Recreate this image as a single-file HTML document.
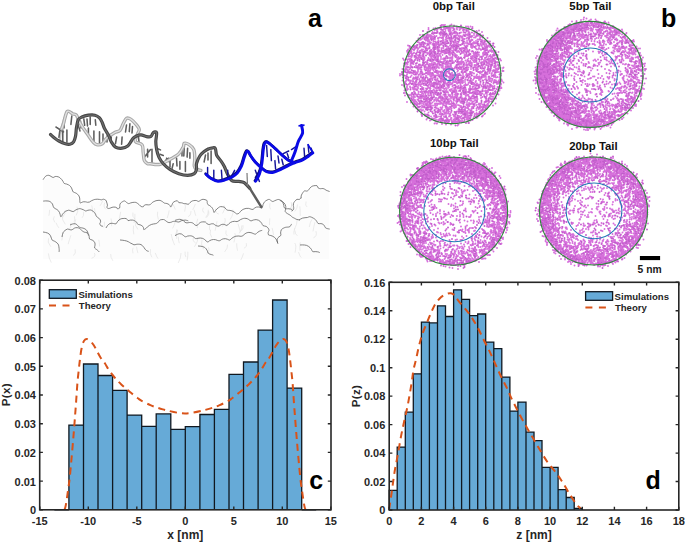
<!DOCTYPE html><html><head><meta charset="utf-8"><style>html,body{margin:0;padding:0;background:#fff;width:685px;height:542px;overflow:hidden}svg{display:block}</style></head><body>
<svg width="685" height="542" viewBox="0 0 685 542">
<rect width="685" height="542" fill="#fff"/>
<path d="M43 259L43.1 179.7L49 178L56.3 177.5L65 184.1L73.8 192.9L80.4 203.8L95.7 201.6L104.5 199.4L106.7 208.2L117.6 210.4L124.2 203.8L135.1 203.8L143.9 208.2L152.6 203.8L161.4 201.6L170.2 208.2L176.7 201.6L183.3 206L196.4 201.6L205.2 201.6L214 212.6L222.7 208.2L235.9 214.8L249 210.4L262.1 208.2L268.7 201.6L279.7 201.6L286.2 210.4L292.8 212.6L297.3 200.4L303.5 198.8L305.1 192.6L311.4 189.4L316.1 187.1L320.8 190.2L327.1 191L328.7 192.2L329 259Z" fill="#fcfcfc"/>
<path d="M175.6 220.9q-1.4 4.6 -3 7.5M297.5 204.5q0.2 3.8 -2.8 6.9M243 225.3q0.9 2.5 -1.6 5.6M187.8 251.7q0.4 4.3 -0.7 8.7M74.5 216.3q0.7 4.2 -0.5 5.4M120.7 211.8q-0.9 4.4 -1.8 9.4M292.2 203.1q-0.5 3.5 -2.9 7.1M299.8 206.3q0.4 2.4 0.5 9.5M102.9 200.5q-1.7 3.6 -2.9 5.4M185.1 251.6q-0.3 3.2 0.8 5.5M208.3 209.7q0.4 4.9 -2.7 7.8M215.8 208.4q-0.9 5 3 5.6M243.5 253.3q-1.1 3.8 -2.7 6.8M234.8 233.1q1.1 2.3 -0.9 9.3M209.6 225.3q-0.4 5 0.4 5.1M269.8 218.4q-0.3 2.6 -0.3 6.6M70.9 235.3q-1.6 4.4 -2.8 8.9M272.1 227.9q0.8 2.7 1.4 7.1M110.7 254q-0.4 3.1 2.2 6.8M232.9 209.6q1.4 2.8 -2.7 9.9M94.4 253q1.9 3.8 -2.9 5.3M104.4 221.8q0.4 4.9 -0.9 5.7M203.3 207.7q-1.7 3.7 1.2 5.3M172.4 239.4q1.1 3.1 2.3 5.8M246.3 243.2q1.5 3.5 -2.4 5.2M194.1 209.7q0.5 2.3 1.7 6.1M49.6 209.8q-0.2 3.7 -0.7 5.9M181 253q0.1 4.8 -2.8 10M294.9 230.5q0.1 3.6 2.5 5.3M226 230.4q-0.8 4.2 1.3 5.5M241.9 225.4q0 3.9 -2.7 8M150.5 249.2q-1.1 4.5 1.4 8.1M291.2 202q0.4 3.8 1.1 7M65.3 210.6q0.4 2.5 -2.6 6.8M177.7 230q-1.9 4.3 -1 8.9M48.4 253.4q0.4 4.9 2.9 9.2M75.7 219.5q-1.1 4.3 -1.8 6.1M77 206.7q1.8 4.9 -0.8 8.7M176.9 229.2q-0.5 3.9 -1.6 6.3M191 211.1q-0.2 4.8 -2.9 5.5M270 203.2q-1 4.6 0.6 6.1M62.4 215.4q-0.8 4.4 2.9 8.9M298.5 252.1q1.5 4.8 2.8 5.5M134.9 213.8q0.4 3.5 -0.9 9.2M157.7 211.7q-0.9 3.4 0.7 7.8M169.2 210.4q-0.4 3 -2 7.7M98.8 239.8q0.6 2.4 0.8 6.7M171.2 234q1 4.7 1.4 6.1M197.7 218.8q-1.9 3.7 -0.2 9.3M136.6 246.7q0.1 2.3 1.3 6.4M195.4 204q-2 4.8 -2.7 5.7M91.7 205.4q1.3 5 0.9 7M294.8 228.3q-1.5 4.1 -0.8 6.3M135.7 221.6q-1.3 3.8 2.2 7.9M48.6 238.3q-1.9 3.4 2.2 8.4M300.3 242.3q-0.9 2.4 -0.3 8.4M111 218.5q1 3 0.6 7.7M306.1 201.5q-1.3 4.3 1 5.5M83.7 211.8q0.2 4.7 -1.7 6M238 223.7q1.4 5 2.6 8.6M184.9 203.4q1.2 3.2 -0.2 8.2M315.9 231.1q1.7 4.9 -2.5 6.8M294.8 243q1.9 2.6 0.2 9.7M197.1 237.5q1.9 2.5 -2.7 9.3M208.7 211.2q1.3 2.9 -2.2 6.5M56.1 222.7q1.1 3.4 2.8 5.2M94.5 208.1q0.3 2.6 1 7.6M208.6 247.3q1.2 4.8 -2.1 6.9M314.9 222.2q-0.9 3.4 -1.9 9.2M224.1 205.3q1.9 3.6 -1.5 8.1M311.9 219.4q-1.9 2.6 -2.6 7.6M133.2 247.7q-1.2 2 -0.2 5.6M132.9 212.6q-1.3 3.9 2.6 6.9M224.8 218.1q1.7 3.7 -2.8 8.7M104.8 202.6q-1.9 4.5 1.3 6.8M202.1 239.5q-1.7 4.1 1.3 9.7M62.6 232.1q0 4.5 -0.8 8.3M297.2 219.5q0.1 4.7 -2.8 9.9M133.6 225.6q-0.8 4.4 0.2 8.7M75.1 249.3q1.3 4 -1.7 6.3M172.6 203.6q1.8 3.2 2.7 5.9M227.5 244.7q0.6 3.3 -2.9 7.2M155.2 252.9q1.9 4.9 2.9 5.8M54.3 216.4q-2 2.4 0.5 6M217 221.3q-0.9 4.9 -1.9 9.4M193.5 237.1q-1.4 4.2 2.3 6M178.4 236.6q-0.1 4.3 0.9 6.6M236.7 243.3q-0.1 3.8 0.8 7.4M70.9 222.8q1.1 4.2 -2.6 7.4M210.6 229.8q-1.4 3.9 1.2 7.7" stroke="#d4d4d4" stroke-width="0.9" fill="none" opacity="0.5"/>
<g fill="none" stroke="#4a4a4a" stroke-width="0.8" stroke-linejoin="round" opacity="0.85">
<path d="M43.1 179.7C43.3 179.3 44 178.1 44.6 177.4C45.1 176.8 45.5 176.2 46.2 175.8C47 175.5 48 175.2 48.8 175.3C49.6 175.4 50.3 176.1 51 176.4C51.7 176.8 52.5 177.5 53.2 177.5C53.9 177.5 54.3 176.6 55.2 176.5C56 176.4 57.4 176.5 58.2 176.8C59 177 59.5 177.5 60.1 177.9C60.7 178.4 61.2 178.9 61.7 179.5C62.1 180 62.6 180.7 63 181.3C63.4 182 63.6 183 64.2 183.4C64.8 183.8 65.8 183.8 66.5 184C67.3 184.3 68 184.5 68.6 184.9C69.2 185.2 69.8 185.7 70.3 186.2C70.7 186.7 71.1 187.3 71.5 187.9C71.8 188.5 72 189.4 72.3 190C72.6 190.7 72.7 191.5 73.3 192C73.9 192.4 75 192.6 75.7 193C76.5 193.3 77.1 193.8 77.6 194.3C78.2 194.8 78.6 195.4 79 196C79.3 196.6 79.5 197.3 79.7 198C79.8 198.8 79.8 199.6 79.8 200.4C79.9 201.2 79.7 202.5 80 202.8C80.2 203.2 80.7 202.8 81.3 202.6C81.8 202.4 82.6 202 83.2 201.8C83.9 201.7 84.6 201.7 85.3 201.8C86 201.8 86.8 202.2 87.5 202.3C88.2 202.3 88.9 202.2 89.5 202C90.2 201.7 90.8 201.1 91.4 200.8C92.1 200.4 92.7 200.1 93.4 199.9C94 199.6 94.5 199.5 95.2 199.4C95.8 199.3 96.5 199.2 97.2 199.2C97.9 199.2 98.6 199.3 99.3 199.4C100 199.4 100.8 199.8 101.5 199.8C102.2 199.7 102.7 199.2 103.4 199.2C104.1 199.3 105.2 199.7 105.7 200.1C106.3 200.6 106.4 201.4 106.6 202C106.8 202.6 107 203.3 107.2 203.9C107.3 204.6 107.5 205.4 107.4 205.9C107.4 206.5 106.6 207 106.8 207.5C107.1 207.9 108 208.5 108.7 208.5C109.4 208.6 110.2 208 110.9 207.8C111.6 207.5 112.4 207.2 113.1 207.1C113.8 207 114.5 207 115.2 207.1C115.8 207.3 116.7 207.6 117.1 207.9C117.5 208.2 117 208.8 117.4 208.8C117.9 208.8 119.2 208.6 119.6 208C120 207.4 119.7 206.1 119.8 205.3C120 204.5 119.9 203.8 120.6 203.1C121.3 202.4 123.2 201.1 124.2 200.9C125.2 200.8 125.7 201.8 126.4 202.3C127.1 202.7 127.8 203.5 128.6 203.6C129.3 203.7 130 203.1 130.7 202.9C131.5 202.7 132.1 202.5 132.9 202.4C133.8 202.4 135 202.2 135.8 202.4C136.6 202.6 137.1 203.1 137.7 203.5C138.3 203.9 138.9 204.4 139.4 204.9C140 205.4 140.4 206.2 141.1 206.5C141.8 206.8 143 206.9 143.4 206.7C143.9 206.6 143.4 206 143.8 205.7C144.2 205.4 145.1 204.9 145.8 204.7C146.5 204.6 147.5 204.9 148.3 204.9C149.1 204.8 149.8 204.8 150.5 204.4C151.1 204 151.7 203 152.3 202.5C152.9 202 153.5 201.8 154.1 201.5C154.7 201.2 155.3 200.9 156 200.7C156.6 200.6 157.3 200.5 158 200.4C158.7 200.4 159.3 200.2 160.1 200.4C160.8 200.6 161.9 201.3 162.7 201.8C163.4 202.2 163.7 202.9 164.4 203.1C165.1 203.4 166.1 203.3 166.9 203.5C167.6 203.7 168.3 204 168.9 204.4C169.5 204.9 170.1 205.7 170.3 206.2C170.6 206.6 170.3 207.2 170.6 207.1C170.8 207 171.5 206.1 171.8 205.4C172.1 204.8 172.2 203.9 172.6 203.3C173 202.7 173.2 202.2 174 201.8C174.8 201.4 176.5 200.6 177.3 200.7C178.1 200.9 178.1 202.2 178.8 202.6C179.5 202.9 180.6 202.6 181.4 202.8C182.2 202.9 183.3 203.3 183.6 203.5C184 203.6 183.2 203.6 183.6 203.6C184 203.7 185.1 203.6 185.9 203.7C186.7 203.8 187.6 204.5 188.3 204.3C189 204.1 189.4 203.1 190 202.6C190.6 202.1 191.2 201.6 191.8 201.2C192.4 200.9 193 200.7 193.8 200.6C194.6 200.5 195.6 200.4 196.4 200.5C197.2 200.7 197.9 201.5 198.6 201.4C199.3 201.4 200.1 200.4 200.8 200.1C201.5 199.7 202 199.3 203 199.3C204 199.4 206.1 199.8 206.8 200.4C207.5 200.9 207 201.8 207.2 202.6C207.4 203.3 207.5 204.1 207.9 204.6C208.3 205.1 209.2 205.3 209.8 205.7C210.4 206.1 210.9 206.5 211.4 207C211.9 207.4 212.3 208 212.6 208.6C213 209.1 213.2 209.8 213.4 210.5C213.7 211.1 213.6 212.5 214 212.5C214.3 212.6 214.9 211.3 215.4 210.7C215.9 210.1 216.4 209.4 217 208.9C217.5 208.4 218.1 207.9 218.7 207.5C219.3 207.1 219.7 206.7 220.7 206.6C221.6 206.6 223.5 206.8 224.4 207.2C225.2 207.6 225.3 208.5 225.8 209C226.4 209.5 226.9 210 227.6 210.2C228.3 210.5 229.1 210.3 229.8 210.4C230.6 210.5 231.3 210.7 232 210.9C232.6 211.1 233.3 211.4 233.9 211.8C234.5 212.2 235.1 212.7 235.6 213.1C236.1 213.4 236.2 213.8 236.7 213.9C237.2 213.9 238.2 213.8 238.8 213.4C239.4 213 239.9 212.1 240.4 211.5C241 211 241.5 210.4 242.1 210C242.7 209.6 243.4 209.2 244 209C244.7 208.7 245.3 208.5 246.1 208.4C246.9 208.4 247.9 208.3 248.7 208.4C249.5 208.5 250.1 208.9 250.9 209.1C251.6 209.3 252.3 209.6 253 209.4C253.6 209.2 254.2 208.3 254.8 207.9C255.4 207.5 256.1 207.2 256.7 207C257.4 206.9 258.1 206.9 258.8 207C259.5 207.1 260.4 207.6 261 207.7C261.6 207.7 262.1 207.5 262.4 207C262.8 206.6 262.8 205.5 263 204.7C263.3 204 263.6 203.3 264 202.7C264.4 202.1 264.5 201.7 265.3 201.2C266.1 200.6 267.8 199.5 268.7 199.4C269.6 199.2 270 200 270.7 200.3C271.4 200.7 272 201.5 272.7 201.5C273.4 201.6 274 201 274.7 200.7C275.4 200.4 276 200.2 276.7 199.9C277.4 199.7 277.8 199.3 278.7 199.5C279.6 199.7 281.4 200.6 282.1 201.2C282.8 201.8 282.8 202.5 283.1 203.2C283.4 203.9 283.6 204.6 283.8 205.4C284 206.2 283.8 207.2 284.3 207.7C284.7 208.3 285.9 208.6 286.5 208.8C287.2 208.9 287.4 208.6 288 208.7C288.6 208.7 289.6 208.8 290.3 209C291.1 209.2 292.2 209.6 292.4 210C292.7 210.3 291.5 211.2 291.7 211.1C291.9 211.1 293.1 210.2 293.4 209.6C293.7 209 293.7 208.3 293.7 207.6C293.7 206.9 293.4 206.1 293.3 205.3C293.3 204.6 293.4 203.9 293.6 203.3C293.8 202.7 294 202.2 294.6 201.5C295.2 200.9 296.2 199.6 297 199.3C297.8 199 298.6 199.8 299.3 199.5C299.9 199.3 300.7 198 301 197.8C301.3 197.5 301 198.5 301 198.2C301.1 197.9 301 196.7 301.2 196C301.3 195.3 301.5 194.8 302 194C302.5 193.2 303.5 191.4 304.3 191C305 190.5 305.9 191.2 306.6 191.1C307.3 191 307.9 190.7 308.4 190.2C308.9 189.8 309.2 188.9 309.7 188.3C310.2 187.7 310.7 187.2 311.3 186.8C311.9 186.4 312.2 186 313.2 185.9C314.1 185.7 316.2 185.3 317 185.7C317.9 186.1 317.6 187.5 318.2 188C318.8 188.5 319.8 188.6 320.4 188.7C321.1 188.8 321.5 188.5 322.1 188.5C322.7 188.5 323.5 188.6 324.2 188.9C324.8 189.2 325.3 189.7 326.1 190.2C327 190.6 328.7 191.2 329.3 191.4C329.8 191.7 329.3 191.4 329.3 191.4"/>
<path d="M43.2 201.1C43.6 201.1 44.9 200.9 45.7 200.9C46.5 200.9 47.4 200.9 48.1 201C48.9 201.2 49.5 201.2 50.2 201.7C51 202.2 51.9 203.1 52.4 203.9C52.9 204.6 52.8 205.4 53.1 206.1C53.4 206.8 53.6 207.5 54.2 208C54.7 208.5 55.6 208.7 56.2 209.1C56.9 209.5 57.7 210 58.2 210.5C58.7 211.1 59 211.6 59.4 212.3C59.7 212.9 59.9 213.6 60.1 214.3C60.4 215 60.4 216.2 60.6 216.5C60.8 216.9 61 216.9 61.3 216.5C61.7 216.1 62.1 215 62.5 214.3C63 213.6 63.4 213 64 212.5C64.5 212 65 211.6 65.7 211.2C66.5 210.9 67.8 210.3 68.6 210.2C69.5 210.2 70.2 210.6 70.9 210.9C71.7 211.1 72.5 211.7 73.2 211.6C73.9 211.5 74.5 210.7 75.2 210.3C75.8 209.9 76.4 209.6 77.1 209.3C77.9 209 78.9 208.7 79.7 208.6C80.5 208.6 81.1 208.9 81.7 209.1C82.4 209.3 83.1 209.6 83.7 209.9C84.4 210.2 85 210.9 85.7 211C86.4 211.1 87 210.5 87.8 210.3C88.7 210.1 90 209.9 90.8 210C91.6 210.1 92.1 210.6 92.7 211C93.3 211.3 93.8 211.8 94.3 212.4C94.8 212.9 95.2 213.6 95.6 214.3C96 214.9 96 215.9 96.6 216.6C97.1 217.2 98.2 217.6 98.8 218.2C99.5 218.8 100 219.4 100.3 220C100.6 220.7 100.6 221.6 100.6 222.2C100.5 222.7 99.8 222.8 99.8 223.4C99.8 223.9 100.2 225.1 100.7 225.6C101.2 226.1 102.4 226.2 102.8 226.3C103.1 226.5 102.8 226.3 102.8 226.3"/>
<path d="M43 232C43.4 232.1 44.6 232.2 45.4 232.4C46.1 232.5 46.9 232.7 47.5 233C48.2 233.3 48.8 233.7 49.3 234.1C49.8 234.6 50.2 235.2 50.5 235.8C50.9 236.5 51.1 237.4 51.4 238.2C51.7 238.9 51.7 239.7 52.2 240.1C52.7 240.6 53.6 240.7 54.3 241.1C54.9 241.4 55.5 241.7 56.1 242.2C56.8 242.7 57.6 243.4 58.1 244.1C58.5 244.8 58.7 245.4 58.8 246.2C59 246.9 59.1 247.6 59.1 248.4C59.2 249.2 59.2 250.2 59.2 250.8C59.1 251.3 59.1 251.8 59.1 252"/>
<path d="M62 237C62.1 236.6 62.3 235.3 62.5 234.5C62.7 233.7 63 233 63.3 232.3C63.7 231.7 64 231.2 64.7 230.7C65.4 230.1 66.7 229.2 67.6 229C68.4 228.8 69.1 229.6 69.8 229.7C70.5 229.8 71.3 230 71.9 229.8C72.6 229.6 73.1 229 73.8 228.6C74.4 228.2 74.8 227.8 75.7 227.7C76.5 227.5 77.9 227.7 78.8 228C79.6 228.2 80 228.8 80.6 229.3C81.2 229.8 81.7 230.5 82.3 230.9C82.9 231.4 83.4 231.7 84.2 232.1C85 232.4 86.4 232.4 87.1 232.8C87.8 233.2 88.2 233.8 88.6 234.4C88.9 235 89 235.9 89.2 236.6C89.3 237.4 89.1 238.4 89.6 239C90 239.6 91.4 239.6 92.1 240C92.8 240.3 93.4 240.7 93.9 241.3C94.4 241.8 94.7 242.4 94.9 243C95.1 243.7 95.1 244.4 95 245.2C95 246.1 94.3 247.3 94.6 248C94.9 248.7 95.9 248.9 96.6 249.5C97.2 250 98 250.6 98.4 251C98.9 251.4 99.1 251.8 99.2 251.9"/>
<path d="M106 228C106.2 227.6 106.9 226.4 107.4 225.7C107.9 225.1 108.4 224.4 109.1 224C109.7 223.6 110.3 223.4 111.1 223.3C111.8 223.2 112.6 223.4 113.5 223.5C114.3 223.5 115.3 224.1 115.9 223.9C116.6 223.6 116.9 222.4 117.4 221.7C117.9 221.1 118.5 220.5 119 220C119.6 219.5 120.2 219.1 120.9 218.9C121.6 218.6 122.1 218.5 123.1 218.5C124 218.4 125.6 218.3 126.4 218.6C127.2 219 127.4 220.3 128 220.6C128.7 220.8 129.6 220.2 130.3 220.1C131.1 220 131.8 220 132.5 220.1C133.2 220.2 133.8 220.3 134.5 220.7C135.2 221.1 136.1 221.7 136.7 222.2C137.2 222.8 137.2 223.8 137.7 224.2C138.3 224.7 139.4 224.5 140.1 224.8C140.8 225.1 141.5 225.4 142 225.8C142.6 226.2 143.2 226.8 143.4 227.4C143.7 228 143.3 229.3 143.7 229.5C144.1 229.6 145.2 229 145.8 228.6C146.4 228.1 146.9 227.4 147.4 226.9C148 226.4 148.6 225.9 149.3 225.5C149.9 225.1 150.6 224.8 151.3 224.5C151.9 224.3 152.6 224.1 153.3 224C153.9 223.8 154.7 223.8 155.4 223.7C156.1 223.5 156.8 223.4 157.3 223C157.9 222.6 158.3 221.8 158.8 221.3C159.2 220.8 159.5 220.2 160.3 219.9C161.1 219.6 162.7 219.4 163.5 219.5C164.4 219.6 164.8 220.1 165.4 220.5C166 220.9 166.6 221.6 167.2 221.9C167.8 222.3 168.4 222.6 169.1 222.6C169.9 222.6 170.9 222.3 171.5 222.1C172 221.9 172 221.7 172.5 221.6C173 221.5 173.8 221.3 174.5 221.3C175.2 221.3 176 221.6 176.7 221.7C177.5 221.8 178.2 222.2 178.9 222C179.7 221.9 180.4 221.1 181.2 220.8C181.9 220.5 182.6 220.4 183.3 220.3C184 220.2 184.6 220.1 185.3 220.1C186 220.2 186.8 220.4 187.3 220.5C187.8 220.6 188.1 220.8 188.3 220.9"/>
<path d="M70 225C70.4 224.8 71.7 224.2 72.5 224C73.3 223.8 74.1 223.6 74.8 223.7C75.5 223.8 76.1 224.1 76.7 224.5C77.3 224.9 77.7 225.8 78.3 226.3C78.9 226.9 79.7 227.3 80.4 227.6C81.2 227.9 82.1 227.8 82.9 228.1C83.6 228.3 84.3 228.5 84.9 228.9C85.6 229.2 86.1 229.7 86.5 230.2C87 230.7 87.3 231.4 87.6 232C87.9 232.7 88.1 233.7 88.2 234.3C88.4 234.9 88.4 235.4 88.4 235.6"/>
<path d="M120 240C120.4 240 121.5 240.1 122.2 240.2C123 240.3 123.7 240.3 124.4 240.5C125.2 240.6 125.9 240.8 126.6 241C127.2 241.2 127.9 241.5 128.5 241.8C129.2 242.1 129.6 242.6 130.2 242.9C130.8 243.2 131.5 243.5 132.1 243.8C132.8 244.1 133.3 244.7 134 244.8C134.7 244.9 135.5 244.5 136.2 244.4C136.9 244.3 137.5 244.1 138.3 244.2C139.1 244.2 140.3 244.3 141.1 244.6C141.8 244.9 142.1 245.4 142.6 245.9C143.1 246.3 143.5 246.9 143.9 247.4C144.3 248 144.7 248.7 145.1 249.2C145.5 249.7 146 250.2 146.5 250.6C147.1 251 148.2 251.2 148.5 251.3C148.8 251.4 148.5 251.3 148.5 251.3"/>
<path d="M175 220.4C175.4 220.3 176.5 219.9 177.3 219.7C178 219.5 178.7 219.3 179.4 219.3C180.1 219.3 180.8 219.4 181.4 219.6C182.1 219.9 182.7 220.2 183.3 220.6C183.9 221.1 184.4 221.9 185 222.3C185.6 222.6 186.3 222.9 187 222.9C187.8 222.9 188.6 222.5 189.4 222.5C190.2 222.4 190.9 222.5 191.6 222.6C192.3 222.8 193 223.1 193.5 223.5C194.1 223.8 194.2 224.6 194.8 224.9C195.4 225.2 196.3 225.7 197 225.5C197.6 225.3 198.1 224.3 198.7 223.8C199.3 223.2 199.9 222.8 200.5 222.4C201.2 222.1 201.7 221.9 202.5 221.9C203.3 221.8 204.8 221.8 205.6 222.1C206.4 222.4 206.6 223.5 207.2 223.9C207.8 224.3 208.5 224.5 209.2 224.5C210 224.5 210.8 223.9 211.6 223.8C212.3 223.7 213.2 223.8 213.7 223.9C214.3 224.1 214.3 224.6 214.8 224.9C215.3 225.2 216.2 225.7 216.9 225.9C217.6 226.1 218.3 226.3 219 226.1C219.6 225.9 220.2 225.1 220.9 224.8C221.5 224.5 222.1 224.3 222.8 224.3C223.5 224.2 224.2 224.5 224.9 224.7C225.6 224.9 226.3 225.6 226.9 225.5C227.6 225.3 228.1 224.4 228.7 223.9C229.2 223.5 229.8 222.9 230.4 222.5C231 222.1 231.7 221.8 232.4 221.6C233.1 221.4 233.8 221.3 234.6 221.3C235.3 221.3 236.2 221.7 237 221.6C237.7 221.5 238.2 221 238.9 220.7C239.5 220.4 240.1 219.9 240.7 219.5C241.3 219.2 242 218.9 242.6 218.7C243.3 218.5 243.8 218.3 244.6 218.3C245.4 218.3 246.6 218.4 247.3 218.7C248.1 219 248.6 219.5 249.2 219.9C249.8 220.3 250.4 220.9 251.1 220.9C251.7 220.9 252.5 220.2 253.4 220C254.2 219.8 255.4 219.6 256.2 219.6C257 219.7 257.7 219.9 258.4 220.2C259 220.5 259.6 220.9 260.2 221.4C260.7 222 261.2 222.6 261.7 223.3C262.2 224 262.3 225.1 263 225.6C263.8 226.1 265.3 226 266.2 226.4C267 226.9 267.7 227.6 268.2 228.2C268.7 228.9 269 229.7 269 230.4C269 231.1 268.2 231.6 268.2 232.3C268.1 233.1 268.1 234.4 268.5 234.9C269 235.4 270.1 235.3 270.8 235.5C271.5 235.8 272.2 236 272.9 236.3C273.5 236.7 274.1 237 274.7 237.5C275.2 237.9 275.6 238.4 276 239C276.4 239.6 276.7 240.2 277 240.9C277.3 241.6 277.6 242.7 277.7 243.1C277.9 243.5 277.8 243.6 277.7 243.2C277.6 242.8 277.2 241.5 277.1 240.8C277.1 240 277.2 239.3 277.5 238.6C277.7 238 278.3 237.4 278.9 236.9C279.4 236.3 280.6 236 280.9 235.3C281.2 234.7 280.6 233.9 280.6 233C280.7 232.1 280.9 230.6 281.3 229.8C281.8 229.1 282.5 228.7 283.2 228.3C283.9 227.9 284.8 227.5 285.6 227.3C286.3 227.1 287 227.2 287.7 227.1C288.4 227 289.2 227.1 289.8 226.7C290.4 226.3 290.8 225.2 291.1 224.8C291.4 224.3 291.7 224.1 291.8 224"/>
<path d="M280 200.4C280.4 200.6 281.5 201.2 282.2 201.6C282.8 202 283.5 202.4 284 202.9C284.5 203.4 284.9 203.9 285.2 204.5C285.5 205.2 285.7 206 285.8 206.7C285.9 207.5 285.7 208.3 285.6 209.1C285.5 209.9 285 210.9 285.2 211.5C285.4 212.2 286.3 212.8 286.8 213.2C287.2 213.6 287.6 213.6 288.1 214C288.6 214.3 289.4 214.6 289.9 215C290.5 215.4 291.1 216 291.5 216.4C291.9 216.7 291.9 216.8 292.4 217.2C292.9 217.5 293.9 217.9 294.6 218.3C295.4 218.7 296.1 219.3 296.9 219.5C297.7 219.8 299.1 219.6 299.5 219.7C299.8 219.9 298.8 220.5 299 220.3C299.2 220.2 300 219.3 300.6 219C301.2 218.6 301.9 218.3 302.6 218.1C303.4 217.9 304.2 217.9 305 217.7C305.8 217.6 306.6 217.6 307.4 217.5C308.2 217.3 308.9 216.7 309.7 216.7C310.4 216.7 311.1 217.1 311.7 217.3C312.4 217.6 313 217.9 313.6 218.3C314.2 218.6 314.9 219.1 315.4 219.6C315.9 220.1 316.4 220.8 316.8 221.5C317.3 222.1 317.5 223.1 318.1 223.5C318.8 223.8 320 223.5 320.8 223.6C321.6 223.7 322.2 223.8 322.8 224.2C323.4 224.5 323.9 225 324.3 225.6C324.8 226.2 324.9 227.2 325.4 227.7C325.9 228.2 326.6 228.4 327.3 228.6C327.9 228.8 329.1 228.9 329.4 229C329.8 229.1 329.4 229 329.4 229"/>
<path d="M175 235.7C175.4 235.5 176.5 234.7 177.3 234.4C178 234.1 178.7 233.8 179.4 233.7C180.1 233.7 180.8 233.8 181.5 234C182.1 234.3 182.8 234.9 183.4 235.4C184 235.8 184.6 236.7 185.3 236.8C186 237 186.8 236.3 187.5 236.1C188.2 235.9 188.9 235.8 189.6 235.8C190.3 235.8 191 235.8 191.7 236C192.4 236.2 193.2 236.6 193.8 237.1C194.5 237.5 194.9 238.4 195.6 238.6C196.3 238.8 197.1 238.4 197.9 238.3C198.7 238.2 199.5 238 200.2 238C200.9 238 201.7 238.1 202.3 238.3C203 238.5 203.6 238.8 204.3 239.3C204.9 239.7 205.4 240.3 206 240.8C206.6 241.3 207.2 242 207.8 242C208.4 242 209 241.1 209.6 240.7C210.3 240.3 210.9 240 211.6 239.8C212.2 239.6 212.9 239.5 213.5 239.5C214.2 239.5 214.9 239.6 215.6 239.7C216.3 239.9 217 240.3 217.7 240.5C218.4 240.7 219.1 240.9 219.7 240.7C220.4 240.6 221 239.9 221.6 239.5C222.2 239.2 222.9 238.9 223.5 238.8C224.2 238.7 224.9 238.7 225.5 238.7C226.2 238.8 226.9 239 227.6 239.3C228.3 239.5 229.1 240.2 229.7 240.1C230.3 240 230.8 239.1 231.4 238.6C231.9 238.2 232.5 237.7 233.1 237.4C233.7 237 234.3 236.7 234.9 236.5C235.5 236.3 236.2 236.1 236.9 236.1C237.5 236 238.2 236 238.9 236C239.7 236.1 240.4 236.4 241.1 236.3C241.8 236.2 242.4 236 243 235.6C243.6 235.2 244.2 234.3 244.9 233.9C245.5 233.4 246.2 233.1 246.8 232.8C247.5 232.6 248.2 232.4 248.9 232.4C249.6 232.4 250.3 232.5 251 232.7C251.7 232.8 252.5 233.2 253.2 233.5C253.9 233.7 254.7 234.4 255.4 234.2C256.1 234.1 256.6 233.1 257.3 232.6C257.9 232.1 258.5 231.7 259.2 231.3C259.8 231 260.7 230.7 261.2 230.6C261.7 230.4 262 230.5 262.2 230.4"/>
<path d="M198 246C198.4 246 199.6 246.1 200.4 246.2C201.2 246.2 201.9 246.3 202.6 246.5C203.3 246.7 203.9 247 204.5 247.4C205.1 247.7 205.5 248.1 206 248.7C206.5 249.2 206.9 249.8 207.2 250.5C207.6 251.3 207.6 252.4 208.1 253C208.5 253.6 209.3 253.9 210 254.2C210.7 254.5 211.8 254.6 212.4 254.8C212.9 255 213.3 255.2 213.4 255.3"/>
<path d="M300 245C300.4 245 301.6 244.9 302.3 244.9C303.1 244.9 303.8 244.9 304.6 245C305.3 245.1 306 245.2 306.6 245.4C307.3 245.6 307.9 245.9 308.4 246.3C309 246.7 309.5 247.1 310 247.6C310.6 248.2 311.1 248.8 311.5 249.5C312 250.2 312.1 251.3 312.7 251.6C313.3 252 314.4 251.6 315.2 251.6C316 251.7 316.8 251.7 317.5 251.8C318.3 251.9 319.2 252.3 319.6 252.5C319.9 252.6 319.6 252.5 319.6 252.5"/>
</g>
<path d="M56 127 L63.5 131.8" stroke="#9a9a9a" stroke-width="1.4" fill="none" stroke-linecap="round" stroke-linejoin="round"/>
<path d="M67.2 111.5C66.8 112.6 65.4 115.6 64.5 118C63.6 120.4 62.7 123.3 62 126C61.3 128.7 60.8 131.7 60.5 134C60.2 136.3 60.1 139 60 140" stroke="#c8c8c8" stroke-width="2.2" fill="none" stroke-linecap="round" stroke-linejoin="round"/>
<path d="M66.9 130V142M71.8 116L70.9 124.4M83.8 118.9L84.7 125.3M90.2 117V124.4M95.3 119.8L95.8 125.3M88.4 128V134.5M93.9 130.9V142.9M99.5 131.8V142.9M59.8 130.9L58.9 137.3M62.8 130V143M56.1 127.2L63.5 131.8M77.5 123L80 131M116.6 137.1L115.5 143.7M122.1 137.1L121.6 144.3M129.9 123.8L129.3 131.6M126.5 125L125.5 132M132.5 126.5L132 133M111.5 134L111 140M147.6 149.3V157M152 149.3V162.6M144.5 157L150.5 149.5M157.7 148.8L160.5 149.9M160 154.3L163.3 155.4M165.5 160.4L168.8 158.2M166.6 158.2L168.8 161.5M173.2 163.7L172.1 168.2M179.9 161.5V169.3M185.4 161.5V171.5M184.3 146L183.8 156M187.6 148.2L187.1 157.1M189.9 152.7V158.2M176.5 158L177 166M211.1 151V163.4M205.5 155.1L204.1 162M208 153L208 160M103 134L103 142M107 136L107 142M64.5 119L64 128M80.5 121L81 128M87 119L87.5 126M170 160L170 167M182 148L182 156M138.5 137L139 142" stroke="#5e5e5e" stroke-width="1.55" fill="none" stroke-linecap="round"/>
<path d="M61.6 129C61.9 128.1 62.6 126.4 63.5 123.5C64.4 120.6 65.7 113.1 67.2 111.5C68.7 109.9 71.2 113.2 72.7 113.8C74.2 114.4 75.3 113.9 76.4 115.2C77.5 116.5 78 119.3 79.2 121.6C80.4 123.9 82.3 126.7 83.8 129C85.3 131.3 86.9 133.3 88.4 135.5C89.9 137.7 91.6 140.4 93 141.9C94.4 143.4 95.2 144.4 96.7 144.7C98.2 145 100.6 144.9 102.2 143.8C103.8 142.7 104.6 140 106.6 138.2C108.6 136.3 112.2 134 114.4 132.7C116.6 131.4 118.4 132 119.9 130.5C121.4 129 122.1 125.8 123.2 123.8C124.3 121.8 125.3 119 126.6 118.3C127.9 117.6 129.3 118.3 131 119.4C132.7 120.5 135.1 123.2 136.5 124.9C137.9 126.6 139.1 127.9 139.3 129.4C139.5 130.9 138.2 131.8 137.6 133.8C136.9 135.8 134.7 139.7 135.4 141.5C136.2 143.3 140.8 143.1 142.1 144.9C143.4 146.8 142.8 150 143.2 152.6C143.6 155.2 143.6 158.6 144.3 160.4C145 162.2 146.7 163.1 147.6 163.7C148.5 164.2 147.9 163.6 150 163.7C152.1 163.8 156.3 165.2 160 164.3C163.7 163.4 169 159.9 172.1 158.2C175.2 156.4 177 155.7 178.8 153.8C180.7 152 182.3 148.8 183.2 147.1C184.1 145.3 183.4 143.8 184.3 143.3C185.2 142.9 187.1 143.4 188.7 144.4C190.3 145.4 192.7 147.1 193.7 149.4C194.7 151.7 194.7 155.4 194.8 158.2C194.9 161 194 164.2 194.3 166C194.6 167.8 195.4 168.6 196.5 169.3C197.6 170 200.2 170.2 200.9 170.4" stroke="#a8a8a8" stroke-width="3.4" fill="none" stroke-linecap="round" stroke-linejoin="round"/>
<path d="M61.6 129C61.9 128.1 62.6 126.4 63.5 123.5C64.4 120.6 65.7 113.1 67.2 111.5C68.7 109.9 71.2 113.2 72.7 113.8C74.2 114.4 75.3 113.9 76.4 115.2C77.5 116.5 78 119.3 79.2 121.6C80.4 123.9 82.3 126.7 83.8 129C85.3 131.3 86.9 133.3 88.4 135.5C89.9 137.7 91.6 140.4 93 141.9C94.4 143.4 95.2 144.4 96.7 144.7C98.2 145 100.6 144.9 102.2 143.8C103.8 142.7 104.6 140 106.6 138.2C108.6 136.3 112.2 134 114.4 132.7C116.6 131.4 118.4 132 119.9 130.5C121.4 129 122.1 125.8 123.2 123.8C124.3 121.8 125.3 119 126.6 118.3C127.9 117.6 129.3 118.3 131 119.4C132.7 120.5 135.1 123.2 136.5 124.9C137.9 126.6 139.1 127.9 139.3 129.4C139.5 130.9 138.2 131.8 137.6 133.8C136.9 135.8 134.7 139.7 135.4 141.5C136.2 143.3 140.8 143.1 142.1 144.9C143.4 146.8 142.8 150 143.2 152.6C143.6 155.2 143.6 158.6 144.3 160.4C145 162.2 146.7 163.1 147.6 163.7C148.5 164.2 147.9 163.6 150 163.7C152.1 163.8 156.3 165.2 160 164.3C163.7 163.4 169 159.9 172.1 158.2C175.2 156.4 177 155.7 178.8 153.8C180.7 152 182.3 148.8 183.2 147.1C184.1 145.3 183.4 143.8 184.3 143.3C185.2 142.9 187.1 143.4 188.7 144.4C190.3 145.4 192.7 147.1 193.7 149.4C194.7 151.7 194.7 155.4 194.8 158.2C194.9 161 194 164.2 194.3 166C194.6 167.8 195.4 168.6 196.5 169.3C197.6 170 200.2 170.2 200.9 170.4" stroke="#e2e2e2" stroke-width="1.3" fill="none" stroke-linecap="round" stroke-linejoin="round"/>
<path d="M50.5 134.5C51.2 135.1 53.1 136.9 54.5 138C55.9 139.1 57.1 140 58.9 141C60.7 142 63.5 143.3 65.3 143.8C67.1 144.3 68.5 144.5 69.9 144.2C71.3 143.9 72.7 143.2 73.6 141.9C74.5 140.6 75 138.7 75.5 136.4C76 134.1 76 130.9 76.4 128.1C76.9 125.3 77.3 121.6 78.2 119.8C79.1 118 80.2 117.8 81.9 117C83.6 116.2 86.2 115.5 88.4 115.2C90.6 114.9 93.1 114.8 94.9 115.2C96.8 115.7 98.3 116.7 99.5 117.9C100.7 119.1 101.4 120.8 102.2 122.5C103 124.2 103.3 125.9 104.4 128.2C105.5 130.4 107.8 133.8 108.9 136C110 138.2 110 139.7 111.1 141.5C112.2 143.3 113.7 146 115.5 147.1C117.3 148.2 120.1 148.4 122.1 148.2C124.1 148 126.2 147.1 127.7 146C129.2 144.9 130.1 142.8 131 141.5C131.9 140.2 132.3 139.1 133.2 138.2C134.1 137.3 135.2 136.6 136.5 136C137.8 135.4 139.3 134.8 141 134.9C142.7 135 144.8 136.3 146.5 136.6C148.2 136.9 149.8 137.2 150.9 136.5C152 135.8 152.4 133.3 153.3 132.7C154.2 132.1 156.2 131.2 156.6 132.7C157 134.2 155.8 138.8 155.8 141.6C155.8 144.4 156.1 146.8 156.6 149.4C157.1 152 157.8 154.7 158.9 157.1C160 159.5 161.5 161.7 163.3 163.7C165.1 165.7 167.3 167.6 169.9 169.3C172.5 171 175.9 172.7 178.8 173.7C181.8 174.7 185 175.4 187.6 175.4C190.2 175.4 192.8 174.7 194.3 173.7C195.8 172.7 196.1 171 196.5 169.3C196.9 167.6 195.9 165.9 196.5 163.7C197.1 161.5 198.5 158 199.8 156C201.1 154 202.7 152.8 204.2 151.6C205.7 150.4 207.5 149.4 208.7 148.8C209.8 148.2 210 148.3 211.1 148.2C212.2 148.1 214.3 147 215.2 148.2C216.1 149.3 215.7 153 216.6 155.1C217.5 157.2 219.4 158.8 220.7 160.6C222 162.4 223 163.9 224.2 166.2C225.4 168.5 226.4 172 227.7 174.4C229 176.8 230 179.5 231.8 180.7C233.6 181.9 236.6 181.1 238.7 181.4C240.8 181.7 242.3 181.5 244.2 182.7C246 183.8 248.9 187.4 249.8 188.3" stroke="#464646" stroke-width="3.2" fill="none" stroke-linecap="round" stroke-linejoin="round"/>
<path d="M50.5 134.5C51.2 135.1 53.1 136.9 54.5 138C55.9 139.1 57.1 140 58.9 141C60.7 142 63.5 143.3 65.3 143.8C67.1 144.3 68.5 144.5 69.9 144.2C71.3 143.9 72.7 143.2 73.6 141.9C74.5 140.6 75 138.7 75.5 136.4C76 134.1 76 130.9 76.4 128.1C76.9 125.3 77.3 121.6 78.2 119.8C79.1 118 80.2 117.8 81.9 117C83.6 116.2 86.2 115.5 88.4 115.2C90.6 114.9 93.1 114.8 94.9 115.2C96.8 115.7 98.3 116.7 99.5 117.9C100.7 119.1 101.4 120.8 102.2 122.5C103 124.2 103.3 125.9 104.4 128.2C105.5 130.4 107.8 133.8 108.9 136C110 138.2 110 139.7 111.1 141.5C112.2 143.3 113.7 146 115.5 147.1C117.3 148.2 120.1 148.4 122.1 148.2C124.1 148 126.2 147.1 127.7 146C129.2 144.9 130.1 142.8 131 141.5C131.9 140.2 132.3 139.1 133.2 138.2C134.1 137.3 135.2 136.6 136.5 136C137.8 135.4 139.3 134.8 141 134.9C142.7 135 144.8 136.3 146.5 136.6C148.2 136.9 149.8 137.2 150.9 136.5C152 135.8 152.4 133.3 153.3 132.7C154.2 132.1 156.2 131.2 156.6 132.7C157 134.2 155.8 138.8 155.8 141.6C155.8 144.4 156.1 146.8 156.6 149.4C157.1 152 157.8 154.7 158.9 157.1C160 159.5 161.5 161.7 163.3 163.7C165.1 165.7 167.3 167.6 169.9 169.3C172.5 171 175.9 172.7 178.8 173.7C181.8 174.7 185 175.4 187.6 175.4C190.2 175.4 192.8 174.7 194.3 173.7C195.8 172.7 196.1 171 196.5 169.3C196.9 167.6 195.9 165.9 196.5 163.7C197.1 161.5 198.5 158 199.8 156C201.1 154 202.7 152.8 204.2 151.6C205.7 150.4 207.5 149.4 208.7 148.8C209.8 148.2 210 148.3 211.1 148.2C212.2 148.1 214.3 147 215.2 148.2C216.1 149.3 215.7 153 216.6 155.1C217.5 157.2 219.4 158.8 220.7 160.6C222 162.4 223 163.9 224.2 166.2C225.4 168.5 226.4 172 227.7 174.4C229 176.8 230 179.5 231.8 180.7C233.6 181.9 236.6 181.1 238.7 181.4C240.8 181.7 242.3 181.5 244.2 182.7C246 183.8 248.9 187.4 249.8 188.3" stroke="#6e6e6e" stroke-width="1.1" fill="none" stroke-linecap="round" stroke-linejoin="round"/>
<path d="M249.8 188.3L261.4 207.2" stroke="#5e5e5e" stroke-width="2.4" fill="none" stroke-linecap="round"/>
<path d="M247 173L247.5 186" stroke="#7a7a7a" stroke-width="1.2" fill="none"/>
<path d="M207.6 167.5V175.8M213.8 170.3V178.6M221.4 170.3L222.1 180M227.7 170.3V178.6M234.6 170.3L231.1 177.2M255.3 170.3L259.4 181.4M259.4 170.3L255.3 177.5M266.6 145.4L267.3 156.5M270.8 149.6L271.4 160.6M274.9 160.6L275.6 169M281.8 159.3L283.2 164.8M287.3 153.7L288.7 157.9M304 148.2L304.6 156.5M308.1 144.7L308.8 152.3M311 148L313 153M288.7 151L283.2 153.7M295.6 146.8L291.5 149.6M278 156L279 163" stroke="#14149a" stroke-width="1.45" fill="none" stroke-linecap="round"/>
<g transform="translate(-0.6 -0.7)">
<path d="M206.2 174.4C207 175.1 209.1 177.4 211.1 178.6C213.1 179.8 215.7 181.2 218 181.4C220.3 181.6 222.6 180.7 224.9 180C227.2 179.3 229.7 178.3 231.8 177.2C233.9 176 235.7 174.9 237.3 173.1C238.9 171.3 240.3 168.7 241.5 166.2C242.7 163.7 243.4 160.2 244.2 157.9C245 155.6 245.6 153.4 246.3 152.3C247 151.2 247.6 150.9 248.4 151.6C249.2 152.3 250 154.8 251.2 156.5C252.3 158.2 253.7 160.2 255.3 162C257 163.8 259.2 166 261.1 167.6C263 169.2 264.5 170.9 266.6 171.7C268.7 172.5 271.2 172.8 273.5 172.4C275.8 172.1 278.1 170.6 280.4 169.6C282.7 168.6 285.2 167.2 287.3 166.2C289.4 165.2 291.3 164.1 292.9 163.4C294.5 162.7 295.4 162.6 297 162C298.6 161.4 300.8 160.9 302.6 160C304.5 159.1 306.4 157.7 308.1 156.5C309.8 155.3 312.1 153.6 312.9 153" stroke="#10106a" stroke-width="2.6" fill="none" stroke-linecap="round" stroke-linejoin="round"/>
<path d="M255.5 181.4C256.2 180.2 258.4 177.1 259.5 174C260.6 170.9 261.4 167 262 163C262.6 159 262.9 153.2 263.3 150C263.7 146.8 263.9 145.3 264.5 144C265.1 142.7 265.7 142 266.6 142C267.5 142 268.1 142.5 270 144C271.9 145.5 275.5 149 277.7 151C279.9 153 281.2 154.4 283 156C284.8 157.6 287.1 159.6 288.7 160.6C290.3 161.6 292.2 161.8 292.9 162" stroke="#10106a" stroke-width="2.6" fill="none" stroke-linecap="round" stroke-linejoin="round"/>
</g>
<path d="M206.2 174.4C207 175.1 209.1 177.4 211.1 178.6C213.1 179.8 215.7 181.2 218 181.4C220.3 181.6 222.6 180.7 224.9 180C227.2 179.3 229.7 178.3 231.8 177.2C233.9 176 235.7 174.9 237.3 173.1C238.9 171.3 240.3 168.7 241.5 166.2C242.7 163.7 243.4 160.2 244.2 157.9C245 155.6 245.6 153.4 246.3 152.3C247 151.2 247.6 150.9 248.4 151.6C249.2 152.3 250 154.8 251.2 156.5C252.3 158.2 253.7 160.2 255.3 162C257 163.8 259.2 166 261.1 167.6C263 169.2 264.5 170.9 266.6 171.7C268.7 172.5 271.2 172.8 273.5 172.4C275.8 172.1 278.1 170.6 280.4 169.6C282.7 168.6 285.2 167.2 287.3 166.2C289.4 165.2 291.3 164.1 292.9 163.4C294.5 162.7 295.4 162.6 297 162C298.6 161.4 300.8 160.9 302.6 160C304.5 159.1 306.4 157.7 308.1 156.5C309.8 155.3 312.1 153.6 312.9 153" stroke="#0a0ae6" stroke-width="2.8" fill="none" stroke-linecap="round" stroke-linejoin="round"/>
<path d="M255.5 181.4C256.2 180.2 258.4 177.1 259.5 174C260.6 170.9 261.4 167 262 163C262.6 159 262.9 153.2 263.3 150C263.7 146.8 263.9 145.3 264.5 144C265.1 142.7 265.7 142 266.6 142C267.5 142 268.1 142.5 270 144C271.9 145.5 275.5 149 277.7 151C279.9 153 281.2 154.4 283 156C284.8 157.6 287.1 159.6 288.7 160.6C290.3 161.6 292.2 161.8 292.9 162" stroke="#0a0ae6" stroke-width="2.8" fill="none" stroke-linecap="round" stroke-linejoin="round"/>
<path d="M291.5 160.6C292.1 159.2 293.9 155.2 295 152C296.1 148.8 297.1 144.5 298.4 141.3C299.7 138.1 302.1 135.7 302.6 133C303.1 130.3 301.7 126.7 301.5 125.4" stroke="#0a0ae6" stroke-width="3.0" fill="none" stroke-linecap="round" stroke-linejoin="round"/>
<path d="M312.9 153 L308.1 144.7" stroke="#0a0ae6" stroke-width="1.6" fill="none" stroke-linecap="round" stroke-linejoin="round"/>
<path d="M298.5 125.8L304.5 125.2" stroke="#0a0ae6" stroke-width="1.8" fill="none"/>
<text x="307.9" y="27.3" font-family="Liberation Sans, sans-serif" font-weight="bold" font-size="25" fill="#000">a</text>
<path transform="scale(.5)" d="M983 203h0m-143-111h0m51 55h0m15 49h0m-86-23h0m48 59h0m74-138h0m22-30h0m-45 2h0m53 146h0m-73-109h0m-13 105h0m-10-74h0m69 106h0m-114-51h0m93-44h0m-42 84h0m104-42h0m-33-65h0m-37 51h0m43 36h0m-131-104h0m163 24h0m-27 20h0m-23-60h0m17 64h0m-28 81h0m-59-10h0m118-102h0m-127 41h0m55-27h0m-94-25h0m175 50h0m-61 29h0m6 41h0m-36-165h0m76 31h0m-72 36h0m37 101h0m16-11h0m-90 0h0m109-131h0m-139 11h0m5 56h0m25 58h0m105-105h0m18 51h0m-113-60h0m-26 3h0m88 109h0m-47 25h0m38-9h0m-102-113h0m92 95h0m59-25h0m-9-34h0m-134-64h0m17 91h0m11 2h0m53-43h0m38 15h0m15-18h0m-52 82h0m-105-45h0m91 67h0m27-5h0m-14-79h0m-70-56h0m120 83h0m-135-26h0m75-92h0m14 60h0m-42 111h0m8-150h0m33-4h0m-43 165h0m27-175h0m-50 98h0m112-65h0m-55 76h0m6 14h0m-18-91h0m11 117h0m-90-80h0m66 10h0m34 33h0m62-39h0m-1 51h0m-24-82h0m-82 90h0m-3-114h0m-30-21h0m39 16h0m-61 84h0m56 61h0m-2-7h0m-10-132h0m27 10h0m35-7h0m-110 1h0m109 96h0m12-127h0m-92 117h0m45-20h0m75 41h0m-41 27h0m28-107h0m-129-3h0m120-5h0m-7-36h0m31 107h0m25-27h0m-50 48h0m-95-80h0m-10 68h0m-28-60h0m41 51h0m113-82h0m-92 98h0m-29-85h0m70 21h0m5 82h0m-52-106h0m127 67h0m-118-128h0m28 126h0m25 55h0m-19-3h0m-29-95h0m36-37h0m-16-6h0m-56 40h0m155 9h0m-101-65h0m-49 10h0m122 40h0m-49-69h0m2 128h0m-10-89h0m-9 147h0m50-79h0m-140-29h0m82 58h0m-21-30h0m71-24h0m-80 35h0m93 7h0m18-2h0m-108 10h0m69 27h0m-89-57h0m38-37h0m65 33h0m-66 83h0m50-106h0m-46 30h0m30-34h0m-116 9h0m98 78h0m-39-90h0m23-14h0m-35-41h0m33 128h0m61-37h0m-83-51h0m-19 82h0m98-15h0m-57-18h0m-9 5h0m21 45h0m-26-108h0m-32 82h0m130-101h0m-98 137h0m5-117h0m19 46h0m98-18h0m-48-23h0m-41 119h0m29-63h0m-45-47h0m-1-20h0m78 120h0m-57 19h0m93-94h0m-37 69h0m-84-29h0m-60-24h0m171-20h0m-74 48h0m-36-3h0m13 31h0m25-81h0m-83-44h0m106 68h0m-11 9h0m-52-81h0m-20 97h0m71-113h0m-84 148h0m8 24h0m41-153h0m38 89h0m-92-1h0m-5 17h0m137-66h0m-36 103h0m44-109h0m-110-2h0m-42-1h0m-7 74h0m128-101h0m-87 14h0m90 122h0m-22-70h0m17-93h0m18 37h0m-147 85h0m129 16h0m-108 18h0m40-130h0m84 31h0m-90 42h0m92-33h0m-110-59h0m-5 104h0m26-1h0m-23-104h0m140 48h0m-179 48h0m50 19h0m30-102h0m18-23h0m67 27h0m-73 28h0m1-22h0m55 80h0m-155 31h0m104-43h0m-34 0h0m82-54h0m-66-16h0m16 38h0m29 50h0m-100-23h0m-33 1h0m158-22h0m14-5h0m-136 80h0m-14-105h0m90 58h0m-66 72h0m48-111h0m-83-19h0m-2 19h0m153-12h0m-87 45h0m15-42h0m26 113h0m49-87h0m-64 97h0m-90-130h0m93 18h0m-84 30h0m146 49h0m-150-81h0m68 116h0m-7-94h0m14 61h0m-10 16h0m5 20h0m-43-78h0m2 50h0m16-79h0m18-9h0m-32 15h0m-24 14h0m122 53h0m38-99h0m12 55h0m-138 35h0m61-14h0m-11-109h0m-44 30h0m34 88h0m-97-69h0m95 117h0m65-98h0m-81 5h0m36-14h0m-73 65h0m102-72h0m-78 58h0m50 16h0m-19-23h0m35 34h0m-136-43h0m199-36h0m-178 69h0m124-48h0m-19 60h0m27-51h0m-91 61h0m-42-57h0m149-86h0m3 59h0m-83-36h0m3 44h0m88-16h0m-158 24h0m104-99h0m-62 181h0m19-114h0m-43 73h0m-32-58h0m171-23h0m-130 113h0m-30-76h0m77 87h0m4-11h0m23-72h0m-84 29h0m128-57h0m16 51h0m-93-55h0m-19 27h0m-38-43h0m58-49h0m-36 52h0m108 33h0m-17-80h0m-131 39h0m-3 90h0m88-110h0m-75 130h0m9-81h0m26-40h0m59 103h0m22-91h0m-78 81h0m100 7h0m24-7h0m-96-53h0m-54 27h0m10 50h0m35-11h0m-59-57h0m147-54h0m-79 75h0m-64-81h0m156 109h0m-80-34h0m-78-50h0m49 15h0m34 64h0m17-97h0m-76-32h0m51 136h0m-65-108h0m-29 66h0m59 54h0m102-99h0m-65 122h0m-22-172h0m74 169h0m-2-43h0m-40-21h0m19 17h0m7 44h0m-97-19h0m-25-59h0m56 44h0m97-69h0m-90-35h0m92 15h0m-14-20h0m-54 31h0m-23 121h0m-6-144h0m84 61h0m-64 4h0m88-22h0m-154 89h0m152-58h0m-74 2h0m-64 65h0m141-94h0m-98 15h0m75-2h0m-14 55h0m-51-155h0m-29 62h0m60 59h0m-74 27h0m-11-13h0m4 34h0m30-19h0m105-95h0m-35 90h0m17-98h0m-63 0h0m-10-2h0m35-25h0m6 113h0m-110-90h0m18 16h0m41 51h0m-72-54h0m170 98h0m-84-54h0m-65-8h0m91 35h0m-91-65h0m-3 53h0m15-39h0m39 39h0m71-103h0m-95 133h0m70 15h0m-28-72h0m22-75h0m21 85h0m25 69h0m3-43h0m-37-98h0m-41 22h0m53 72h0m-67 58h0m12-12h0m-9-10h0m-1-53h0m94 9h0m-15-86h0m1 54h0m-69-54h0m-19 25h0m-41-3h0m28 6h0m90-36h0m-92 33h0m-43 23h0m79 31h0m-64-64h0m64 70h0m78 40h0m-51-116h0m29 70h0m-67 18h0m27 31h0m-39-69h0m60 5h0m-121-5h0m84-1h0m-63 6h0m112-26h0m-107 106h0m144-93h0m-72 74h0m53-70h0m-157 0h0m88-3h0m-1 49h0m-53 53h0m15-149h0m-7 51h0m-24 63h0m126-43h0m-62 36h0m33 56h0m-87-49h0m134-17h0m-94-14h0m70 53h0m38-41h0m-86 56h0m19-35h0m-11-104h0m-36 14h0m34 3h0m13 130h0m-7-10h0m-3-49h0m13 15h0m-8-124h0m-72 134h0m20-59h0m76-24h0m-51 100h0m-10-137h0m13 160h0m23-82h0m-56-43h0m81 98h0m35-17h0m-98-60h0m40-44h0m-48 51h0m-10 62h0m4-30h0m10-29h0m41 35h0m35-17h0m-117 16h0m139-31h0m6-27h0m-115 21h0m16-48h0m-26 19h0m94 67h0m7-70h0m-78 61h0m-8 20h0m-17-85h0m57 28h0m57-6h0m16 64h0m-88-6h0m58-5h0m-39-115h0m-8 45h0m-36 35h0m71-61h0m-99 41h0m-14 29h0m76 10h0m-86-9h0m-1-25h0m160 13h0m-102-52h0m65 113h0m-125-71h0m138-4h0m-117 33h0m95 31h0m-95-105h0m19-9h0m48 0h0m18 148h0m-11-133h0m-11 141h0m87-122h0m-61 99h0m11-121h0m-38 55h0m-14 69h0m-16-68h0m5-77h0m-2 33h0m-3 105h0m15-121h0m54 90h0m-26-58h0m29 8h0m-56 29h0m9-70h0m-76 87h0m53-72h0m93 108h0m-47 16h0m2-4h0m-14-73h0m60 19h0m-30-96h0m-8-19h0m-71 164h0m149-87h0m-111 103h0m53-41h0m-1-129h0m41 71h0m-47-63h0m53 100h0m-95-108h0m43 135h0m-66-39h0m9-41h0m92 69h0m-69-92h0m-60 13h0m53-32h0m10 139h0m3-50h0m60-96h0m-67 81h0m31-43h0m-13 106h0m-1 15h0m-60-162h0m116 105h0m-93 63h0m-36-123h0m129 29h0m-151-33h0m101 124h0m10-107h0m10 78h0m-35-116h0m-21-20h0m-63 96h0m133-77h0m-87 25h0m-23-29h0m43 91h0m37-98h0m-3 9h0m-84 114h0m51-55h0m40 27h0m-11 47h0m84-63h0m-38-75h0m-66 76h0m78-56h0m-19 127h0m-18-163h0m-32-17h0m32 75h0m56-9h0m-152 70h0m75-50h0m71-16h0m-156 71h0m80-25h0m85-3h0m-64 68h0m22-99h0m-113-48h0m85 155h0m-124-92h0m138 69h0m-123-71h0m114 90h0m48-100h0m-161 8h0m38-73h0m32 120h0m78 14h0m-95-120h0m102 51h0m-108-26h0m-26 6h0m35 28h0m90 21h0m-126-26h0m109-7h0m-15-20h0m-92-12h0m-28 40h0m98-41h0m-60-27h0m55 125h0m62-51h0m-55 12h0m-17-100h0m-73 52h0m154 12h0m-97 85h0m-34-133h0m121 14h0m-158 56h0m128-60h0m-87 84h0m32 4h0m11-79h0m108 83h0m-141-91h0m114 122h0m-15 19h0m-109-151h0m111 128h0m6 11h0m-33-84h0m-96-1h0m22 60h0m47-19h0m17-22h0m-83 77h0m10-10h0m-11-72h0m121-29h0m-153 15h0m42-54h0m33 153h0m41-25h0m-25-97h0m-8 27h0m78 37h0m-95 38h0m13-23h0m85-40h0m-134 48h0m134-3h0m-18-9h0m-107 2h0m6-17h0m-11 49h0m70-84h0m24 88h0m-134-73h0m118 14h0m-31 32h0m46 47h0m-123-51h0m151 30h0m-46-121h0m-38 10h0m32-9h0m-80 51h0m90 38h0m-72-112h0m107 134h0m-18-34h0m-132-48h0m53-24h0m127 59h0m-28-92h0m-34 75h0m-98 29h0m59-108h0m-28 17h0m97 0h0m-90 88h0m28 33h0m-39-128h0m-41 69h0m160 16h0m2 49h0m-11-73h0m-128-1h0m139 48h0m-100 17h0m36 11h0m-36 28h0m-27-146h0m63 68h0m67 27h0m17-64h0m-81 62h0m-39-70h0m38-13h0m-25 3h0m90-20h0m-28 34h0m-117 86h0m38-89h0m84 69h0m-123-24h0m91 35h0m-24 30h0m-63-58h0m149 16h0m-58-11h0m-43 26h0m-72-46h0m28-9h0m139 16h0m-103 13h0m63-101h0m57 102h0m-126 67h0m63-54h0m34-14h0m-62 54h0m10-68h0m10 20h0m-51-24h0m101-18h0m-3-29h0m16 52h0m8 14h0m-90 63h0m46-140h0m-56 124h0m65-16h0m-34-77h0m-38-23h0m-64 71h0m123 54h0m-117-54h0m169-12h0m-91 61h0m-14-92h0m-39-2h0m65 18h0m-101-32h0m-13 13h0m114 95h0m36-83h0m-85 87h0m-43-134h0m139-16h0m-12-12h0m-9 165h0m-92-15h0m-5-122h0m121 99h0m-56 44h0m-35-188h0m24 69h0m18-65h0m-96 122h0m110 68h0m-95-42h0m28 16h0m12-66h0m-7 34h0m9 19h0m-8-39h0m38-43h0m18-20h0m-79 30h0m79-66h0m-88 75h0m111-39h0m-13 42h0m-93-42h0m55-50h0m38 70h0m-26-3h0m27 29h0m-44-83h0m-31 126h0m54-70h0m-12 122h0m2-170h0m-47 119h0m-36-20h0m55-50h0m38 96h0m-11-120h0m58 49h0m4 43h0m-13-119h0m-43 4h0m-57 132h0m88-126h0m-18 18h0m-73 14h0m114 99h0m-1-39h0m-89-32h0m40-6h0m46-30h0m-145 93h0m40-85h0m-46 9h0m126-37h0m-3 106h0m-119-73h0m24-5h0m110-44h0m-20 30h0m-22 55h0m-72-28h0m73 44h0m-45-90h0m-1 11h0m52-34h0m-6 129h0m41-12h0m-67 32h0m16-135h0m-10 139h0m-48-64h0m-17 30h0m52 25h0m78-86h0m-49-59h0m-48 77h0m71 93h0m58-119h0m-90 83h0m44 4h0m21-18h0m-63-52h0m46-3h0m-60-5h0m-6 82h0m-29-62h0m15-26h0m81 55h0m-78-54h0m-15 89h0m36-134h0m-68 72h0m40 54h0m63 6h0m-3-28h0m20-22h0m16 8h0m-118 42h0m142-77h0m-90 13h0m-22 46h0m-37-62h0m62 124h0m-16-191h0m66 170h0m-98-154h0m-33 88h0m105 24h0m36-49h0m-32-10h0m63-17h0m-102 104h0m-4-121h0m-46 9h0m-5 51h0m163-31h0m-82 68h0m38-122h0m12 62h0m-106 21h0m80-94h0m-67 76h0m-10 74h0m-23-60h0m48 9h0m-23 9h0m6-20h0m119 10h0m-151 7h0m24-62h0m107 10h0m-16 81h0m-98-36h0m34 90h0m-66-135h0m22-27h0m59 122h0m-87-52h0m81 50h0m29-93h0m13-3h0m-103 102h0m34-69h0m-29 33h0m106 5h0m-96 55h0m41-124h0m-35 41h0m70-68h0m34 14h0m-123 45h0m-21-8h0m140 106h0m-90-37h0m3-6h0m85-23h0m-101-64h0m57 32h0m-5 108h0m26-131h0m32-31h0m-132 61h0m62-3h0m-11-71h0m-37 108h0m87-42h0m-108-23h0m4 100h0m161-48h0m-111-15h0m-37-56h0m118 11h0m-51 110h0m-7-107h0m12-22h0m0 27h0m-27-47h0m17 92h0m-4-57h0m8-24h0m-53 69h0m86-80h0m-52 101h0m-48-58h0m101-37h0m11-8h0m-92 72h0m21 52h0m-52 14h0m131-80h0m-48-38h0m-43 84h0m113 2h0m-38-82h0m-62 56h0m75-5h0m-88 101h0m5 7h0m37-166h0m-91 15h0m87 30h0m-79-32h0m46 67h0m100-71h0m-117 146h0m72-149h0m-42-25h0m13 99h0m82 29h0m-111-34h0m107-64h0m-94 71h0m86-65h0m-141 70h0m31-4h0m58 37h0m-63-110h0m-19 67h0m51 15h0m-30-24h0m7-46h0m129 40h0m-62-78h0m-20 1h0m-28-9h0m21 18h0m27 105h0m-59-74h0m71-14h0m39 19h0m-57 111h0m-17-127h0m58 114h0m-65-47h0m-56 14h0m23-3h0m7 12h0m58-90h0m-59-37h0m61 53h0m-124 80h0m72-104h0m19 52h0m68-2h0m-30-65h0m-99 76h0m25 89h0m5-142h0m-54 47h0m88 46h0m74-64h0m-120 17h0m-40 3h0m145 44h0m3-76h0m-48 111h0m-26-145h0m10 45h0m10-52h0m-42 23h0m53 110h0m-86-37h0m66 75h0m94-80h0m-25-4h0m-6-16h0m-121 14h0m102 10h0m5 6h0m-5-6h0m-130 28h0m163-32h0m-80 52h0m69 14h0m-139-86h0m44 81h0m72-133h0m-75 96h0m19 25h0m28-35h0m-38 11h0m90-5h0m1-38h0m-104-87h0m122 37h0m-146 53h0m111 42h0m-55-20h0m23-13h0m23 22h0m-67-88h0m46 75h0m-54 19h0m44-93h0m-102 27h0m78 71h0m95-47h0m-80 47h0m-89-65h0m19 88h0m23-1h0m66-155h0m26 63h0m-85 65h0m24 1h0m-64-60h0m-21 24h0m113-60h0m-33 107h0m20-78h0m-11 117h0m-74-96h0m130 89h0m13-139h0m-117-12h0m37 159h0m89-62h0m-89-25h0m-4 18h0m-45-73h0m109 50h0m49-3h0m-39-59h0m-23 116h0m-37-94h0m62 97h0m-19 11h0m-83-77h0m29 22h0m34-14h0m-34 54h0m56-142h0m-34 10h0m15 174h0m14-186h0m23 16h0m-22 60h0m-44 39h0m52-115h0m-9 172h0m-15-74h0m59-8h0m-42-2h0m43 70h0m-52-45h0m14 46h0m-74-7h0m96-14h0m-20-26h0m-104-15h0m82-33h0m-97 45h0m136-44h0m-103 23h0m65 9h0m-23-78h0m35 78h0m22-63h0m-77 137h0m-15-25h0m-38-13h0m107-76h0m24 60h0m-15-16h0m-31 54h0m-54-52h0m126-16h0m-59 38h0m-59 40h0m25-167h0m25 106h0m91 5h0m-24 9h0m-26-33h0m-47 67h0m75-83h0m-21 21h0m-133-50h0m78-37h0m30 113h0m-111 6h0m24-41h0m38 76h0m-2-55h0m-22 84h0m118-148h0m-115 30h0m86 84h0m-29-61h0m83-8h0m-12 32h0m-61 67h0m-58-176h0m-52 81h0m115 66h0m-26-17h0m34-23h0m-42-16h0m-72 12h0m119-88h0m-60 12h0m18 21h0m8-23h0m-48 85h0m114-12h0m-78-62h0m-10 72h0m45-84h0m-30 106h0m3 17h0m-34-18h0m12 58h0m-22-111h0m104-20h0m18 46h0m-118 5h0m96-39h0m-14-23h0m-84 108h0m44-157h0m-58 127h0m77-120h0m-76 83h0m59 104h0m-79-134h0m88 63h0m-97-66h0m115 95h0m-51-28h0m92-49h0m-21 14h0m-55 20h0m-50-20h0m28-27h0m72 36h0m-127 50h0m51 42h0m-21-34h0m57-107h0m-62 60h0m80-9h0m-8 18h0m-66 9h0m56 36h0m-32-59h0m6-35h0m7-43h0m46 55h0m-93-8h0m15-40h0m53 146h0m-7-123h0m-26 50h0m13 31h0m-60-14h0m61 47h0m-40-18h0m50 19h0m-41-143h0m16-19h0m-5 54h0m-71 11h0m87 75h0m-29-115h0m49-34h0m31 75h0m-136 3h0m160 81h0m-53-158h0m-67 123h0m119-21h0m-110 29h0m83-85h0m-99 25h0m55-64h0m9 12h0m43 45h0m10-1h0m-147-13h0m76 38h0m50 34h0m-39-24h0m-40-48h0m-6-24h0m6 67h0m115-24h0m-144 55h0m45-57h0m21 108h0m-57-97h0m51 107h0m-32-141h0m-3-3h0m113 100h0m-128-37h0m-10-25h0m42-59h0m40 160h0m-68-133h0m134 29h0m-19-61h0m-22 37h0m-56 88h0m-45-116h0m-17 42h0m130 59h0m-153-33h0m151-43h0m-71 84h0m-55-92h0m-2 1h0m124 91h0m3-19h0m19-62h0m6 31h0m-133-49h0m28-15h0m17 65h0m-41-36h0m14-34h0m110 125h0m25-82h0m-18 27h0m-61-11h0m-22-23h0m-23-19h0m66 61h0m-25-53h0m-38 75h0m83 6h0m38-58h0m-67-12h0m13 130h0m-10-65h0m-4 43h0m-42 24h0m-44-132h0m5-33h0m115 90h0m-122-14h0m77-33h0m-10 40h0m-31-26h0m7 57h0m-42-81h0m129 68h0m-141-30h0m71-82h0m82 60h0m-46 0h0m-82 80h0m104 15h0m-62-147h0m84 76h0m-69-11h0m5 30h0m-9-98h0m-59 130h0m41-142h0m84 111h0m-11 46h0m-71-123h0m-17 127h0m13-98h0m17-38h0m-94 86h0m5-7h0m174-51h0m-47 126h0m-27-100h0m10 69h0m-108-112h0m177 87h0m-164-80h0m55 120h0m21-45h0m-80-38h0m129 59h0m16-101h0m-8 91h0m7-85h0m14 30h0m-128-23h0m9 20h0m11 34h0m90-24h0m-67-31h0m-35 64h0m16-38h0m0 47h0m88-51h0m-73 67h0m-44-90h0m-12 25h0m125 72h0m-26-9h0m-80-1h0m85 30h0m-98-120h0m46-17h0m82 70h0m-117-56h0m74-27h0m29 156h0m-18-2h0m-88 4h0m79-135h0m-93-9h0m14-12h0m27 166h0m-20-135h0m17-6h0m-20 117h0m44-68h0m-45-79h0m32 24h0m-51 82h0m45 49h0m19-9h0m8-13h0m27-132h0m-104 140h0m61-129h0m97 80h0m-12 41h0m-46-132h0m-60 75h0m-25 63h0m35-30h0m106-36h0m-52-71h0m-68 59h0m-13 42h0m70 28h0m-41 44h0m59-105h0m-79-21h0m10 85h0m69 22h0m-125-90h0m141-43h0m-102 51h0m63 22h0m46 16h0m-87-44h0m-4-50h0m-69 52h0m146 42h0m-18 59h0m-48-90h0m23-91h0m8 93h0m37-9h0m-14-61h0m3 127h0m-86-13h0m-3-32h0m-14 45h0m112-99h0m-112 13h0m-9 78h0m79 24h0m-88-48h0m50-10h0m-1 41h0m90-24h0m-31-67h0m-37 28h0m-30-22h0m27 98h0m82-76h0m-143 58h0m44-19h0m2 51h0m17 7h0m-5-72h0m59-54h0m-53 14h0m62-21h0m-107-38h0m127 29h0m-123 89h0m134-72h0m3 24h0m12 13h0m0-5h0m-125-55h0m93 58h0m-68-100h0m-14 98h0m-27 14h0m24-96h0m-72 70h0m113 19h0m58 42h0m-173-33h0m35 47h0m75-79h0m-33-29h0m-49 84h0m-25-50h0m34-21h0m69-41h0m42 96h0m-118-84h0m62-1h0m78 52h0m9 15h0m-57 69h0m-36-23h0m17-117h0m-12-3h0m3 141h0m64-47h0m23-22h0m-87-16h0m-11-2h0m4 93h0m29-1h0m48-102h0m-79 122h0m33-90h0m-97-60h0m61 102h0m38-107h0m2 124h0m22 21h0m-88-163h0m-35 129h0m-3-3h0m46-68h0m122 13h0m-115 43h0m41-12h0m-79 19h0m52-24h0m32-8h0m-30-29h0m81 71h0m-11 16h0m-22 7h0m-2-41h0m2-90h0m54 48h0m-57 87h0m-30 20h0m-85-45h0m14-104h0m26 10h0m16-37h0m-6 8h0m73 129h0m-53-115h0m23 147h0m-50-100h0m49 82h0m-25-8h0m7 14h0m28-106h0m-61 7h0m61 96h0m54-105h0m-60-73h0m-91 41h0m147 35h0m-131 27h0m130-37h0m-67 123h0m57-90h0m3-4h0m-100 41h0m102-2h0m-65 54h0m56-148h0m-136 107h0m127-15h0m-54-122h0m-7 52h0m-52-37h0m84 66h0m31-43h0m-31 55h0m-34-21h0m12-47h0m-4 61h0m93 8h0m-58-2h0m-89 25h0m41-46h0m15-56h0m-14 79h0m21-102h0m77 49h0m-162 25h0m72 45h0m60 26h0m37-14h0m-69-49h0m-41 84h0m26-36h0m29-73h0m29 121h0m-16-36h0m-55-140h0m9 14h0m-12 147h0m35-7h0m24-70h0m37 3h0m-126 4h0m57-80h0m-24 71h0m19 56h0m-28-40h0m-23 61h0m129-75h0m-171-21h0m74 4h0m42 87h0m-61 8h0m-25-84h0m138-22h0m-67 18h0m-59 89h0m112-70h0m-113 37h0m118 4h0m-104-28h0m64-13h0m-73-80h0m96 104h0m-60 51h0m-34-3h0m63-70h0m37 54h0m-45-78h0m-59-37h0m-6 71h0m28-23h0m-50 1h0m101 13h0m37-50h0m-104 67h0m30-10h0m-1-82h0m24 20h0m0 110h0m7 25h0m-38-164h0m-26 12h0m61 53h0m-36 102h0m46-110h0m-48 39h0m91-61h0m-49 79h0m30 15h0m-120-103h0m134 87h0m-17-61h0m-58 112h0m-45-69h0m0-86h0m88 89h0m-29 86h0m-94-120h0m121 89h0m34-54h0m1-33h0m-168 8h0m76 73h0m-42-127h0m8 96h0m95 31h0m-56-16h0m-43-41h0m16-45h0m83 55h0m-16 51h0m56-77h0m-45-58h0m-26 4h0m17 110h0m62-73h0m-31 59h0m-49-88h0m-47 35h0m94 91h0m28-45h0m-33-32h0m-55-88h0m-8 152h0m22-54h0m-50-4h0m17 66h0m16-139h0m23 116h0m-13-105h0m-4 124h0m-33-97h0m19-49h0m112 101h0m-98-48h0m-45 39h0m91 19h0m-27 42h0m-47-123h0m-19 37h0m-7 52h0m128-32h0m-37 88h0m-92-126h0m139 50h0m-128 18h0m8-110h0m27 172h0m86-58h0m-129 7h0m134-103h0m-110-14h0m39-10h0m-63 135h0m102 29h0m-109-121h0m147 74h0m-145-5h0m128-8h0m-16 53h0m-85-50h0m-41 15h0m139 29h0m3-6h0m6-41h0m-2 32h0m-25 24h0m-63-99h0m-1 75h0m-2 21h0m76-140h0m-47 81h0m7 12h0m29 49h0m18-103h0m-69 115h0m30-126h0m-58-52h0m33 42h0m45-10h0m9 44h0m36 30h0m-25-46h0m-159 60h0m94-27h0m-8 87h0m-9-50h0m-52-25h0m133 22h0m-33-78h0m-36 43h0m6-53h0m-56 12h0m36 8h0m33 48h0m-50-6h0m27-20h0m-41 64h0m-41-92h0m90 94h0m-45-10h0m-11-121h0m140 47h0m-123 27h0m18-90h0m101 62h0m-110 65h0m-32-19h0m137-31h0m-113-37h0m50 25h0m17 76h0m-5 23h0m-36-138h0m-2-18h0m-11 15h0m18-7h0m-51 51h0m107 106h0m-74-102h0m-7 14h0m-53-40h0m11 9h0m14 11h0m24 30h0m10 38h0m-38-41h0m82-54h0m-37 66h0m74-90h0m-89 160h0m-1-107h0m-3-25h0m34 93h0m6-11h0m-88-82h0m20 88h0m59-44h0m-11 83h0m-44-111h0m128 86h0m-102-126h0m-20 80h0m105-45h0m-112 69h0m34-59h0m22-19h0m-12 85h0m-44 1h0m152-50h0m-105-3h0m21-15h0m43 19h0m47 21h0m-35 51h0m-43-91h0m-11 92h0m38-13h0m-55-7h0m3-58h0m54 92h0m-111-98h0m28 54h0m-6-18h0m105-44h0m-61 123h0m-3-78h0m-53-67h0m122 24h0m-22 40h0m-15-61h0m-47-2h0m75 132h0m-20-40h0m-48-61h0m65 14h0m-98 37h0m-8-86h0m-46 68h0m118-41h0m19 84h0m27-10h0m23-19h0m-136-77h0m31 63h0m-29 48h0m-18 17h0m92-40h0m-56 0h0m84-98h0m-55-28h0m28 6h0m-12 128h0m-48-46h0m48-64h0m-43-25h0m2 63h0m44 110h0m-42-152h0m111 20h0m-121 22h0m-5 82h0m92-117h0m12 4h0m-107 5h0m51 60h0m38-91h0m-46 45h0m-28 79h0m61-101h0m-37 119h0m84-87h0m-135 16h0m87-66h0m14 35h0m-142 61h0m68-72h0m2 34h0m-29 11h0m65 71h0m59-39h0m-172-34h0m114 79h0m-50 19h0m10-1h0m8-138h0m96 85h0m-117 36h0m33 28h0m63-55h0m-104-41h0m67-16h0m35-57h0m-47 164h0m-60-85h0m117-10h0m-56-24h0m-19 83h0m18-105h0m-51 16h0m-6 24h0m112-60h0m-42 122h0m-62-139h0m25 33h0m68 112h0m-107-136h0m132 124h0m-150-98h0m57 89h0m-14 4h0m87-7h0m-106-66h0m6 39h0m90-72h0m-59 77h0m42 61h0m-28 20h0m26-3h0m62-113h0m-59-65h0m-88 65h0m46 16h0m-32 0h0m68-40h0m-14-8h0m-72-9h0m105 92h0m-32 21h0m-33-129h0m67 98h0m-118-55h0m55-62h0m95 157h0m-147 9h0m21-54h0m65-91h0m-84 109h0m58 34h0m-11-19h0m-21-116h0m107 102h0m-76 33h0m69-9h0m-52-86h0m19 103h0m16-94h0m-73 75h0m-1 36h0m52-90h0m-78 78h0m56-170h0m-56 135h0m-15-93h0m88-6h0m-33 23h0m51-36h0m19 133h0m-37-25h0m-42-20h0m-58-48h0m76 56h0m4 23h0m-17-79h0m-9-43h0m64 153h0m-57-138h0m67 87h0m-58 31h0m-9 31h0m99-97h0m-30 78h0m-24 4h0m-59-156h0m6 76h0m31 45h0m-2-105h0m25 53h0m-59-87h0m6 29h0m75 29h0m-143 37h0m117 31h0m-2-22h0m14 86h0m-49-176h0m-64 119h0m102-57h0m-28 98h0m-5-137h0m56 31h0m-14 91h0m28-65h0m-69 22h0m26-82h0m-47 157h0m120-122h0m-135 19h0m67-58h0m-118 87h0m155 31h0m-73-115h0m6 131h0m64-31h0m-36 49h0m-14-128h0m3 25h0m-68-65h0m24 2h0m40 143h0m10 26h0m-96-90h0m8-54h0m52-38h0m65 16h0m12 113h0m-38-12h0m-47-59h0m25 21h0m-64 16h0m91-58h0m-47 81h0m-62-59h0m131 13h0m-61 35h0m-22-10h0m75-34h0m12-60h0m-52 5h0m32 42h0m4-21h0m-35 109h0m-60-28h0m32 42h0m3-35h0m113 7h0m-64-122h0m-65 15h0m-22 18h0m53-3h0m-14 84h0m-36-43h0m147-14h0m-5 43h0m-20-7h0m-19 50h0m-29-45h0m29-64h0m13 88h0m-57-124h0m-45 19h0m5 99h0m-41-15h0m91-64h0m44 130h0m-50-78h0m13 15h0m-28-3h0m36 21h0m-89 5h0m58-131h0m-53 150h0m91-102h0m-65-16h0m90 119h0m-68-65h0m12 71h0m38 17h0m-1-6h0m-14-128h0m59 75h0m-114-44h0m-42 28h0m118-35h0m-78 51h0m-9-44h0m52-49h0m-50 108h0m-45-42h0m49 79h0m-48-63h0m15-15h0m37-43h0m-12-30h0m129 46h0m-41-62h0m7 16h0m18 61h0m-40 30h0m-41 78h0m1-36h0m56-16h0m-10-29h0m-19-1h0m-33-55h0m-3-47h0m-22 104h0m21-40h0m-23-33h0m-14 29h0m-24-26h0m47 44h0m66 110h0m42-44h0m-65-95h0m24 4h0m-21 52h0m-1-83h0m71 33h0m-11 10h0m-77 123h0m-43-122h0m91-7h0m-13 108h0m-115-47h0m21 21h0m86-30h0m-103-1h0m104-3h0m19 1h0m-84 4h0m54 7h0m-22 49h0m14-120h0m23 46h0m76 17h0m-70-72h0m-106 107h0m147-28h0m7-33h0m-47-18h0m-17 109h0m-35-83h0m78-82h0m23 103h0m-131 35h0m33 0h0m3-83h0m-69 67h0m80-116h0m39 159h0m-66-50h0m30-86h0m47 11h0m-108 86h0m-17 2h0m72-83h0m21-31h0m14 87h0m-22-7h0m-57 35h0m151-77h0m-62-13h0m-75 27h0m-5-29h0m92-9h0m-35 129h0m-68-78h0m124-33h0m-63-40h0m68 66h0m-72 0h0m35 86h0m-55-19h0m-71-89h0m53 8h0m-48 69h0m159-23h0m-47-70h0m-14 0h0m-35 103h0m2-6h0m18 41h0m-33-103h0m110 18h0m-151-7h0m137 68h0m-91-75h0m10 87h0m6-29h0m-21 9h0m66 3h0m18 20h0m-104-129h0m51 29h0m-27 27h0m34 52h0m-17-6h0m54-93h0m-136 55h0m16 1h0m70-82h0m-62-4h0m97 57h0m-63 40h0m-4 44h0m117-105h0m-116 13h0m25-25h0m-32-23h0m11-7h0m131 79h0m-12-68h0m-112 1h0m96-5h0m-108 100h0m102-1h0m-38 25h0m-44-61h0m110-31h0m-152 49h0m91 59h0m-86-68h0m13-61h0m-30 40h0m58 50h0m-63-58h0m53 60h0m-7-79h0m77-14h0m-10 149h0m-34-90h0m-53-21h0m41 110h0m42-178h0m-19 160h0m65-55h0m-69-96h0m-8 7h0m-20 78h0m46 87h0m-69-108h0m-3-7h0m69-56h0m-107 36h0m104 50h0m39-24h0m-30 41h0m-29-7h0m35-34h0m-9 2h0m-68 69h0m106-45h0m-19-21h0m-26-40h0m-81 106h0m140-46h0m-146-1h0m116 35h0m-61-123h0m47 41h0m-33 67h0m-22-33h0m-15 65h0m-52-31h0m20-86h0m10 117h0m44-142h0m48 122h0m23-59h0m-155 12h0m61-22h0m-13 75h0m-12 16h0m7-92h0m71 6h0m-24-21h0m101 68h0m-89-10h0m-48-74h0m25 45h0m19-63h0m1 20h0m-84 54h0m53 54h0m120-68h0m-141 9h0m118 68h0m-57 3h0m2-93h0m29 49h0m-84 34h0m-48-46h0m166-25h0m-92-1h0m-29 16h0m65 59h0m-61-42h0m62-2h0m-7 72h0m-8-139h0m29 106h0m-95-35h0m-6-49h0m57-10h0m-44 8h0m116 3h0m-67 86h0m53-69h0m-6-62h0m-90 52h0m101 13h0m-68-56h0m-7-13h0m78 64h0m-76-67h0m55 134h0m18 15h0m-10-23h0m23-62h0m-145-14h0m31 92h0m56-144h0m-77 110h0m-20-47h0m131 80h0m-52-48h0m-61-10h0m23-79h0m11 127h0m83-134h0m37 52h0m-14 89h0m-59-1h0m-57-59h0m56 49h0m2-139h0m-14 139h0m-48-98h0m139 28h0m-49 79h0m-50-143h0m98 95h0m-79 17h0m5-74h0m-39 25h0m-42-31h0m76 147h0m86-107h0m-140 5h0m115-55h0m-165 75h0m134-11h0m-27 38h0m58-86h0m-65 42h0m86-29h0m-38 40h0m-102 28h0m64 33h0m-34-56h0m-50 0h0m63 63h0m-59-41h0m64-54h0m-36-55h0m126 49h0m-106 122h0m29-182h0m-21 120h0m35-37h0m-12-36h0m32 80h0m-71-86h0m-35 57h0m18 53h0m62-91h0m4-42h0m-41 98h0m4-67h0m24-41h0m-95 96h0m159 23h0m-130-84h0m151 90h0m-119-81h0m59-38h0m1 3h0m5 16h0m-77 58h0m71-19h0m15 106h0m-91-126h0m41-31h0m-26 123h0m62-94h0m-83 123h0m41-92h0m-70 26h0m156 17h0m-90-124h0m39 130h0m-3 15h0m61-29h0m-42-37h0m37-31h0m-16 0h0m-47 73h0m81-26h0m-17-32h0m-96 84h0m-25-73h0m68 49h0m-56-32h0m-23 83h0m26-60h0m75-35h0m19 83h0m19-113h0m-43 51h0m-51 77h0m-47-41h0m63-54h0m-77-25h0m123 95h0m-123 6h0m4-24h0m5-97h0m118 31h0m-13 52h0m-39 66h0m45-13h0m-106-142h0m-24 116h0m14-59h0m34-45h0m71 37h0m-30 18h0m-3 11h0m-39 12h0m-34 19h0m-28-44h0m131-22h0m-76-10h0m2-29h0m75 39h0m-59-44h0m-31 92h0m39 6h0m-34 30h0m131-27h0m-11 16h0m-9-87h0m-41 89h0m-27-48h0m35-91h0m-55 131h0m68 1h0m-146-28h0m158-70h0m-20-6h0m-60 133h0m-22-83h0m22-92h0m58 185h0m-44-109h0m54-8h0m-135 2h0m82 3h0m29 36h0m-105-7h0m101 88h0m43-146h0m-24 125h0m-67-14h0m-13 6h0m-36-13h0m14-90h0m32 66h0m31 42h0m-44 13h0m-2-142h0m-20-8h0m92 138h0m-4 24h0m-72-59h0m101-53h0m-98 89h0m112-6h0m-135-97h0m77 127h0m5-86h0m50 62h0m-32-134h0m-52 38h0m59 58h0m44-30h0m-81-22h0m-54 83h0m61-2h0m-48-77h0m-18 0h0m134 39h0m-69 60h0m-27-64h0m73-43h0m35 6h0m-82 67h0m18-43h0m33-77h0m-68-29h0m-35 14h0m68 38h0m27 52h0m-27-17h0m9-79h0m9 122h0m-66-85h0m43 67h0m-94-50h0m112 123h0m-45-40h0m-64 2h0m44-99h0m-15 90h0m96-1h0m-27-100h0m-7 42h0m12 60h0m62-44h0m-57 94h0m-84-135h0m11 114h0m106-98h0m-51-18h0m29 90h0m-49-3h0m69-21h0m-54 56h0m37-130h0m17-6h0m-57-13h0m86 36h0m-162 34h0m113-42h0m-59 71h0m-33-49h0m0 83h0m12-35h0m77 28h0m30-39h0m-114 14h0m54 15h0m49-105h0m3 65h0m-101 21h0m4 65h0m102-92h0m-81 89h0m-10-39h0m-14-59h0m-33-23h0m71 104h0m80-24h0m-126-137h0m38 181h0m24-14h0m80-74h0m-69 64h0m-96-118h0m37 140h0m120-90h0m-167-18h0m14 70h0m135 19h0m-15-120h0m-115 19h0m68 31h0m-67 33h0m111-93h0m-65 31h0m29-50h0m24 61h0m-33 66h0m-41 5h0m-50-38h0m61 12h0m114-9h0m-63 31h0m-2-68h0m25 100h0m-61-154h0m76 28h0m-92 64h0m104 21h0m-156-19h0m90-13h0m62 4h0m-79 40h0m-39-7h0m-2 13h0m80-142h0m-8 48h0m-113 80h0m106-125h0m-48 55h0m16 62h0m78 28h0m-15-17h0m43-14h0m-160-4h0m-16-72h0m103 99h0m-62-82h0m17 99h0m-31-88h0m103-20h0m-97 29h0m114-42h0m7 75h0m-122 59h0m100-55h0m-29 37h0m52-89h0m16-23h0m-131-29h0m93 44h0m-90 81h0m75-19h0m-68-20h0m25-104h0m47 58h0m-33-41h0m-37 158h0m49-103h0m-11 32h0m22 26h0m-48-56h0m46 31h0m-61 12h0m11 36h0m11-58h0m-12-75h0m72 113h0m3 5h0m-137-81h0m131 41h0m-79-93h0m9 35h0m75 106h0m-13 6h0m44-88h0m-87 51h0m35 64h0m20-149h0m37 104h0m-124-60h0m30-44h0m2-8h0m-75 128h0m-5-50h0m37 77h0m-23-53h0m144-40h0m-52 76h0m-51-125h0m67 88h0m-95-4h0m48 58h0m-74-119h0m87 54h0m-21 26h0m38-78h0m-63 4h0m-7 27h0m1 56h0m-13-132h0m142 30h0m-90 47h0m43-27h0m-94-30h0m149 32h0m-149 70h0m18 17h0m102-40h0m-75-85h0m42 138h0m24-92h0m5-42h0m-123 81h0m90 46h0m-51-64h0m46-76h0m49 14h0m-14 38h0m-108-6h0m46-46h0m39 125h0m-30-72h0m27-41h0m-104 113h0m110-118h0m-54 29h0m-33 51h0m62-110h0m15 5h0m-92 159h0m59-126h0m-52 40h0m120 45h0m-65 67h0m-2-27h0m-44-123h0m-20 31h0m62 102h0m64-40h0m-9 38h0m-21-7h0m-16-67h0m26 0h0m-105 16h0m82 10h0m28-75h0m-7 35h0m-37 18h0m-66 24h0m55-46h0m-46 3h0m47-65h0m46 75h0m-110-31h0m25-51h0m100 98h0m-91 70h0m0-53h0m98 44h0m-109-18h0m26-96h0m120 42h0m-119-6h0m-21 86h0m103-19h0m-105-11h0m68-23h0m32-70h0m-26 18h0m2 73h0m4-26h0m-66 47h0m109-65h0m-67-71h0m-38 57h0m-3 52h0m34 35h0m100-92h0m-96 21h0m-18-79h0m25 66h0m-10 32h0m0-51h0m3-37h0m57 86h0m-98-63h0m11-22h0m-47 107h0m68-95h0m-18-33h0m26 124h0m-51 5h0m-19-10h0m28 29h0m-6-119h0m-6-11h0m-16 89h0m155-15h0m-136 56h0m37-135h0m28 156h0m86-58h0m-75-21h0m-73-21h0m81-23h0m-97-8h0m96 51h0m35-18h0m-128 69h0m84 26h0m-85-13h0m100-117h0m-88 101h0m-15 20h0m43 10h0m51-96h0m-26 69h0m-14-86h0m-8 124h0m-35-41h0m-15-32h0m-20-30h0m119 86h0m-17-54h0m-44-19h0m76 60h0m-117-38h0m0-76h0m63 15h0m40 119h0m45-149h0m-81 122h0m-70-86h0m107-12h0m-60-22h0m84-4h0m24 11h0m-51 139h0m-76-79h0m92-74h0m10 59h0m-71-37h0m-48 75h0m85 11h0m-30-126h0m7 35h0m-58 65h0m39-60h0m68 71h0m-80-69h0m-46 24h0m32 111h0m59-104h0m12 66h0m-2 11h0m-44-25h0m94-81h0m-56 51h0m24 4h0m-39 4h0m-39 68h0m-27-74h0m41 38h0m95-52h0m-81-43h0m24 94h0m-75-36h0m84 62h0m-8-30h0m39-80h0m-50 9h0m-81 12h0m75 90h0m28-166h0m40 68h0m-31 111h0m15-50h0m-52-77h0m59 18h0m-148 2h0m151-50h0m-19 118h0m16-40h0m-25-15h0m-88 44h0m12-116h0m124 59h0m-100 65h0m-49-39h0m39-2h0m39-3h0m46 78h0m-65-159h0m75 118h0m-155-61h0m158 64h0m19-23h0m-124 32h0m89-93h0m-66-39h0m45 31h0m-13 119h0m-36-57h0m10 53h0m-44-30h0m47-79h0m6-43h0m13-2h0m-26 68h0m30 105h0m38-98h0m-119-20h0m58-32h0m-66 32h0m115 111h0m-24-29h0m18-12h0m-70-65h0m55 105h0m24-8h0m-28-69h0m6 95h0m-53-98h0m38 97h0m20-144h0m-15 79h0m74-49h0m-152 56h0m123-36h0m-35 90h0m4-35h0m-67-74h0m-10-31h0m-2 95h0m63-127h0m34 138h0m-63 35h0m-4-109h0m49-51h0m14 25h0m48 104h0m-99-25h0m-23-116h0m52 106h0m5-39h0m-94 36h0m97-97h0m-121 114h0m93-82h0m-9 138h0m-74-133h0m65 66h0m-35 18h0m17-8h0m-10 30h0m-41-80h0m164-22h0m-14 60h0m-60 39h0m-88-34h0m42-41h0m96-72h0m-71 175h0m-19-114h0m3-12h0m111 10h0m-101 27h0m91 69h0m32-72h0m-103 59h0m-14-107h0m37 35h0m-9 111h0m91-99h0m-101-51h0m-11 42h0m-23 48h0m-15 14h0m-18 16h0m17-61h0m62-44h0m-28 48h0m-56 9h0m131 47h0m-39-78h0m34 1h0m-120 55h0m37-102h0m68 32h0m-59 97h0m-22-134h0m110 6h0m-69 29h0m11 113h0m-97-60h0m128 51h0m-97-79h0m5 37h0m15 33h0m50-161h0m-58 80h0m6 80h0m-36-67h0m65-69h0m-5 125h0m-59 5h0m30-77h0m20-43h0m7-14h0m4 97h0m-7-107h0m-36 95h0m36-46h0m30 66h0m10-45h0m32-65h0m-84 141h0m-23-102h0m144 42h0m-150-20h0m129 96h0m-16-30h0m25 0h0m-24-118h0m-46 118h0m87-15h0m-33-28h0m32-36h0m-71 106h0m-48-103h0m-15 65h0m43 1h0m72-95h0m-130 32h0m39-14h0m97 88h0m-35-1h0m47-31h0m-51-48h0m-82 40h0m84 27h0m-68 11h0m-16-88h0m48 86h0m-79-7h0m-19-20h0m89-68h0m-23-15h0m-42 62h0m10 20h0m127-68h0m-52-8h0m10 6h0m-2 101h0m54-27h0m-127-88h0m22 22h0m-16 55h0m40-52h0m-1 58h0m10-75h0m-8 146h0m12-36h0m3-28h0m-108-2h0m83-24h0m4-30h0m44 92h0m-9-67h0m-44-75h0m58 79h0m-13 53h0m42-116h0m-51 24h0m-50 56h0m-9 61h0m94-63h0m17-41h0m-125 47h0m50-97h0m8 107h0m3-67h0m60-16h0m15 80h0m-88-30h0m-9-78h0m42 7h0m4 3h0m-40 2h0m-34 10h0m-40 92h0m71-42h0m6-74h0m-5 41h0m-61 23h0m85 116h0m22-57h0m-49 10h0m62-34h0m-33 49h0m-93-49h0m52-35h0m-54 7h0m162-24h0m-67-30h0m-14 25h0m-33-46h0m12 187h0m81-113h0m4-49h0m-117 78h0m-16-28h0m96 52h0m-57-67h0m-15-16h0m8 9h0m48 87h0m-23-61h0m101-1h0m3 30h0m-75 5h0m-54-20h0m52 10h0m-51 85h0m92-90h0m-118-22h0m55 68h0m-55-111h0m134 35h0m-49 72h0m38-128h0m-134 64h0m45-50h0m-8 147h0m5-99h0m52 32h0m8-34h0m-1 16h0m-119 6h0m87 1h0m-30 75h0m-27-68h0m117-73h0m-113 127h0m93-30h0m-80-12h0m-2-64h0m-12 58h0m18-88h0m26 13h0m-24-1h0m40 14h0m14 118h0m-5-145h0m82 47h0m-71-55h0m16 93h0m-1-29h0m-7-33h0m12 6h0m-31 34h0m38 26h0m0-11h0m-41-60h0m-25-32h0m-53 37h0m-10-3h0m135 16h0m-78 61h0m32-20h0m-14-1h0m50-59h0m-58 117h0m91-80h0m-147 57h0m45-14h0m61-59h0m-101-29h0m116 101h0m4-55h0m-44-15h0m17 90h0m-27-124h0m94 52h0m-95 15h0m-36-45h0m-23 2h0m-8 11h0m101 12h0m-64-17h0m78 13h0m-10-70h0m-31 180h0m-12-83h0m-28-24h0m40 66h0m35-110h0m-77 47h0m0-29h0m121 61h0m-100 46h0m57-1h0m0-27h0m-27-132h0m-89 44h0m137 125h0m3-106h0m-3 45h0m-159 19h0m32-79h0m43 77h0m54 10h0m51-61h0m-53-48h0m-47 134h0m-35-38h0m19-114h0m35 21h0m-13-19h0m-66 50h0m21 58h0m111-32h0m-42 57h0m52-97h0m-86 57h0m-69-53h0m35 36h0m151 25h0m-144-12h0m55 94h0m-72-156h0m15 53h0m62 39h0m46-84h0m7-3h0m-107 28h0m75 107h0m-39-132h0m-39 127h0m-4-104h0m110-37h0m-105 155h0m46-66h0m59-30h0m-101 44h0m-63-24h0m100-45h0m-3 17h0m-9 91h0m20-74h0m-46-55h0m49 53h0m-7 31h0m43-69h0m-28-29h0m-33 130h0m35-108h0m-34 64h0m47-57h0m41 78h0m-156 0h0m62-61h0m-64 62h0m68-39h0m58-80h0m15 144h0m-13-95h0m-119 37h0m44-28h0m47-5h0m-50-27h0m-13 37h0m106 21h0m-91 36h0m40-88h0m-46 70h0m23-51h0m93 67h0m-86-27h0m12 2h0m-47-26h0m27-69h0m12 156h0m19-11h0m-85-5h0m87-51h0m-10-69h0m65 108h0m-13-35h0m-96-8h0m83 2h0m-97-19h0m12-25h0m54 84h0m-109-61h0m100-50h0m-18 16h0m-22 85h0m47 38h0m69-118h0m-73 126h0m12-127h0m22 73h0m-70-82h0m-24 26h0m17 20h0m-60 45h0m52-35h0m86-64h0m-31 112h0m39-89h0m-25 74h0m6-96h0m32 94h0m-75 3h0m-80-41h0m156 1h0m-46 91h0m-89-35h0m136-19h0m-33 19h0m-86 3h0m-12 15h0m86-160h0m-74 21h0m14 11h0m14 151h0m21-85h0m60-27h0m-14-44h0m-98 84h0m-5 22h0m96-30h0m-47-19h0m10-30h0m-49 32h0m47 91h0m48-161h0m-82 106h0m88-63h0m-60 106h0m89-31h0m-101-45h0m0-46h0m15 13h0m-7 82h0m-76-87h0m163 70h0m-122 3h0m28 55h0m-63-118h0m92 54h0m31 39h0m-89-79h0m30 76h0m46-63h0m-49 48h0m-76-75h0m85 100h0m-22-65h0m32-79h0m-17 84h0m-7-94h0m-48 148h0m61-75h0m44 77h0m-16-54h0m-57-82h0m-8 156h0m50-44h0m25 43h0m-56-89h0m23 19h0m38-14h0m-82 46h0m14-8h0m121-69h0m-66 69h0m-83-84h0m-25-3h0m75 90h0m-54 26h0m47-38h0m29 11h0m10-119h0m-69 113h0m145-67h0m-174-16h0m52 20h0m22-21h0m-64 88h0m102-103h0m8-5h0m-50 87h0m36-24h0m-51-55h0m75-18h0m36 92h0m-72-85h0m27-5h0m-51-18h0m6 137h0m-24 30h0m-10-55h0m39 18h0m17-11h0m9 46h0m42-73h0m-22 24h0m-109 1h0m20 50h0m-12-135h0m30 151h0m6-94h0m-9-41h0m10-23h0m-8 12h0m91 32h0m5-30h0m-123 73h0m19 48h0m7-103h0m-4 105h0m51-77h0m16 40h0m12-95h0m-59 44h0m-71 62h0m150-103h0m-119 128h0m107-138h0m31 107h0m-51-24h0m57 13h0m-28-90h0m-36-23h0m-84 17h0m44 101h0m35-119h0m-31 64h0m14 58h0m-10-3h0m64-42h0m-18 72h0m-74-137h0m14 105h0m23-110h0m4 100h0m-78 54h0m16-11h0m9-70h0m100-4h0m-96-72h0m43 61h0m32-44h0m-67 41h0m33-67h0m6 190h0m11-80h0m64-15h0m-149-37h0m109 123h0m39-39h0m-116-29h0m111-34h0m-150-22h0m106 5h0m48-4h0m-46-45h0m48 32h0m-136 115h0m6 10h0m54-61h0m70-25h0m-71-27h0m22 28h0m-71 82h0m21-156h0m53 160h0m-90-59h0m47 47h0m38 14h0m-6-122h0m-65 62h0m86-114h0m-117 129h0m167-29h0m-155 9h0m2 34h0m26 5h0m98-94h0m8-2h0m-7 63h0m-102 56h0m18-82h0m-27-68h0m44 133h0m21-100h0m-3 52h0m-34-9h0m-2 34h0m17-28h0m53-21h0m19 33h0m-115-28h0m61-69h0m-29 51h0m27-3h0m-49 107h0m-33-134h0m93 130h0m66-107h0m-20 84h0m-65-117h0m-27 138h0m12 7h0m9-46h0m-70-18h0m17-46h0m7 7h0m53-59h0m71 114h0m-83 5h0m13 54h0m5-37h0m-30 36h0m78-125h0m-31 55h0m-56 57h0m-30-113h0m111 43h0m35 39h0m-164-5h0m6 21h0m-6-119h0m90 65h0m-64-77h0m32 81h0m-63-15h0m141-17h0m-89 45h0m112-21h0m-105 63h0m21-135h0m76 99h0m-123 20h0m-45-35h0m138 14h0m-122 30h0m78-62h0m-19 16h0m81 15h0m-86 4h0m108-70h0m-5 53h0m-75-90h0m-10 33h0m-9 52h0m79-6h0m-45-80h0m5 114h0m-62-100h0m104 20h0m-33-28h0m-87 23h0m151 71h0m-47 9h0m-67-81h0m-44 121h0m123-7h0m-111-107h0m-10 22h0m112 88h0m25-103h0m-21 71h0m-66-18h0m-63-61h0m100-13h0m60 67h0m-167-15h0m53-3h0m51 36h0m-16-25h0m-49-47h0m125 39h0m-106 6h0m-28-64h0m130 34h0m-45-51h0m-66-9h0m-27 87h0m119-63h0m-55-7h0m-73 123h0m30-77h0m37 57h0m-57-12h0m64 40h0m-26-134h0m-80 41h0m140 0h0m6 6h0m38-18h0m-160 89h0m136-109h0m-23 63h0m-26 87h0m3-54h0m69-49h0m-94-6h0m-24-6h0m99-11h0m-41-26h0m-41 34h0m-19-52h0m95 53h0m-90 50h0m8 65h0m98-150h0m-131 55h0m70-14h0m39 83h0m-15-40h0m-43-101h0m86 114h0m-125-49h0m36 4h0m41-59h0m39 101h0m-155-83h0m113 136h0m-31-90h0m-44 79h0m-7-3h0m0-137h0m-19 47h0m60 95h0m6-89h0m-21 96h0m63-71h0m-59-107h0m40 195h0m-81-159h0m24 11h0m46-14h0m-81 84h0m22 25h0m25-104h0m67 77h0m-90 44h0m87-14h0m25-84h0m10 22h0m-120-44h0m92 31h0m-6-32h0m-31 3h0m-37-34h0m-24 24h0m-42 62h0m71 77h0m-16-145h0m42 51h0m-14 123h0m3-66h0m23 52h0m-33-175h0m53 136h0m-92-40h0m-26 9h0m16-48h0m100 67h0m56 13h0m-53-69h0m-77 67h0m12 5h0m12-150h0m71 21h0m1 98h0m-82-41h0m7 44h0m-5 8h0m-61-75h0m184 42h0m-85 30h0m37-69h0m-80 53h0m75-94h0m-33 2h0m33 125h0m-115-60h0m71 44h0m13-64h0m-39-58h0m80 119h0m-31-110h0m-120 86h0m152 35h0m-102-89h0m15 99h0m20-70h0m23 119h0m65-51h0m-138 31h0m46-103h0m-25 35h0m137 8h0m-144 30h0m132-53h0m-89-87h0m-65 153h0m113-96h0m-73-47h0m53 123h0m-18-95h0m31 79h0m51-68h0m-43 88h0m-4-66h0m-16-25h0m-63 57h0m-28-81h0m154 29h0m-129-28h0m119 32h0m-107 71h0m86-113h0m29 58h0m-135 58h0m1-48h0m110-38h0m-72 127h0m-68-117h0m34-45h0m47 122h0m-106-34h0m117-58h0m-56 97h0m90-86h0m-24 109h0m11-35h0m8-92h0m-11 6h0m-35 18h0m-72-4h0m70-51h0m-15 27h0m92 27h0m-100 58h0m22 35h0m16-19h0m-62-104h0m123 135h0m-44-50h0m-33-10h0m43-70h0m-4 45h0m-24 64h0m-61-2h0m154-50h0m-104-11h0m12 0h0m-86-2h0m88 39h0m-11-14h0m-60 79h0m90-134h0m57 95h0m-128-119h0m-4 124h0m27-53h0m33-64h0m-20 57h0m32 93h0m7-173h0m-6 2h0m7 49h0m-126 60h0m39 50h0m54-59h0m-64 2h0m86-65h0m-119 84h0m76-111h0m96 18h0m-39 70h0m-19-83h0m-83 61h0m39-69h0m74 150h0m-103-55h0m9-51h0m-14 102h0m73-141h0m22 103h0m-88 33h0m-9-68h0m36 13h0m47 76h0m27-162h0m-121 64h0m25 67h0m34-119h0m60 7h0m-45 24h0m-44 91h0m16-110h0m-7 17h0m26 82h0m81-28h0m-15-5h0m-102-45h0m49 81h0m21-72h0m53 25h0m5 30h0m-103 20h0m21 14h0m-87-75h0m122 92h0m-105-43h0m123-86h0m-38-44h0m-50 55h0m-24-15h0m86 44h0m-95 57h0m4-40h0m26-82h0m28-1h0m-10 24h0m48 64h0m-6 80h0m-38-26h0m-34-30h0m105 7h0m-90-125h0m102 143h0m-105-34h0m90 39h0m-39-80h0m30-40h0m-22 21h0m-42-46h0m-68 121h0m107-114h0m56 93h0m-101-19h0m7 1h0m81 21h0m6-7h0m1-89h0m-145 131h0m133 15h0m-107-152h0m68 48h0m11 104h0m-92-104h0m86 65h0m-54-119h0m13 95h0m-16 10h0m-3-92h0m120 100h0m-158-59h0m-25 26h0m6 23h0m82-66h0m-78-2h0m23 115h0m29-108h0m33 74h0m51 53h0" stroke="#d66fdb" stroke-width="3.8" stroke-linecap="round" fill="none"/>
<path transform="scale(.5)" d="M983 203h0m-64-137h0m-20 37h0m87 84h0m-33-65h0m-82 102h0m-9-61h0m55-27h0m26 95h0m40-139h0m-129 9h0m60-35h0m-20 21h0m33-4h0m-100 59h0m66 10h0m34 33h0m6-90h0m11-30h0m-92 117h0m120 21h0m-41 27h0m-101-110h0m120-5h0m-134 20h0m62 67h0m37 29h0m15-45h0m-10-89h0m-44 93h0m-20-30h0m87-27h0m-16-4h0m-34-17h0m-24-1h0m8-9h0m0 118h0m94-3h0m-57 19h0m56-25h0m-84-29h0m-60-24h0m171-20h0m-110 45h0m-45-94h0m43-4h0m16 3h0m-59 105h0m27-88h0m90 122h0m13-126h0m-18 101h0m-74-39h0m3 11h0m18-91h0m13 10h0m4 68h0m-73-5h0m-33 1h0m46 78h0m70-7h0m-15 10h0m-81-82h0m64 84h0m2 3h0m-43-78h0m140-55h0m-65 76h0m-55-79h0m-63 19h0m144 3h0m-28 74h0m-80-4h0m139-81h0m-130 113h0m-15-96h0m153 53h0m-4 5h0m-109-69h0m34 64h0m44-4h0m-73-98h0m-5 3h0m11 62h0m61 53h0m-105-20h0m121-88h0m-83 63h0m14-10h0m26 27h0m-79-51h0m39 39h0m18-27h0m-70-47h0m53 82h0m27 31h0m32 13h0m-42-107h0m6 120h0m10-34h0m-57 2h0m-17-85h0m130 86h0m-108-100h0m78 38h0m-98-50h0m48 0h0m-4 156h0m26-23h0m-57-4h0m69-31h0m-26-58h0m-27 37h0m80 11h0m-19-105h0m47 108h0m-95-108h0m-23 96h0m101 28h0m-66 28h0m63-146h0m6 71h0m-65-54h0m-84 76h0m107 7h0m47-71h0m-19 127h0m41-67h0m-42-31h0m-113-48h0m138 51h0m-6 0h0m-134-20h0m125 49h0m-114-93h0m117 74h0m-159-2h0m41-69h0m111 128h0m-121-60h0m121-29h0m-78 114h0m41-25h0m30-22h0m-101-15h0m110 52h0m-52-120h0m-47 73h0m28 33h0m-39-128h0m-41 69h0m160 16h0m5 28h0m0-102h0m-55 111h0m-47-23h0m63-101h0m-24 87h0m10 20h0m23 51h0m9-88h0m-102 75h0m116-23h0m-56 44h0m21 6h0m-62-58h0m80-83h0m-12 46h0m-44-83h0m-31 126h0m44-118h0m-47 119h0m46-94h0m6-23h0m-36 66h0m61-56h0m12 89h0m-51-103h0m-58 75h0m-21-8h0m40 54h0m-22 6h0m-7-80h0m122 12h0m-75-44h0m-51 60h0m131-23h0m-78 26h0m102-1h0m-127-55h0m91 91h0m-64 54h0m9-42h0m-46 30h0m55 16h0m58-162h0m26 82h0m-90-64h0m-30 67h0m113 2h0m-154-76h0m59-32h0m44 3h0m-63 108h0m3-78h0m-52 49h0m100 79h0m-48-129h0m96 48h0m-149 52h0m172-100h0m-35 95h0m-76-99h0m36 1h0m-24 98h0m-74-65h0m73 61h0m-85-36h0m78 87h0m89-62h0m-138-80h0m96 104h0m-12-47h0m17-10h0m-15-24h0m1 33h0m-43 74h0m-53-38h0m157-46h0m-118 78h0m-35-125h0m21 41h0m14 105h0m60-95h0m-91 18h0m108-79h0m-49 163h0m-22-111h0m100-8h0m-140-15h0m34 70h0m24-23h0m6-35h0m-25-36h0m-27 90h0m71 48h0m-14-22h0m44-26h0m-79-72h0m-29 74h0m0-45h0m82 101h0m-68-133h0m134 29h0m-97 64h0m90-57h0m-105-64h0m17 65h0m90 0h0m-61-11h0m-4-34h0m-71 11h0m5-33h0m115 90h0m-55-7h0m-24 31h0m-54-43h0m62-55h0m34 114h0m-99-68h0m129 59h0m29-65h0m-85-24h0m-48-1h0m-12 25h0m125 72h0m-21 20h0m-13-150h0m2 23h0m-75 121h0m44-68h0m-45-79h0m32 24h0m13 122h0m77-13h0m-110-72h0m-13 42h0m104-80h0m-50-33h0m45 84h0m-44 82h0m-38-58h0m89 17h0m-98-61h0m12 112h0m17 7h0m-5-72h0m-39-99h0m28 23h0m28 128h0m64-47h0m6-50h0m-46 32h0m-6 19h0m23 52h0m-33 24h0m-71-149h0m79 142h0m9-15h0m-6-178h0m45 99h0m5 35h0m-38-32h0m-89 25h0m63 5h0m29-73h0m13 85h0m-55-140h0m94 56h0m-49 37h0m-81 12h0m34-93h0m-1 167h0m67-115h0m-103-43h0m88 89h0m32 1h0m1-33h0m-106-18h0m19-49h0m33 153h0m55-66h0m-83 92h0m86-58h0m5-96h0m-27 133h0m-107-113h0m54 96h0m-25-124h0m18-7h0m-51 51h0m107 106h0m-123-119h0m14 11h0m24 30h0m2 79h0m-4-132h0m-48 0h0m24 16h0m6 40h0m27-35h0m34-1h0m25-19h0m28 130h0m-68-101h0m-36-30h0m-16 128h0m36-40h0m29-126h0m16 24h0m3 148h0m-60-136h0m89-31h0m34 55h0m-122 97h0m-4-102h0m64 86h0m26-117h0m43 42h0m-133 16h0m68-40h0m-86-17h0m107 82h0m-39-48h0m-39 120h0m54-100h0m-53-58h0m-68 66h0m117 31h0m-5-92h0m5-4h0m37 118h0m-67 16h0m17-85h0m-30-76h0m-47 95h0m52 12h0m13-99h0m89 116h0m-79-85h0m7 67h0m22 66h0m-51 11h0m28-82h0m-98-68h0m113 154h0m-21-166h0m31 37h0m31 59h0m-155 15h0m83-93h0m-78 99h0m93-114h0m24 25h0m-75 27h0m76 92h0m-73-151h0m119 11h0m-22 95h0m-38 25h0m-81-52h0m-17-21h0m-5-8h0m53 60h0m-7-79h0m40-35h0m-28 85h0m46 87h0m-6-85h0m6-22h0m-68 69h0m106-45h0m-19-21h0m-113 19h0m116 35h0m-62-125h0m-84 75h0m36 69h0m7-92h0m56-29h0m-52 49h0m118 68h0m-26-41h0m-84 34h0m33-96h0m52-34h0m14 60h0m-76-67h0m55 134h0m18 15h0m13-85h0m-76 29h0m-27 38h0m-31-106h0m162 40h0m-190 25h0m134-11h0m-40-22h0m-36-55h0m20 171h0m-67-78h0m126-71h0m9 145h0m-91-126h0m-6 121h0m34-26h0m-52 11h0m9-121h0m105 83h0m-35-22h0m-49-34h0m-13 58h0m136 9h0m-20-71h0m-41 89h0m-47-153h0m58 185h0m-79-24h0m-22-103h0m17-21h0m-1 131h0m112-6h0m-3 6h0m-57-21h0m18-43h0m-70-92h0m68 38h0m-48-7h0m71 97h0m-34 32h0m37-130h0m17-6h0m29 23h0m-49-8h0m27 59h0m26-13h0m-8-4h0m-80 1h0m44-60h0m-65 31h0m3-44h0m-68 94h0m90-13h0m-99 36h0m58-70h0m79 73h0m-92-73h0m106-22h0m-14 19h0m-83 42h0m2 71h0m19-80h0m-74-38h0m80 58h0m-80-15h0m158-16h0m-83 93h0m30-117h0m-70 31h0m-28 54h0m4-77h0m96 93h0m-13-41h0m28-75h0m-7 35h0m-86-73h0m-2 141h0m4-4h0m110-27h0m-98-63h0m32-10h0m-46-15h0m-16 89h0m19 41h0m76-58h0m42-19h0m-128 69h0m11-3h0m-15 20h0m46 21h0m49-17h0m-102-127h0m128-17h0m-72 19h0m14-5h0m74 9h0m-32 55h0m31-16h0m-81-43h0m64 10h0m-4 74h0m7-59h0m-16 70h0m-61-3h0m-10-41h0m-60-27h0m142-20h0m-66-39h0m6 146h0m3-131h0m49 143h0m-6-41h0m-15 40h0m-51-80h0m117-17h0m-137-30h0m28 32h0m-11-63h0m-37 103h0m-24 17h0m84 56h0m-74-133h0m65 66h0m-18 10h0m-10 30h0m49-3h0m-52-12h0m-1-45h0m-16 38h0m65-72h0m-86 53h0m128 51h0m-114-16h0m30-77h0m31 40h0m33-37h0m32-65h0m9 84h0m-39 70h0m-63-38h0m43 1h0m78 11h0m-37-13h0m-115 2h0m70-88h0m-4 17h0m36 82h0m43-79h0m-75-50h0m-11-4h0m-68 114h0m11-52h0m-6 35h0m-2-28h0m162-24h0m-67-30h0m-67 82h0m23-43h0m41 80h0m50-128h0m-152 82h0m57 76h0m-24-62h0m44-75h0m16 13h0m14 118h0m-5-145h0m-9 6h0m94 52h0m-95 15h0m-36-45h0m-23 2h0m-8 11h0m101 12h0m-64-17h0m68-57h0m-31 139h0m79-31h0m-159-70h0m105-18h0m-28 3h0m-58 89h0m114-73h0m-25 132h0m-31-57h0m3-21h0m-46-55h0m57-14h0m56 107h0m-94-61h0m8-27h0m-22 85h0m-17-64h0m17 20h0m47 58h0m7 37h0m2-177h0m-60 32h0m95 39h0m-117 62h0m96-30h0m-47-19h0m-2 54h0m87-17h0m-157-60h0m80-44h0m-40 4h0m34 85h0m38-14h0m-82 46h0m69-8h0m-83-84h0m36 17h0m18-67h0m11 130h0m26 35h0m-45-76h0m89-50h0m-104 121h0m70-35h0m20-102h0m31 107h0m-22-101h0m-36-23h0m-84 17h0m98 131h0m-95 1h0m109-74h0m20 3h0m-71-27h0m-49 110h0m69 6h0m-90-65h0m16-88h0m65 33h0m-3 52h0m-52 67h0m60-4h0m-51 2h0m116-31h0m-164-5h0m6 21h0m-6-119h0m-5 54h0m156 34h0m-74-33h0m-24 35h0m108-70h0m-80-37h0m-19 85h0m-2-58h0m-42 29h0m-13-23h0m6 95h0m48-126h0m34 105h0m50-72h0m-6 9h0m-90 50h0m8 65h0m61-66h0m-83 52h0m-7-3h0m89-59h0m-89 35h0m59-101h0m-103 52h0m74 29h0m118-25h0m-129 49h0m-30 29h0m158-60h0m-144 30h0m132-53h0m-79-49h0m31 79h0m-12-71h0m-91-24h0m25 1h0m12 103h0m86-113h0m5 30h0m-48-5h0m10 120h0m-29-158h0m77 54h0m-62 21h0m-69 102h0m15-34h0m79-140h0m1 51h0m-126 60h0m39 50h0m54-59h0m22-63h0m-49-30h0m0 86h0m27-43h0m-44 91h0m24-5h0m49-36h0m-6 80h0m33-49h0m-90-125h0m87 148h0m-31-99h0m-110 75h0m150-18h0m6-7h0m-144 42h0m94-89h0m-81 0h0m32-54h0m114 113h0" stroke="#a448b6" stroke-width="3.2" stroke-linecap="round" fill="none" opacity="0.45"/>
<circle cx="452" cy="74.8" r="48.8" fill="none" stroke="#2f8a3c" stroke-width="1.1"/>
<circle cx="449.4" cy="74.7" r="5.9" fill="none" stroke="#2379b6" stroke-width="1.05"/>
<text x="453.8" y="9.8" text-anchor="middle" font-family="Liberation Sans, sans-serif" font-weight="bold" font-size="11.4" fill="#111">0bp Tail</text>
<path transform="scale(.5)" d="M1097 117h0m123-29h0m-86 16h0m137 75h0m-175 31h0m-4-48h0m102 68h0m-4-152h0m-6 138h0m8 24h0m-67-148h0m77 151h0m-72-23h0m-41-109h0m17 108h0m-18-95h0m66-35h0m-28-25h0m104 167h0m-1-157h0m-101 137h0m-30-129h0m27 17h0m2 100h0m79-118h0m-60 160h0m6 1h0m-52-66h0m-10-8h0m28 17h0m45 59h0m89-19h0m-39-57h0m-104-83h0m-1 44h0m-17-1h0m88 120h0m-62-39h0m-16-40h0m124 63h0m-133-71h0m95 87h0m-105-100h0m78-87h0m-59 153h0m50 3h0m99-45h0m-165-55h0m39 72h0m-42-55h0m82 82h0m-67-83h0m143-9h0m-33 118h0m-72 7h0m68-24h0m-115-57h0m12-70h0m5 76h0m32 55h0m-52-90h0m39-24h0m115 125h0m9-135h0m-125 25h0m50 125h0m96-158h0m-100-6h0m17 62h0m-60-83h0m14 175h0m-10-56h0m95 46h0m-70-22h0m39 34h0m62-49h0m-136 31h0m89-11h0m29-19h0m-38-74h0m-109-25h0m19 97h0m58-113h0m-67 52h0m4 60h0m185-58h0m-114 113h0m-78-77h0m31-75h0m-37 27h0m8 58h0m-25-33h0m55-68h0m20-8h0m-55 137h0m-5-13h0m160 13h0m-111 20h0m36 24h0m-95-110h0m93-100h0m49 8h0m-126 145h0m20-35h0m-17 3h0m-6 13h0m19 44h0m-8-2h0m18-123h0m72 141h0m84-120h0m-141-67h0m60 95h0m-85-31h0m1 28h0m-22 29h0m16 41h0m-8-1h0m-7-122h0m76 52h0m-75 24h0m-16-20h0m27 37h0m17 37h0m134-138h0m-162 30h0m53 84h0m-52-46h0m38 83h0m50-32h0m21-149h0m-24 177h0m18-161h0m-52 134h0m106 4h0m-98-159h0m-24 169h0m79 17h0m-65 12h0m-39-55h0m-17-10h0m187-33h0m-103 63h0m-52-143h0m150 38h0m-23 51h0m-117 57h0m48 7h0m-13 18h0m-80-101h0m89-88h0m-61 165h0m10-136h0m19-14h0m125 109h0m-173-17h0m146 53h0m-114-129h0m101 136h0m-62-164h0m103 100h0m-49 77h0m-128-46h0m181-12h0m-107-117h0m-40 117h0m-12-49h0m98 14h0m73 49h0m-53-17h0m6-69h0m-132 122h0m115 24h0m-31 5h0m-45-195h0m-48 78h0m143-2h0m-143 48h0m-12-22h0m128-96h0m-112 131h0m2-11h0m-4 29h0m159-130h0m-152 118h0m153-114h0m-80 169h0m-82-123h0m42 109h0m153-100h0m-49 2h0m-2 69h0m-38 46h0m-74-65h0m-44-36h0m53 33h0m133 15h0m-149-123h0m1-11h0m73 179h0m-115-70h0m179 6h0m-36-60h0m-125-36h0m77 157h0m-74-70h0m30-117h0m45 183h0m-78-32h0m-1-69h0m142 69h0m-155-75h0m50 89h0m120-131h0m-113 138h0m19-179h0m53 162h0m-115-96h0m65 89h0m3-119h0m23 166h0m-9-10h0m-15-31h0m-46-128h0m110 138h0m-36 10h0m76-151h0m-187 100h0m7-78h0m80 137h0m-45-42h0m-27-22h0m164-97h0m-174 23h0m38 2h0m14 7h0m3 119h0m-45-120h0m26 79h0m102-127h0m-73 172h0m-17-147h0m72 152h0m-109-87h0m72 67h0m34 5h0m-86-35h0m150-111h0m10 60h0m-187-31h0m92 142h0m51-12h0m-144-86h0m5 25h0m80-123h0m-35 31h0m85 149h0m-91-14h0m18-166h0m-68 129h0m62 26h0m-3-144h0m-31 14h0m66 11h0m-49-27h0m26 156h0m-35-29h0m37 50h0m-42-99h0m54-94h0m-94 64h0m111-53h0m-74 156h0m-10-9h0m-6-45h0m152-7h0m-145-68h0m75 148h0m-44-131h0m-28 122h0m136-48h0m-5-32h0m-79 65h0m-23-124h0m122 56h0m-93 74h0m94-47h0m-141-100h0m134 4h0m-163 123h0m151-111h0m6-26h0m-149 74h0m71-65h0m-61 11h0m14 53h0m4 85h0m-31-21h0m191-17h0m-22 18h0m-167 11h0m110 23h0m3 3h0m-125-45h0m93-21h0m-40-68h0m63 154h0m7-158h0m5 142h0m15 2h0m-132-26h0m36-82h0m-35 9h0m35-17h0m-12 57h0m62-140h0m-32 13h0m40 78h0m-103 32h0m23 30h0m176-53h0m-149-68h0m22 104h0m-9-61h0m40-63h0m105 85h0m-217 25h0m99 22h0m-7-128h0m43 52h0m-105 82h0m72-92h0m-43 2h0m-43 68h0m-11-17h0m2 38h0m180-41h0m-50-30h0m-35-63h0m74 144h0m-17-113h0m-82 61h0m8-51h0m-36 55h0m56 46h0m-6-8h0m-73-2h0m14 16h0m82 38h0m-75-6h0m-23-120h0m-15 29h0m69 19h0m-49 49h0m16-141h0m-28 32h0m35 126h0m120-109h0m-160-20h0m96-40h0m-55 91h0m100-97h0m-132 81h0m34 67h0m27-83h0m80-57h0m-126 158h0m92-16h0m-94-108h0m46 119h0m-5 9h0m-46-23h0m24 17h0m56-174h0m-30 7h0m16 110h0m-100-8h0m37-60h0m162 35h0m-114 114h0m-74-66h0m145-82h0m-114 82h0m1 22h0m152-1h0m-122 4h0m83-150h0m-136 53h0m154 133h0m-142-159h0m-17 58h0m37 32h0m-13 10h0m121 48h0m-101 12h0m-45-122h0m73 127h0m29-16h0m-45 14h0m-62-80h0m119 81h0m-121-119h0m32 49h0m0-13h0m16-6h0m69-106h0m55 28h0m-122 15h0m-28 66h0m15 72h0m93-15h0m32-102h0m-19 52h0m-37 53h0m24 32h0m-78-138h0m-13-1h0m0-18h0m-7 66h0m-13-74h0m45-8h0m33 42h0m47 116h0m-106-163h0m23 120h0m-15-113h0m39-18h0m-81 59h0m55 132h0m-39-167h0m53-34h0m99 53h0m-39 96h0m-28-43h0m-62-28h0m-34 49h0m51-77h0m-33 85h0m37-93h0m52 158h0m74-54h0m-71 48h0m-77-19h0m89 1h0m-128-71h0m26 44h0m180-47h0m-127 99h0m-28-70h0m-25-100h0m147 58h0m-172 39h0m26 32h0m61 39h0m-78-146h0m169 115h0m-115 40h0m78-58h0m-95-18h0m-40 16h0m47 28h0m-4-156h0m16 147h0m-7 17h0m-57-104h0m67-13h0m-52 66h0m30 29h0m2 15h0m-13-17h0m-22-94h0m128 3h0m34 77h0m-53-147h0m-5 4h0m15 110h0m-104 1h0m-35-17h0m10 15h0m108-95h0m-64 165h0m-35-59h0m70 42h0m96-124h0m-117 118h0m17 20h0m60 5h0m-115-86h0m20 59h0m-4-6h0m8-131h0m16 126h0m-23-102h0m93 27h0m7 112h0m-48-52h0m-51-29h0m4 40h0m-45-55h0m23-43h0m2 82h0m-24-10h0m25-22h0m39-92h0m-42 79h0m127-11h0m-93 2h0m60 101h0m-96-115h0m64-21h0m-81 11h0m75 117h0m-76-76h0m35 6h0m24 100h0m-32-127h0m33 109h0m-37-5h0m-31-78h0m67 84h0m48-39h0m-84 28h0m84-169h0m84 132h0m-112 69h0m-31-10h0m16-36h0m-49-51h0m65 70h0m25 22h0m10-196h0m-68 156h0m58-122h0m-31 51h0m-26-71h0m102 36h0m-61-19h0m-60-9h0m27 26h0m-23 17h0m82 113h0m7-128h0m-97 10h0m18 20h0m-26-1h0m-18 17h0m193-31h0m-158 98h0m-2 2h0m30 25h0m-2-160h0m-35 6h0m2 115h0m49-154h0m45 187h0m-122-79h0m12-24h0m42-31h0m62 134h0m-15-181h0m-10 182h0m-61-96h0m163-4h0m-20 64h0m-141-112h0m-16 24h0m93-61h0m-7 14h0m11 182h0m67-146h0m-95 155h0m-37-169h0m-48 67h0m29-64h0m23-33h0m10 21h0m-67 69h0m152 70h0m-133-16h0m175-101h0m-170 49h0m46-79h0m-45 95h0m-7-67h0m15 109h0m14-64h0m56 46h0m-69-62h0m11-50h0m-7 150h0m150-78h0m-101 99h0m40-35h0m-100 1h0m139-95h0m-101-32h0m-60 32h0m85-68h0m4 194h0m-93-100h0m192 1h0m-17-38h0m-155 74h0m-1-66h0m30 8h0m150 44h0m-26-83h0m-21-19h0m-79 180h0m-50-134h0m99 133h0m-61-169h0m-11 136h0m97-11h0m19-135h0m-23 170h0m-101-144h0m76 151h0m-101-92h0m53-96h0m-35 114h0m-9-91h0m32 148h0m-24-16h0m98-3h0m-28 12h0m-27-157h0m127 81h0m-19-54h0m-71 117h0m-90-15h0m28-73h0m71 133h0m-7-195h0m-119 83h0m24-19h0m15 114h0m111-104h0m-28-54h0m-102 137h0m120 1h0m-5-157h0m-94 173h0m15-163h0m17 159h0m4-15h0m10 7h0m17-163h0m34 168h0m-104-20h0m-17 6h0m106 27h0m-78-1h0m-13-69h0m153-64h0m-3 110h0m-81-129h0m-83 24h0m14 18h0m18 73h0m-40-62h0m40 79h0m21-139h0m9 140h0m-24 26h0m112-66h0m-45-106h0m-92 147h0m-17-59h0m99 16h0m-93-53h0m25 118h0m-45-86h0m165 62h0m-13 16h0m-41-58h0m-87-70h0m53 132h0m-37-63h0m-23-5h0m60 70h0m-41-137h0m27 142h0m-60-81h0m108-92h0m-3 179h0m53-24h0m-105-11h0m133-66h0m-38-37h0m35 86h0m-117-63h0m13 7h0m115-44h0m-82 128h0m-68-104h0m24 13h0m32 119h0m-81-88h0m146-67h0m-140-3h0m156 27h0m-166 83h0m55-129h0m-8 172h0m-15-5h0m-12-114h0m-7 55h0m0-97h0m-31 77h0m22 18h0m-12-64h0m77-7h0m-76 13h0m70-72h0m-67 96h0m73 106h0m113-115h0m-55 7h0m-61-27h0m70-20h0m-101 144h0m2-3h0m26-3h0m-59-59h0m48 33h0m-69-65h0m28-57h0m12 2h0m33 135h0m2-166h0m-41 20h0m-21 118h0m112-118h0m-82 125h0m130 6h0m-149-19h0m19 28h0m65-165h0m84 123h0m-163 29h0m31-91h0m-43 91h0m-4-10h0m175-88h0m-116-37h0m-41 66h0m-2-23h0m77 99h0m-104-111h0m30 125h0m57 19h0m55 0h0m-70 4h0m92-25h0m-139-129h0m60-29h0m54 174h0m-89-36h0m-6 17h0m86-136h0m-94 35h0m-37 9h0m53 77h0m-27-8h0m31 11h0m-49-98h0m53 116h0m39 20h0m-75-78h0m18-89h0m46 64h0m19 30h0m76-34h0m-91 41h0m-23-121h0m-36 50h0m118-50h0m-113 158h0m-46-56h0m82 85h0m-27-78h0m40 27h0m69-95h0m-146 91h0m71-47h0m42-72h0m-73 148h0m148-17h0m-102-123h0m51 167h0m-64-201h0m-51 70h0m-18 45h0m6 26h0m119 50h0m-10-153h0m-85 116h0m0 31h0m42-157h0m30 137h0m-90 0h0m85-79h0m95 8h0m-147 77h0m9-2h0m122-58h0m-143-79h0m-4 138h0m8-119h0m85 107h0m8 21h0m-153-76h0m99-95h0m-52 155h0m-22-53h0m15-46h0m-15 10h0m53 115h0m-51-126h0m105 122h0m49-151h0m-145 10h0m153 17h0m-96-19h0m-53 132h0m129-33h0m-81 59h0m-65-149h0m108-30h0m-94 150h0m-6 1h0m27-10h0m149-76h0m-163 39h0m17 11h0m-39-16h0m33 38h0m-22 19h0m-24-89h0m45 55h0m139-86h0m-59-10h0m-84-2h0m37 124h0m-51-131h0m165 103h0m-166-88h0m-6 92h0m75 38h0m-43-132h0m3 136h0m148-49h0m-124 57h0m-52-95h0m-20 2h0m88 25h0m47-103h0m-65 181h0m49-166h0m10 140h0m-79 4h0m4-145h0m123-1h0m-89-27h0m87 113h0m-149 5h0m103-19h0m-86 62h0m-34-60h0m-1-47h0m18-35h0m18 110h0m66-141h0m6 15h0m28 177h0m-125-14h0m18-41h0m-17 39h0m35-134h0m-19-11h0m103 139h0m18-65h0m-53-29h0m-50-42h0m47 158h0m-105-69h0m54 40h0m-37-15h0m37-117h0m130 58h0m-184 13h0m38-49h0m148 103h0m-140 28h0m-33-92h0m35 108h0m-13-169h0m2-4h0m3 108h0m106 50h0m-130-120h0m161 4h0m-46 34h0m-8 19h0m-81-80h0m-28 83h0m13-72h0m51 110h0m-41 20h0m-29-90h0m-4 9h0m21 55h0m159-117h0m7 57h0m-7 76h0m-41-39h0m-104 44h0m20-135h0m-17 110h0m44-146h0m-18 37h0m-43 83h0m-13-78h0m43 108h0m11 49h0m-47-147h0m102 144h0m16-92h0m-62 70h0m-70-32h0m15-95h0m-3 99h0m89 15h0m9-148h0m-38-6h0m-28 136h0m83-122h0m-122 23h0m105 84h0m-45 56h0m14 4h0m45-25h0m-38 29h0m-30-43h0m-55-68h0m32-57h0m99 139h0m-99-134h0m61 170h0m8-96h0m6-109h0m-36 45h0m120 34h0m-149 45h0m22-119h0m79 17h0m-137 58h0m-11 13h0m11 8h0m59-103h0m-33 181h0m-42-42h0m173-69h0m-18-35h0m-148 39h0m35 105h0m94-160h0m-119 84h0m140-4h0m-89 81h0m37 24h0m72-131h0m-43-69h0m-90 44h0m27 70h0m-37 68h0m163-113h0m-152-31h0m-11 13h0m53-49h0m-34 85h0m9 65h0m1 42h0m-15-34h0m-6 6h0m-41-77h0m7 61h0m80-104h0m7-33h0m-10 25h0m-34-9h0m2 30h0m8-23h0m-56 104h0m-1-74h0m9-14h0m-4 95h0m80-117h0m-28 34h0m-26 55h0m-17-38h0m31-59h0m-32 93h0m29-82h0m20 168h0m84-177h0m-49 153h0m-9-143h0m79 135h0m-80 7h0m15-144h0m-63 56h0m7 56h0m74-100h0m-99-9h0m-17 27h0m10 23h0m41 115h0m-40-50h0m13-42h0m127 76h0m3-147h0m-98 133h0m-8-162h0m91 66h0m-153 37h0m105 40h0m-36 21h0m-11-150h0m-10 29h0m152 36h0m-164 85h0m7-24h0m-19-106h0m4 132h0m79-74h0m-31 95h0m4-188h0m72 26h0m17 29h0m-44-56h0m67 89h0m-140 5h0m29 102h0m-36-179h0m129 5h0m20 35h0m-131 132h0m-15-11h0m53-114h0m-44-22h0m-15 111h0m11-88h0m122-21h0m-46-9h0m71 66h0m-192-5h0m46 40h0m-8-47h0m44 102h0m47-19h0m11 21h0m-128-142h0m5 43h0m-11-30h0m38 30h0m-20-32h0m5-45h0m2 20h0m165 75h0m-196 11h0m55-121h0m47 183h0m43-174h0m-130 145h0m140 22h0m-39 3h0m57-69h0m-129 43h0m-26-116h0m86 156h0m-49-172h0m-63 73h0m33 49h0m1 3h0m-28-83h0m206 50h0m-109-121h0m-72 162h0m39 31h0m-8-130h0m-44 44h0m-10-32h0m7 21h0m22-50h0m-21 59h0m44-3h0m-48 2h0m5 29h0m8-10h0m195-12h0m-154-93h0m0-4h0m12 173h0m-43-34h0m3-61h0m136-10h0m-61-55h0m-67-6h0m3 161h0m6-89h0m-53 20h0m52 72h0m69-183h0m-67 90h0m-8 21h0m96 70h0m-131-46h0m23-22h0m0 7h0m81-124h0m32 131h0m22-70h0m-121-25h0m113 47h0m-10-61h0m-88-13h0m139 44h0m-46-18h0m-74 170h0m104-149h0m-65-35h0m-61-1h0m-35 134h0m25-110h0m126-4h0m-32-28h0m-126 121h0m171-25h0m-160-57h0m-4 100h0m87-92h0m-8-46h0m60 145h0m-121 34h0m-2-65h0m128-89h0m-131 39h0m133-39h0m-146 137h0m-17-63h0m47 52h0m-47-85h0m69 78h0m31-162h0m-96 87h0m76-70h0m27 198h0m-70-34h0m-28-109h0m174-6h0m-14 31h0m-75 22h0m42 25h0m-75-57h0m86 61h0m-39-133h0m-36-6h0m59 204h0m-121-91h0m56-95h0m-50 101h0m145-91h0m-138 146h0m95-165h0m-112 78h0m117 116h0m-121-66h0m32-90h0m1 117h0m54-169h0m-53 197h0m-7-34h0m-2-21h0m37 60h0m65-2h0m-129-105h0m6 34h0m39-104h0m31 30h0m-48-13h0m8-11h0m6 64h0m-10 69h0m-3-136h0m23 148h0m-32-20h0m70 1h0m-37-123h0m-24 88h0m4 49h0m-35-44h0m92 63h0m17-164h0m-22 78h0m55-77h0m29-1h0m-34 9h0m-96 102h0m-24 30h0m53 33h0m-45-47h0m-30-57h0m69-74h0m133 95h0m-151-47h0m143 62h0m-178 27h0m-16-74h0m58 114h0m134-85h0m-157-85h0m53-12h0m47 46h0m24-41h0m-71 179h0m-78-122h0m93 111h0m-50-1h0m-24-72h0m6-16h0m124 43h0m26-90h0m-137 108h0m34-145h0m-32 57h0m48 129h0m4 5h0m23-2h0m-27-161h0m5 46h0m-64-33h0m148-7h0m7 83h0m-101 69h0m52-1h0m-111-59h0m44-142h0m-41 101h0m4 52h0m-31-13h0m76 67h0m68-148h0m-96-26h0m106 16h0m-126 26h0m159 8h0m-180 22h0m113 95h0m64-95h0m-165-47h0m24-13h0m-17 49h0m163 21h0m-32 18h0m-6 9h0m-98 46h0m0-135h0m87-41h0m-130 36h0m37 127h0m-27-17h0m3 8h0m24-46h0m61 75h0m-57-163h0m-14 7h0m-12 31h0m103-8h0m-19 138h0m-23-116h0m-16 119h0m17 13h0m16-11h0m-62-181h0m118 80h0m-94-96h0m-79 115h0m200-58h0m-169 66h0m-3-39h0m48 38h0m125 35h0m-90 8h0m16-41h0m-81-44h0m86 70h0m-32-143h0m-26 164h0m-49-49h0m148 54h0m-73-19h0m-48 19h0m-4-131h0m99-17h0m-39 89h0m-94-25h0m133-4h0m-106-63h0m118 160h0m-93-32h0m56 15h0m-89-74h0m44-98h0m31 180h0m-50 12h0m-35-53h0m17 42h0m1-12h0m75-163h0m-95 109h0m22-18h0m-26 47h0m13-66h0m71-75h0m-62 150h0m54 14h0m-23 3h0m-41-10h0m37-26h0m25-123h0m-75 71h0m48-33h0m-40 103h0m61 16h0m106-74h0m-179 22h0m-6 2h0m44-104h0m5 163h0m30 2h0m41-166h0m-67 6h0m-15 153h0m-4-83h0m106 45h0m-29 44h0m-10 2h0m92-124h0m-120 137h0m-20-71h0m-26-6h0m72 71h0m57-166h0m18 72h0m-123 86h0m-26-79h0m143-69h0m-55 151h0m-62-4h0m72-122h0m-46 103h0m-15-153h0m-36 59h0m3 101h0m18-113h0m91-47h0m-122 66h0m72 123h0m-6-20h0m-22 18h0m27-29h0m-80-48h0m17-29h0m7 44h0m18-109h0m3 142h0m132-14h0m-145-73h0m86-73h0m-74 5h0m131 92h0m-82 96h0m-65-148h0m66 146h0m-57-29h0m37 31h0m-45-74h0m-10 5h0m55-124h0m101 49h0m-96-53h0m19 19h0m-88 71h0m6 36h0m19-7h0m54-112h0m-51 21h0m-33 88h0m19-12h0m101-34h0m-142 43h0m108-109h0m-6 145h0m-65-31h0m4-75h0m72 166h0m-39-163h0m-51 47h0m19-13h0m4-67h0m98 144h0m-42-157h0m85 162h0m-68-42h0m-72 53h0m-37-67h0m66-16h0m33 95h0m-51-6h0m-7-166h0m-4 77h0m42 5h0m55 107h0m-53-30h0m99-67h0m-165-24h0m42-58h0m-50 101h0m24 21h0m47 61h0m99-55h0m-152-55h0m97-58h0m-77-6h0m22 168h0m-12-14h0m4-152h0m45-35h0m-15 64h0m0 130h0m-85-92h0m66-88h0m123 134h0m3-4h0m-122 19h0m-31-17h0m31 53h0m-37-129h0m78 122h0m-110-116h0m47 103h0m87 21h0m-119-112h0m176 9h0m-129 95h0m-50-125h0m18-14h0m19 41h0m-17-60h0m-8 23h0m14 131h0m-24-62h0m53-123h0m-65 133h0m111 64h0m-65-80h0m15-83h0m-55 29h0m172 64h0m-28 19h0m5 14h0m-101-16h0m-37-53h0m75-69h0m36 149h0m-117-10h0m-3-62h0m47-10h0m-49 6h0m50-75h0m-18 16h0m136 18h0m-171 70h0m166 42h0m-163-21h0m25 34h0m25-177h0m11 163h0m102-38h0m-127 4h0m-16 19h0m145-94h0m-124 93h0m11-131h0m-42 21h0m21-4h0m167 93h0m-107-105h0m61 149h0m-47-82h0m-49 85h0m-14-16h0m103 6h0m-68-108h0m-51 91h0m-30-83h0m48 90h0m48 29h0m-8 6h0m51-134h0m21-4h0m-93-48h0m122 128h0m-167-104h0m148 52h0m-14-34h0m11 96h0m-141-121h0m83 93h0m-7 76h0m-108-81h0m204-39h0m-92 132h0m-74-68h0m122-102h0m-76-20h0m-64 133h0m173-61h0m-135-62h0m32 167h0m-80-69h0m16-31h0m50-50h0m104 90h0m-176 7h0m39-112h0m-48 64h0m13 66h0m126-96h0m-116 88h0m151-30h0m13-25h0m-130-86h0m-46 112h0m35-4h0m20-90h0m30-20h0m61 11h0m-136 44h0m173-10h0m-184 3h0m82 118h0m-67-81h0m136-72h0m-36 105h0m-1 2h0m-57-121h0m-69 91h0m128 56h0m-4 49h0m-15-174h0m-44 112h0m-30 21h0m9-125h0m6-23h0m26 137h0m-5-153h0m15 58h0m120 60h0m-145 25h0m97-124h0m-70-3h0m-41 32h0m-4 40h0m-4-51h0m101 18h0m-54 100h0m36-153h0m-88 39h0m3 102h0m69 54h0m-81-97h0m16 91h0m-14-123h0m26 126h0m122-162h0m-12 132h0m-128-3h0m8 25h0m49-38h0m-53 7h0m-36-39h0m21-68h0m-6 90h0m168-51h0m-102 84h0m57-158h0m-101 67h0m-15 54h0m65 74h0m-23-130h0m-16 113h0m-22-113h0m30-33h0m-13-20h0m-18 21h0m-18 23h0m76-55h0m-22 157h0m81 33h0m-42-171h0m-34 140h0m4 24h0m63-125h0m59 80h0m-176-29h0m64 63h0m-25 7h0m-42-84h0m196 24h0m-78 65h0m-95-58h0m58 61h0m-61-151h0m21 143h0m40-181h0m-33 123h0m109 25h0m32-26h0m-205-13h0m9-49h0m133 83h0m-41-148h0m18 179h0m74-67h0m-177 10h0m82-40h0m100 38h0m-164 4h0m149-41h0m-13 90h0m-129 8h0m37-178h0m-64 58h0m96-53h0m21 94h0m8 42h0m-114-87h0m80 121h0m-19-29h0m57 52h0m32-178h0m-94 12h0m16-10h0m20 176h0m2-91h0m-98-42h0m129-55h0m-20 70h0m-102 58h0m48-38h0m50-103h0m-114 142h0m79-47h0m-73-11h0m178-35h0m-57 8h0m-104 117h0m59 22h0m-66-149h0m41-46h0m35 14h0m92 139h0m-165 8h0m-10-33h0m188-27h0m-56-99h0m-116 67h0m92-54h0m-101 139h0m0-83h0m94 10h0m-98 21h0m161 67h0m-174-79h0m200-14h0m-205-7h0m66 104h0m10-3h0m-40-136h0m-38 80h0m29-83h0m2 46h0m181 20h0m-157-90h0m8 169h0m-12-26h0m75 40h0m30-18h0m-127-140h0m9 50h0m34-55h0m-43 32h0m52-57h0m-32 17h0m89 137h0m-129-27h0m107-104h0m90 48h0m-177 91h0m-2-128h0m-29 72h0m186-12h0m-16-61h0m-39-30h0m-102 137h0m134-122h0m-67 0h0m45-1h0m-104 14h0m132-15h0m-155 104h0m196-26h0m-91 106h0m-97-100h0m15 30h0m21-28h0m79 89h0m-74-178h0m-16 23h0m48 164h0m-84-142h0m13-4h0m-2 64h0m-7-20h0m185 4h0m-169 6h0m0-3h0m176 8h0m-189 19h0m7-29h0m53-101h0m22 160h0m80-103h0m-54-47h0m50 17h0m-6 137h0m-130-162h0m159 46h0m-126 145h0m55-187h0m-128 66h0m190-45h0m-83-26h0m-85 83h0m-7-31h0m16 83h0m40 13h0m-62-20h0m28 13h0m42-110h0m-35 118h0m43 42h0m-80-126h0m38 59h0m68-2h0m-89-39h0m85 102h0m-78-61h0m58-126h0m-50 27h0m-24 115h0m15-58h0m-8 29h0m18 47h0m3-128h0m31 162h0m-7-190h0m-1 27h0m-37 75h0m-10-48h0m5 31h0m185-3h0m-163 46h0m25-113h0m24 162h0m-55-41h0m53-159h0m82 60h0m-149 48h0m14 63h0m-12-92h0m-12 3h0m10 51h0m73-84h0m59 33h0m-113-51h0m-51 77h0m14-15h0m131-78h0m-79 189h0m-56-110h0m201-23h0m-79 70h0m-74-97h0m47 135h0m-68 10h0m173-51h0m-159 55h0m-35-62h0m66-108h0m9 173h0m-60-22h0m122-148h0m-29 170h0m86-104h0m-55 101h0m23-135h0m-86 125h0m-37-79h0m126-64h0m-133 132h0m126-121h0m-137 122h0m2-64h0m17-76h0m-13 147h0m13-146h0m101 159h0m-2-19h0m-86 34h0m13 7h0m-51-60h0m13-70h0m54 105h0m-95-64h0m41-58h0m-15 49h0m-1-48h0m17 113h0m156-66h0m-24 59h0m-115-96h0m5 56h0m-62-28h0m55 93h0m131-113h0m-141 117h0m13-142h0m36 114h0m32-2h0m-56-144h0m53 4h0m85 50h0m-194 76h0m20-3h0m122-60h0m-113-50h0m-28 65h0m41-27h0m115 82h0m-162-41h0m193 32h0m-85-14h0m69-96h0m-10 134h0m-156-137h0m139 132h0m-65-156h0m-54 102h0m94 86h0m13-181h0m35 81h0m-106-42h0m-47 9h0m45 1h0m135 40h0m-158 76h0m-9-10h0m90-55h0m-46 58h0m65-66h0m-134 27h0m113 61h0m-94-80h0m6-81h0m4-15h0m56 22h0m-37 40h0m-12 93h0m-14-57h0m-23-63h0m151-28h0m-45 82h0m90-21h0m-149 97h0m40-108h0m-49 112h0m11-174h0m11 18h0m-47 114h0m139 36h0m-77-26h0m107-72h0m-157 59h0m-21-32h0m33 78h0m-35-58h0m8-17h0m49-58h0m36 65h0m-39 77h0m90-55h0m-145-63h0m3-13h0m-9 76h0m18 34h0m59 7h0m-75-104h0m28-61h0m-34 85h0m51 76h0m99-35h0m-100-11h0m0-75h0m-37 86h0m169-78h0m-21 10h0m-110 112h0m-28-21h0m81-14h0m-66 20h0m-20-138h0m14 135h0m159-97h0m-42-52h0m-101-16h0m34 71h0m-20 122h0m76-100h0m-46 97h0m-66-26h0m173-77h0m-80-51h0m21-3h0m-86-32h0m41 127h0m-13 15h0m-40-133h0m-31 89h0m136 68h0m-26 18h0m-12 11h0m-63-178h0m-46 50h0m59-15h0m89 51h0m-64-113h0m82 190h0m-59-184h0m-68 136h0m-12 16h0m139-46h0m17 37h0m-11-113h0m13 118h0m-7-108h0m-157 89h0m43 4h0m11 33h0m113-53h0m-185-35h0m-3 6h0m41 95h0m3-124h0m-26 4h0m-8 55h0m138-110h0m-101 12h0m35 8h0m43 175h0m-34-200h0m57 118h0m-67-99h0m-69 107h0m81-4h0m-30 69h0m-47-146h0m8-2h0m88-51h0m-97 120h0m-6-33h0m21 4h0m63 122h0m-1-205h0m-71 92h0m-28 23h0m127 78h0m-43-121h0m-58 32h0m82-98h0m-101 101h0m52-53h0m35 107h0m19-163h0m-89 101h0m24-31h0m10 111h0m-6-157h0m85 158h0m-122-47h0m-12-60h0m48-13h0m39 114h0m105-35h0m-118-117h0m60-9h0m1 147h0m-94-146h0m-16 82h0m42 68h0m-58-26h0m81-96h0m-72 85h0m43-30h0m-37-38h0m-18 49h0m-2-27h0m47 91h0m4 11h0m-52-107h0m49 86h0m19-55h0m11-86h0m27 180h0m-15-71h0m68-15h0m-90-96h0m-4 148h0m-59-56h0m56 66h0m-38-21h0m25 20h0m26 27h0m-63-115h0m37 27h0m-34-35h0m20 86h0m1 17h0m51 10h0m-82-64h0m27-48h0m73 6h0m41-81h0m37 140h0m-22-47h0m-104-45h0m132 64h0m-160 23h0m151 25h0m-177-104h0m81-65h0m-86 99h0m65 32h0m-49-71h0m35 5h0m118 48h0m15-37h0m-158 0h0m-7 29h0m87 94h0m-30-15h0m41-171h0m-87 115h0m-11 8h0m163 28h0m-142-35h0m-34-63h0m37 100h0m84-29h0m-73 33h0m-15-124h0m110-19h0m52 108h0m-73-132h0m-56 145h0m46-147h0m-83 149h0m23 20h0m-8 4h0m8-159h0m-43 34h0m-9 30h0m96 125h0m28-4h0m-49-34h0m15-130h0m-79 84h0m163 12h0m-163-44h0m-8 34h0m26-83h0m165 40h0m-8 11h0m-30-74h0m-73 6h0m-19 176h0m34-187h0m75 40h0m-11 131h0m-129-153h0m138 2h0m-16 98h0m-82 39h0m1-17h0m-20-105h0m46-15h0m-88 70h0m-21-27h0m70-60h0m107 131h0m-67 16h0m-69-118h0m-5 86h0m126-111h0m-75 85h0m-10 96h0m47-183h0m65 123h0m-137 22h0m130-4h0m-63 43h0m-77-173h0m10 164h0m17-130h0m55 135h0m-52-181h0m-66 77h0m17-47h0m12 89h0m16 3h0m87 9h0m-69 54h0m-30-167h0m-25 45h0m44 91h0m-50-93h0m11-8h0m140 54h0m-17-12h0m-78-82h0m-21 139h0m9 12h0m68 3h0m-107-124h0m38-40h0m-21 83h0m109-80h0m-111 33h0m-4 100h0m163-95h0m-154 88h0m-21-85h0m47 118h0m-27-3h0m137-139h0m-145 14h0m1 57h0m157 6h0m-74 59h0m-89-131h0m185 18h0m-50 22h0m38 34h0m-80-43h0m-42 79h0m-39-85h0m-13 29h0m141-79h0m-115 143h0m127 20h0m-155-69h0m59 88h0m-32-110h0m5 86h0m-21-70h0m162 7h0m-176-47h0m14 105h0m67-161h0m-10 7h0m-51 106h0m53-118h0m-23 193h0m17 7h0m-51-169h0m-23 61h0m76-86h0m122 108h0m-183-9h0m25-67h0m50 78h0m-40-26h0m99 92h0m-104 1h0m-38-133h0m107 71h0m-84-72h0m67 138h0m-79-97h0m141-75h0m21 69h0m-154 6h0m62-80h0m4 47h0m-72-13h0m8 88h0m59-114h0m-75 136h0m146 25h0m-53 20h0m-46-53h0m132 4h0m-200-16h0m120-134h0m28 14h0m-97 127h0m50-156h0m-70 149h0m-23-68h0m7 77h0m133-112h0m-10 147h0m-47-141h0m-48 24h0m150 58h0m-131 31h0m38 39h0m-65-73h0m25-61h0m-26 61h0m72-126h0m-89 73h0m2 92h0m5-12h0m3-87h0m133-40h0m-12 6h0m-37-13h0m-75 34h0m38-15h0m22 158h0m-64-22h0m128-46h0m-93-105h0m-21 5h0m-13 103h0m66-125h0m-65 54h0m14 49h0m93-90h0m-55-11h0m-70 139h0m174-95h0m-47-31h0m52 42h0m-180 24h0m116 126h0m-33-192h0m-8-23h0m-33 185h0m21-47h0m-46-43h0m82 71h0m-59 10h0m84-21h0m-10 13h0m50-133h0m-44 20h0m-58-6h0m-57 77h0m24 70h0m-15-42h0m1-7h0m161-65h0m-121-16h0m-30-6h0m39-52h0m98 115h0m-48 87h0m-67-40h0m55 21h0m-21 20h0m-63-112h0m-16 64h0m184-36h0m-176-70h0m25 85h0m125 2h0m-113-90h0m20-43h0m108 111h0m0-55h0m-120 123h0m-53-60h0m52 25h0m37-138h0m-5 197h0m48-200h0m43 148h0m-113-123h0m74-9h0m10 33h0m-121 131h0m20-177h0m29 105h0m96 17h0m-35 63h0m-17 9h0m-35-33h0m25 17h0m-106-114h0m11 62h0m-3 11h0m61 33h0m-74-123h0m29 36h0m33 90h0m38-8h0m57-4h0m10 2h0m-15-117h0m-143-6h0m59-4h0m-47 15h0m130 125h0m8-18h0m-124-145h0m-7 56h0m-1 51h0m-10-95h0m32-16h0m2 20h0m73 111h0m19-36h0m-107-89h0m100 61h0m-72 76h0m-21-118h0m-3-13h0m-6 125h0m91 30h0m4-4h0m-11 11h0m-74-18h0m23 28h0m-52-130h0m149-11h0m-46 145h0m46-34h0m-111-154h0m-1 33h0m-49 58h0m166 12h0m-138 3h0m4-30h0m82-95h0m-97 36h0m17 5h0m80 147h0m-81-154h0m-17 54h0m170 30h0m-171 36h0m28 9h0m71-28h0m4-115h0m-135 89h0m34-67h0m26 103h0m-26 13h0m-31-45h0m71 65h0m138-100h0m-135-69h0m-59 111h0m112 12h0m-38 71h0m95-96h0m-58 74h0m67-26h0m-165 15h0m167-21h0m-106-45h0m-60-67h0m28 68h0m145 29h0m-194-5h0m67 18h0m60 30h0m-129-58h0m51 43h0m-40-86h0m60-70h0m28 130h0m-80-81h0m-18 84h0m157-84h0m38 44h0m1-8h0m-96-92h0m-83 160h0m72 42h0m98-99h0m-180 3h0m132-94h0m-114 22h0m96 154h0m-68-41h0m38 52h0m84-116h0m-17-30h0m23 116h0m-164-81h0m1-5h0m87-56h0m-84 92h0m-19-67h0m24 47h0m-25 59h0m69 17h0m-60-119h0m116-53h0m-74 19h0m7 55h0m13 80h0m69 29h0m-118-29h0m83-74h0m-97-26h0m74 149h0m55-8h0m-51-2h0m-32-178h0m-16 19h0m138 132h0m-154-128h0m70 160h0m-42-25h0m-55-44h0m75 71h0m-35-102h0m-23 2h0m14 70h0m-21-94h0m29-19h0m-14 104h0m112-129h0m13 10h0m-134 44h0m33 82h0m-14-72h0m93 97h0m-91-168h0m10 141h0m132-49h0m-91-21h0m-59 45h0m-29-67h0m135 114h0m-63-11h0m-23 6h0m-39-64h0m-7 22h0m100-145h0m-104 116h0m144 79h0m-101-127h0m-35 18h0m147 78h0m37-38h0m-107 29h0m-33-97h0m48 141h0m20-2h0m-75-67h0m152 9h0m-187-52h0m178-49h0m-100-27h0m97 165h0m-126-161h0m-12 21h0m3-10h0m-9 160h0m-10-63h0m27 25h0m-35-47h0m13 82h0m102-161h0m-109 96h0m29-106h0m116 45h0m-135 98h0m5-108h0m61-35h0m-25 24h0m95 35h0m-169 54h0m146-74h0m-118 90h0m18 31h0m44-89h0m-27 101h0m47 3h0m25 4h0m-38 8h0m-5-190h0m-41 9h0m-24 10h0m27 175h0m-46-121h0m2 58h0m-10-77h0m56-22h0m9 1h0m-34 44h0m-5 58h0m-20-53h0m-7-7h0m65-66h0m-26 30h0m91-37h0m53 129h0m-113-122h0m121 121h0m-172-91h0m107 160h0m-39-51h0m94 6h0m-144-68h0m-17 15h0m38 82h0m52-178h0m-73 18h0m93 12h0m-100 103h0m63 9h0m8-153h0m-108 98h0m163 62h0m-132-30h0m-5-88h0m71 141h0m-82-113h0m4 1h0m24 5h0m-21 27h0m93 64h0m-58 23h0m5-172h0m114 150h0m-104-95h0m-29 112h0m84-172h0m-91 59h0m-37 27h0m155-83h0m-45 114h0m-54 17h0m148-18h0m-188 22h0m14-108h0m18 6h0m92 133h0m36-18h0m-106-128h0m58 164h0m-13 11h0m-79-96h0m55 52h0m65-4h0m-6 33h0m-35-175h0m-109 97h0m6 6h0m12-67h0m44-46h0m142 103h0m-203 16h0m28 3h0m-24-83h0m74 141h0m18-33h0m-4 16h0m-23-170h0m84 179h0m-7-81h0m-137-29h0m37 110h0m-7-19h0m138-7h0m-32-130h0m46 105h0m-166-43h0m-23 3h0m2-35h0m45 96h0m-16-123h0m-26 97h0m152 57h0m-122-152h0m-23 47h0m188 15h0m-137 58h0m16 39h0m61-166h0m-111 132h0m9 18h0m13 4h0m-35-17h0m-1-81h0m96 111h0m-31-181h0m39-8h0m-70 163h0m-49-36h0m183-62h0m-11 43h0m-151-62h0m-8 89h0m-8-58h0m68 110h0m111-84h0m-113 101h0m-37-47h0m4-98h0m-4-13h0m-6 56h0m152-46h0m-137 13h0m-54 20h0m33-20h0m7 14h0m52 108h0m-45-171h0m143 144h0m21-97h0m-189 31h0m126 62h0m-47-32h0m91-34h0m-155 20h0m36-88h0m65 23h0m15 88h0m35 12h0m-171-21h0m78 68h0m-11-194h0m-59 112h0m3 17h0m146 17h0m-134-83h0m-25-2h0m-1 46h0m24-70h0m-7 130h0m114-53h0m-106-60h0m-19 94h0m158 14h0m-88-162h0m36 41h0m-110 47h0m42-37h0m115 6h0m-134 118h0m102-9h0m-11-38h0m-41 73h0m-46-94h0m-13 39h0m6-82h0m-2 31h0m-6-29h0m13 63h0m90-109h0m-83 136h0m20 34h0m-1-167h0m88 169h0m-14 1h0m-29 8h0m101-83h0m-152 29h0m-40-50h0m-20-9h0m8 6h0m32-75h0m14 133h0m118-49h0m-159-51h0m166 103h0m-140-130h0m-6 11h0m-15 34h0m92 131h0m-67-170h0m83-20h0m-124 59h0m69-67h0m-37 140h0m-28-44h0m201-40h0m-18 46h0m-60-95h0m-65 151h0m149-99h0m-117-57h0m-33 38h0m-33 75h0m102-123h0m-74 155h0m76 36h0m-4-7h0m-69-3h0m-29-140h0m-13 17h0m112-35h0m69 115h0m-160 23h0m9-25h0m32-57h0m107-35h0m-91 2h0m33 148h0m86-110h0m-122-1h0m-46 72h0m-48-59h0m82 67h0m-12 13h0m126-82h0m-164-2h0m12-54h0m9 144h0m53-142h0m-43-16h0m-5-15h0m4 177h0m53 17h0m-70-189h0m-27 136h0m43-132h0m19 164h0m8-13h0m120-27h0m-172-50h0m-9 36h0m-9 23h0m38-29h0m33-97h0m-68 20h0m74 161h0m-34-73h0m-39-90h0m142 86h0m-76-15h0m-27 38h0m-27-118h0m-7 85h0m26 22h0m-31-12h0m34-81h0m34-51h0m-87 123h0m92 84h0m-70-122h0m-1-35h0m52-33h0m64 13h0m8 161h0m-128-141h0m27 40h0m-4-60h0m118 40h0m-2-57h0m-97 50h0m-36 25h0m-1-8h0m13 33h0m-2-71h0m40 59h0m-47-27h0m51-71h0m8 178h0m37-181h0m32 23h0m-117 134h0m-24-95h0m28 9h0m147-10h0m-166 89h0m129 2h0m-142-48h0m117 93h0m7-12h0m-130-65h0m0 3h0m179-60h0m-158 107h0m96 25h0m6-119h0m48 59h0m-148 15h0m-17-94h0m64 75h0m-16-83h0m95 142h0m-132-91h0m-10-12h0m38-69h0m83 149h0m44-39h0m-172-27h0m45 60h0m31-144h0m-64 145h0m146-66h0m-24 61h0m-97-89h0m-2 91h0m-17 3h0m23-138h0m-26 26h0m31 132h0m-42-60h0m39-53h0m31 21h0m-48-36h0m-25 29h0m96 122h0m94-57h0m-11-57h0m-160 71h0m149-34h0m-77 73h0m32-56h0m-94-116h0m62-12h0m114 95h0m-124 91h0m-69-108h0m61 86h0m92-161h0m-48-5h0m2 147h0m38-148h0m-46-10h0m-24 193h0m-37-158h0m5 1h0m-38 55h0m78 113h0m-21-80h0m5 38h0m103-7h0m-146-63h0m122-75h0m-99 39h0m96 103h0m-124-116h0m-2 76h0m102 58h0m-77 22h0m-42-96h0m89 91h0m-13-190h0m-35 6h0m-50 120h0m42-69h0m34-30h0m-52 105h0m-2 15h0m-19-45h0m6-27h0m153 71h0m-134-64h0m97-40h0m-78 141h0m-26-43h0m-15-7h0m1-71h0m6 4h0m137-5h0m-76 132h0m66 4h0m-116-119h0m11 71h0m23-79h0m-6 98h0m-11-40h0m-30 29h0m45-39h0m8-100h0m9 132h0m7-156h0m-46 171h0m-35-77h0m163-37h0m-94 116h0m-60-51h0m9 22h0m-26-58h0m127-19h0m-91 92h0m146 10h0m-79-18h0m90-108h0m-164 19h0m-24 69h0m22 11h0m162-105h0m-139 88h0m14 53h0m4-140h0m80 147h0m-56-9h0m-53-153h0m46 151h0m-53-143h0m79 10h0m-100 86h0m9-48h0m21 54h0m-10 27h0m4-106h0m-34 44h0m50 60h0m38-133h0m103 32h0m-85 141h0m-47-32h0m-34-34h0m64-134h0m-51 67h0m17-45h0m143 104h0m-146-83h0m112 32h0m-34 89h0m29-149h0m-156 116h0m147-71h0m41-14h0m-130-8h0m-38 97h0m-6-69h0m16 87h0m62 18h0m48 11h0m-102-74h0m-28 21h0m19-45h0m-4 23h0m161-56h0m-33 120h0m-58-171h0m-32 182h0m116-18h0m-164-100h0m17 24h0m-9 27h0m70 71h0m114-78h0m-93-31h0m-68 96h0m-18-26h0m24-117h0m-32 118h0m11-116h0m-14 63h0m-12 7h0m156-87h0m-108 144h0m93 44h0m-111-150h0m-18 111h0m-15-44h0m78-93h0m-61 123h0m137-94h0m-65 124h0m19 9h0m-15-164h0m-21 159h0m55-71h0m-75-78h0m38 162h0m-67-30h0m-10-109h0m65 143h0m127-118h0m-175 90h0m159-7h0m-170-90h0m36 14h0m-6 97h0m71-44h0m-45-128h0m124 60h0m-203 20h0m34 33h0m11 50h0m75-104h0m-74-8h0m-15 68h0m2 16h0m9-126h0m59-23h0m53 179h0m20-122h0m15 51h0m-144 68h0m127-16h0m-157-67h0m24 64h0m11-22h0m149-58h0m-172 59h0m174-66h0m-172-19h0m115-20h0m-37 5h0m-15-9h0m-53 95h0m165-35h0m-23 54h0m-106 45h0m-36-139h0m60-14h0m-70 63h0m43-68h0m127 91h0m-112 5h0m93 31h0m-119-5h0m-15-125h0m-8 118h0m2 10h0m-32-36h0m129 73h0m-105-45h0m49-85h0m-50 79h0m-1-99h0m35 160h0m66-192h0m-118 86h0m35 69h0m-25-114h0m0 119h0m-6-32h0m-14-19h0m168 19h0m-143-10h0m35 57h0m124-79h0m-108 83h0m-2-121h0m-47 73h0m60-116h0m-76 95h0m153-44h0m-142-10h0m123 59h0m-21-123h0m71 136h0m-136-124h0m115 8h0m-84 173h0m12-104h0m-25 41h0m-5-102h0m59-19h0m-103 140h0m-4-33h0m25-97h0m-5 137h0m38 12h0m126-57h0m-69-100h0m-20 180h0m23-182h0m-63 166h0m-30-141h0m78-31h0m-47 189h0m15-163h0m-79 56h0m99 62h0m-108-15h0m12-96h0m143 17h0m-67 150h0m58-104h0m-84-79h0m-27 26h0m-29 27h0m163 97h0m-178-90h0m34 68h0m42 30h0m-30-24h0m96-135h0m-113 18h0m-20 98h0m5 16h0m12-117h0m-24 82h0m22-28h0m0 16h0m154-11h0m-65 117h0m45-80h0m-116 20h0m40 33h0m55-13h0m-101 9h0m-34-90h0m40 106h0m-1-39h0m51 50h0m18-8h0m-9-3h0m-52-68h0m62-85h0m-13-10h0m-62 123h0m17 4h0m62 28h0m29 2h0m-53 24h0m2-81h0m-60 1h0m-16 29h0m62-115h0m-36 97h0m134 26h0m-137-84h0m136-47h0m-73 72h0m-43-42h0m116 73h0m23-24h0m-192-27h0m26 92h0m-8-136h0m81 132h0m-46-27h0m13-144h0m-56 59h0m-5 21h0m116 94h0m-111-35h0m-3 2h0m19-112h0m47-26h0m38 195h0m-61-57h0m-9-95h0m104-26h0m-58 170h0m-94-55h0m81 48h0m-1-5h0m41-103h0m-97-48h0m85-23h0m-49-5h0m-46 152h0m141-37h0m-140-61h0m62-27h0m8 12h0m76 131h0m-138-142h0m54-21h0m-53 85h0m-13 39h0m46-123h0m-13 9h0m19 161h0m19-142h0m-61 8h0m76 21h0m13 51h0m-12 70h0m-95-91h0m176-63h0m-177 90h0m109 53h0m-17 4h0m-93-64h0m191 39h0m-70-126h0m-46 153h0m81-166h0m-151 79h0m99-6h0m90 59h0m-175-79h0m-2 8h0m81 112h0m-22-193h0m29 204h0m-72-184h0m126 164h0m-39-126h0m19-10h0m-68-4h0m-35 63h0m30 45h0m17 46h0m6-118h0m8 123h0m-12-14h0m100-33h0m-37 36h0m5-127h0m-146 61h0m144 48h0m21-136h0m-156 49h0m30 14h0m67-110h0m-45 20h0m83-1h0m-136 105h0m43 81h0m29-79h0m101 39h0m-124-78h0m76 115h0m-122-28h0m179-79h0m-119-72h0m-15 57h0m33-32h0m-14 161h0m-76-125h0m51 76h0m-43-66h0m30 78h0m105-135h0m-131 10h0m103 164h0m-45-192h0m76 63h0m-123 32h0m38-74h0m113 84h0m-157-17h0m-29 30h0m88-19h0m-58-65h0m24-5h0m11-37h0m-5 134h0m123 43h0m-83 25h0m10-22h0m-62 6h0m-32-67h0m147 44h0m-3-35h0m-103 43h0m-6-151h0m11-10h0m150 92h0m-90-108h0m-23 181h0m37-161h0m-36 5h0m-42 103h0m14-86h0m-41 97h0m126-122h0m-19 11h0m-43 174h0m104-145h0m-151 136h0m-48-121h0m83-67h0m-16 169h0m134-125h0m-2 56h0m-114 89h0m-28 2h0m-3-24h0m92-93h0m-62-76h0m2 28h0m35 170h0m-80-104h0m-15 59h0m-4-35h0m108-111h0m-92 156h0m21-128h0m52 131h0m93-75h0m-178-34h0m10 38h0m-1-56h0m90 40h0m-38-59h0m-71 63h0m119-49h0m-79-22h0m20 109h0m1-108h0m-61 135h0m-5-9h0m162 19h0m-149-108h0m127 8h0m-85 139h0m-33-38h0m167-112h0m-36 144h0m-125-67h0m110 72h0m-80-188h0m88 165h0m-93-116h0m1 115h0m123-130h0m-52 160h0m20-165h0m-130 94h0m16-47h0m77 0h0m-5 99h0m-107-72h0m23-49h0m-19 66h0m83-114h0m87 90h0m-20 8h0m-124-64h0m95 86h0m-103 23h0m35 29h0m56-164h0m-43 153h0m-25-34h0m-22-74h0m35-54h0m90 184h0m-66-11h0m-23-94h0m3-68h0m34 173h0m73-92h0m-146-53h0m-10 6h0m67 141h0m14-134h0m-13 132h0m-67-131h0m157 101h0m-148-2h0m59 39h0m91-86h0m-25-64h0m-107 113h0m116-102h0m-124 9h0m156 80h0m-77 47h0m-75-134h0m27 126h0m77-21h0m-124-62h0m-7 48h0m101 27h0m55-136h0m-131-5h0m1 105h0m117 28h0m-108-1h0m-19-53h0m171 12h0m-31-119h0m-36 162h0m-102-149h0m139 142h0m-104-156h0m-19 114h0m49-121h0m-68 104h0m136 65h0m-48 30h0m-78-86h0m20 74h0m22 2h0m88-132h0m-134 46h0m138 70h0m-64-155h0m-6 53h0m-93 62h0m91-53h0m30-68h0m-28 176h0m32-1h0m-99-132h0m131 88h0m-90-149h0m34 168h0m-54-127h0m-32 116h0m24 9h0m121 0h0m-4-47h0m-155-13h0m167 47h0m21-20h0m-32-74h0m2-15h0m-101 58h0m-14-93h0m106 31h0m-155 68h0m33 50h0m12-123h0m5 85h0m-9-108h0m34 178h0m-42-149h0m111 144h0m-63 10h0m72-152h0m-158 51h0m25 69h0m178-99h0m8 42h0m-35-80h0m-141 140h0m140-48h0m-152-61h0m17-8h0m105 129h0m32-141h0m-162 96h0m154-77h0m46 22h0m-191 4h0m5 34h0m111-36h0m-53-13h0m22-68h0m-99 131h0m183-55h0m-111 81h0m-46-4h0m1 3h0m170-19h0m-146-117h0m77 47h0m66 70h0m-141-94h0m-17 48h0m147 31h0m-168-11h0m83-90h0m46-14h0m-133 86h0m4 23h0m109-121h0m-73 183h0m133-91h0m-159-38h0m135 21h0m-46-58h0m-28 52h0m-53 103h0m-15-113h0m61 143h0m119-55h0m-180-88h0m17 86h0m79 51h0m-72-170h0m60 181h0m-25-194h0m-38 151h0m-41-38h0m134 63h0m-53-175h0m49 162h0m-40-38h0m-40 53h0m-43-58h0m21-13h0m-14-47h0m182 6h0m-180 77h0m83-122h0m-72 10h0m48-40h0m30 197h0m-98-151h0m23 117h0m82-43h0m-4 70h0m-32-52h0m71 36h0m-107-148h0m105 165h0m13-88h0m-145-65h0m14-13h0m149 101h0m-103-111h0m-28 44h0m-34-24h0m103 21h0m69-7h0m-153 21h0m175 11h0m-137 99h0m-43-20h0m105-78h0m-89 94h0m54-74h0m22-104h0m-107 86h0m66 8h0m-61-39h0m-8 10h0m22 70h0m-18-75h0m144-8h0m17 117h0m-166-94h0m46-6h0m42 137h0m-63-18h0m18-3h0m-23-55h0m-18 11h0m6-92h0m23 137h0m-22-92h0m10 6h0m-22-42h0m168 100h0m-94 3h0m4 33h0m-23-9h0m43-184h0m97 83h0m-11 76h0m-48 26h0m-85 12h0m137-129h0m-153 45h0m3-88h0m5 114h0m145-53h0m-38-68h0m-151 118h0m14 28h0m160-12h0m-166-98h0m35 106h0m127 8h0m-11 0h0m-11-152h0m-148 50h0m66 126h0m74-164h0m-132 83h0m-1-38h0m83-69h0m-6 176h0m-66-24h0m31 37h0m-47-81h0m195 40h0m-93 38h0m-84-42h0m136-132h0m-60-1h0m-47 167h0m73-138h0m-43 135h0m-10-125h0m-44 9h0m11 115h0m132-80h0m-118 61h0m39 5h0m-10 34h0m-48-61h0m36 38h0m-59-106h0m80 135h0m-37-197h0m22 186h0m44-12h0m-74 20h0m142-69h0m-10 7h0m-118-126h0m83 4h0m-32-16h0m-53 1h0m142 63h0m-97 106h0m69-6h0m-125-10h0m-34-41h0m57-107h0m-81 82h0m25-35h0m95 100h0m-60-21h0m41 5h0m89-12h0m-33-115h0m-12 18h0m-129 50h0m14-7h0m116-73h0m1 21h0m-109 135h0m107 32h0m-69-18h0m94-30h0m-7-104h0m-99 132h0m-13 18h0m72-170h0m-86 146h0m-29-94h0m-3 22h0m13 45h0m55-83h0m108 14h0m-99-56h0m-68 135h0m134 53h0m-140-45h0m103 17h0m101-76h0m-184 73h0m-9-33h0m122 68h0m25-154h0m20 99h0m-151-110h0m-27 57h0m61 104h0m-43-70h0m31 52h0m62-179h0m-26 6h0m-57 22h0m164 80h0m-112 81h0m-38-4h0m14 4h0m20 10h0m40-161h0m55 45h0m2-1h0m-75 126h0m-62-51h0m126-141h0m-53 162h0m-53-28h0m89 15h0m-96 4h0m143-91h0m-158 1h0m77-35h0m15 14h0m-85 58h0m-44-6h0m168 30h0m-152-56h0m48 86h0m-45-112h0m83-35h0m23 152h0m58-129h0m-156 0h0m25 104h0m84 39h0m-108-137h0m-7 48h0m29 59h0m54 36h0m-26-163h0m43 173h0m-87-113h0m64 100h0m-26 11h0m33 0h0m-54-173h0m138 40h0m-156 0h0m9-28h0m83 126h0m-104-35h0m73-97h0m-21-10h0m71-7h0m-114 130h0m-5-37h0m20-59h0m-21-11h0m-4 93h0m125-100h0m-96 30h0m127 109h0m-97-133h0m127 52h0m-177-7h0m22 96h0m-39-56h0m50 63h0m5-3h0m-4 8h0m-3-146h0m-53 70h0m35 25h0m14-124h0m41 28h0m-19-25h0m-31-8h0m-24 55h0m-17 67h0m29-53h0m-16-25h0m71 56h0m104-17h0m-158 23h0m-32-20h0m18-21h0m16 77h0m-37-57h0m65-82h0m82 147h0m-134-113h0m187 49h0m-72 19h0m55-4h0m-157-85h0m21 116h0m35 45h0m-76-91h0m1-28h0m179 0h0m-126 87h0m-20-19h0m56 60h0m6-3h0m-81-31h0m73 38h0m8 2h0m-86-149h0m106-45h0m-35 188h0m67-154h0m-65-16h0m43 93h0m-118-10h0m34 50h0m-30-125h0m-17 55h0m36-70h0m20-14h0m-10 133h0m-32-18h0m17-92h0m-13 69h0m3-23h0m-1 7h0m3 82h0m82-6h0m-89-35h0m24 31h0m28-64h0m35-62h0m69 149h0m-161-45h0m126 63h0m-130-55h0m16-30h0m15-85h0m105 172h0m-103-170h0m37 8h0m21-25h0m-16 187h0m15-194h0m1 120h0m106-33h0m-197 7h0m155-84h0m31 53h0m-137 108h0m31-157h0m-39 123h0m93 18h0m-117-71h0m-12 5h0m11-56h0m58 11h0m92 130h0m-145-87h0m78 76h0m-89-72h0m171-6h0m-94 109h0m-57-76h0m-16 37h0m119 34h0m-25-192h0m-45 198h0m5 8h0m-13-142h0m-63 33h0m35 54h0m115-54h0m-95 88h0m139-132h0m-81-34h0m-35 177h0m118-73h0m-73-77h0m-95-6h0m177 39h0m-164-52h0m62 167h0m73-132h0m-164 5h0m129-67h0m-16 22h0m-108 19h0m67 122h0m-56-117h0m101 16h0m-44-59h0m26 184h0m-68-23h0m-15-36h0m160 35h0m-11-22h0m-151 6h0m167-32h0m-183-6h0m0 14h0m53 38h0m37 13h0m-35-1h0m87 20h0m-144-129h0m52 125h0m86-120h0m-122 27h0m-4-3h0m-9 44h0m8-93h0m86 147h0m99-47h0m-138 53h0m-5-190h0m-33 123h0m6-85h0m142 1h0m-148 126h0m-9-108h0m74 108h0m19-138h0m-79-8h0m10 12h0m5 137h0m-24-105h0m7 28h0m17 78h0m55 14h0m62-20h0m37-58h0m-58 94h0m-28-67h0m-100-89h0m134 111h0m-108-136h0m26 160h0m11 19h0m-16-35h0m-6 14h0m60 5h0m55-167h0m-156 109h0m25 34h0m84-112h0m-56 71h0m-51-81h0m126-27h0m34 83h0m-166 12h0m108 78h0m-89-97h0m30 72h0m32-154h0m-29 178h0m-18-143h0m94 158h0m-47-28h0m-79-89h0m126 70h0m-74-107h0m-4 33h0m82 45h0m-124 38h0m110-158h0m-50 53h0m12-57h0m-39 180h0m122-16h0m-72 40h0m88-123h0m-146 88h0m74-165h0m-84 72h0m142 84h0m-50 28h0m39-64h0m14-11h0m-160-25h0m14-62h0m-10 70h0m30 50h0m79-24h0m43 10h0m-55-137h0m-24 197h0m-64-97h0m-14 5h0m-9-9h0m63-42h0m-33 17h0m80-41h0m46 135h0m-44-126h0m-110 43h0m30 78h0m145-83h0m-82 96h0m-60-60h0m-30 37h0m176-99h0m-142 74h0m-13-84h0m-11 103h0m132 7h0m49-68h0m-52-50h0m-50 174h0m98-147h0m-72 105h0m-110-24h0m-3-65h0m-13 36h0m23-14h0m87 99h0m11-57h0m-75-113h0m-30 101h0m-5 25h0m163 15h0m-177-87h0m131 108h0m-102-47h0m12-59h0m-17-24h0m137 99h0m-130-20h0m-25-9h0m56-101h0m-29 101h0m105-91h0m-94 104h0m1-81h0m123 95h0m-77 1h0m-65-9h0m162-76h0m-22 85h0m-165-71h0m129-45h0m25 83h0m-111-13h0m7 47h0m-10 8h0m-14-8h0m112 43h0m-102-145h0m85-18h0m-90 142h0m-13-14h0m101-118h0m-71 17h0m-32 39h0m16-42h0m137 67h0m-149-41h0m54 89h0m-11 6h0m89-139h0m33 41h0m-152 68h0m158-15h0m-26-95h0m-143 112h0m65 11h0m-35-136h0m124 133h0m-107 32h0m51-7h0m-88-26h0m152-55h0m-153 37h0m109 34h0m-108-137h0m18 108h0m96 29h0m-7-67h0m-34 61h0m-77-116h0m38-22h0m68 166h0m-86-182h0m-6-1h0m-35 73h0m22 96h0m-3-42h0m44-136h0m16 15h0m-53-3h0m81-12h0m-96 155h0m4-16h0m29 19h0m26 29h0m-39-118h0m125 92h0m-115-81h0m-22-35h0m62-60h0m-52 68h0m154 83h0m-149 35h0m63-175h0m-84 129h0m176-78h0m-162 70h0m0-64h0m-4 27h0m-22 12h0m148 77h0m-138-52h0m53 36h0m-19-133h0m-8 93h0m54 87h0m72-36h0m18-117h0m-180-3h0m193 26h0m-154 108h0m111-161h0m-160 88h0m1 12h0m23 30h0m0-63h0m-18 6h0m43 78h0m-47-96h0m50 115h0m50-10h0m-42 13h0m-45-96h0m18-31h0m-33 55h0m193 39h0m-162-116h0m-19 37h0m44-33h0m-29-28h0m20 30h0m1 10h0m31 39h0m-44 80h0m36-15h0m8-159h0m-65 108h0m67-115h0m-78 80h0m137-44h0m-134 44h0m5 72h0m53-128h0m51 178h0m33-99h0m47 34h0m-123-127h0m-12 119h0m-38 28h0m6-112h0m11 103h0m-24-57h0m-9 52h0m91-118h0m107 112h0m-75-137h0m-49 18h0m66 56h0m47 57h0m-133-119h0m-6 148h0m-4-30h0m137-64h0m-18-33h0m-124-11h0m114 15h0m-119 89h0m49-55h0m80-27h0m-125 24h0m55 114h0m-71-23h0m2-10h0m107 39h0m-136-121h0m43 7h0m-21-25h0m-22 49h0m28-73h0m-15 53h0m0 49h0m-3 8h0m88 58h0m-76-130h0m-7-7h0m32 87h0m-24 24h0m20-118h0m122 109h0m-127-8h0m-39-47h0m84-74h0m-39 142h0m37 28h0m-62-57h0m184-58h0m-112 20h0m-3 87h0m-62-164h0m102 128h0m74-83h0m-159-44h0m1 84h0m40-117h0m-26 184h0m107-104h0m-62 123h0m-99-113h0m34 93h0m105-10h0m-124-42h0m118-120h0m-106 23h0m97 120h0m-108 16h0m38 22h0m-8-179h0m-6 92h0m-34 1h0m154 32h0m-65 46h0m-89-89h0m68 101h0m-52-95h0m116-18h0m-30-55h0m-19-8h0m86 50h0m-20 85h0m-137 17h0m-7-58h0m44 63h0m44-152h0m-65 127h0m40-138h0m-75 106h0m34 52h0m-22-57h0m5-30h0m18 50h0m99 67h0m-96-155h0m-21 34h0m-8-28h0m99 134h0m-5-32h0m-42 29h0m51-14h0m61-39h0m-33-116h0m-127 143h0m175-77h0m-163 84h0m16-62h0m111 68h0m-85-16h0m43 16h0m-62-143h0m11 168h0m-16-14h0m16-90h0m79-77h0m-63 177h0m-13-13h0m-60-123h0m94 50h0m-87-35h0m12 26h0m12-44h0m-8 102h0m-29-56h0m3-16h0m84-76h0m86 47h0m-162 9h0m60-31h0m-51 74h0m49 52h0m53-132h0m-70 28h0m-28 23h0m-15 53h0m179-21h0m-55-110h0m-104 41h0m7 44h0m22 109h0m91-174h0m-103 158h0m6-3h0m60 19h0m-92-148h0m146 24h0m7 72h0m-53 67h0m-98-120h0m22-32h0m-9 98h0m158-94h0m-110-57h0m63 40h0m-125 9h0m57-25h0m134 96h0m-197-56h0m92-38h0m-99 94h0m191 15h0m-183 14h0m106-134h0m-63 31h0m-35 81h0m9-104h0m4 30h0m142 16h0m-87 127h0m72-26h0m-29-145h0m-97 29h0m-7 69h0m0-17h0m33 54h0m-54-25h0m63 67h0m58-195h0m-58-7h0m54 60h0m-85 84h0m-37-5h0m-10-46h0m108 104h0m92-65h0m-192 1h0m98-130h0m-78 157h0m23-119h0m100 153h0m-118-160h0m-25 93h0m11-13h0m56-96h0m14 153h0m15 42h0m-52-48h0m60-2h0m-71-123h0m17 147h0m-41-128h0m119-49h0m-96 139h0m-27-20h0m73 10h0m127-40h0m-171-77h0m125 111h0m41-83h0m-58-12h0m-119 25h0m-29 28h0m42 69h0m14 6h0m7-131h0m-28 126h0m-6-132h0m116-10h0m-139 64h0m5 43h0m173 17h0m-157-72h0m99 120h0m-47-182h0m119 156h0m-166-124h0m158 2h0m-107 48h0m67 102h0m-4-171h0m-74 174h0m-24-176h0m85 1h0m-90 125h0m-32-35h0m116-2h0m-63 54h0m40 12h0m-55-40h0m-7-106h0m18 112h0m32-127h0m-41 174h0m111-34h0m-41 16h0m-67-149h0m7 144h0m114-139h0m-157 40h0m-14 49h0m52 67h0m131-132h0m-135 30h0m44 94h0m15 32h0m-59-171h0m6 134h0m12 27h0m67-44h0m-100-64h0m107 109h0m-133-92h0m34-78h0m-28 42h0m78 129h0m-36-5h0m-14-75h0m25 63h0m98-120h0m-122 109h0m142-73h0m9 13h0m-65 94h0m-91-186h0m-31 110h0m175-85h0m-155 118h0m13 9h0m-31-109h0m115 102h0m-87-40h0m82 39h0m-38-14h0m23-134h0m54 19h0m-95 143h0m-37-27h0m11-10h0m-15 15h0m132-50h0m-86 89h0m22-3h0m-84-87h0m171 43h0m-60-131h0m-21 180h0m-44-48h0m34 56h0m-65-156h0m46-6h0m79-33h0m-54 158h0m-42-16h0m117 31h0m-12-112h0m51 16h0m-205 0h0m192 19h0m-179 29h0m11-36h0m100-83h0m-105 78h0m111-94h0m22 53h0m-146 83h0m178-14h0m-175-23h0m-5 8h0m1-28h0m182 80h0m-143-68h0m27-65h0m93 104h0m-93-41h0m117 44h0m-97 57h0m-53-138h0m89-37h0m-49 22h0m-39 126h0m24-128h0m13 109h0m-24-117h0m87 158h0m-74-178h0m-17 172h0m-19-18h0m-30-65h0m160 79h0m-95 6h0m94-38h0m-99-73h0m8 7h0m-5 125h0m-19-47h0m16-49h0m28-64h0m41 165h0m-88-124h0m-12 41h0m87 79h0m-15-11h0m-84-131h0m141 61h0m-32-71h0m-115 68h0m27-89h0m20 109h0m-30-78h0m4 7h0m10 99h0m25-3h0m3-152h0m-24 59h0m-9 76h0m-5-63h0m45 91h0m-31-93h0m15 116h0m15-32h0m-51-13h0m70-96h0m-71 104h0" stroke="#d66fdb" stroke-width="3.8" stroke-linecap="round" fill="none"/>
<path transform="scale(.5)" d="M1220 88h0m-90 132h0m-41-109h0m17 108h0m100-138h0m-98 48h0m-7 40h0m-9-8h0m-10-13h0m78-87h0m-59 153h0m50 3h0m99-45h0m-145 2h0m32 55h0m-52-90h0m88 116h0m-33-10h0m-10-56h0m79 29h0m-99-21h0m180-59h0m-161-39h0m1-16h0m120 129h0m-170-66h0m27 69h0m-15-123h0m76 52h0m-75 24h0m110-114h0m-99 138h0m-17-10h0m35-102h0m3 2h0m142 72h0m-37 16h0m8-37h0m-155 26h0m128-96h0m46 23h0m-80 169h0m17-5h0m-115-70h0m179 6h0m-161 25h0m-1-69h0m66 66h0m66 16h0m-60 18h0m-45-42h0m18 32h0m10 4h0m55 5h0m-112-63h0m45-92h0m-56 98h0m59-118h0m-31 14h0m66 11h0m-49-27h0m-14 78h0m142 0h0m-140-73h0m-21 64h0m24-1h0m-27 64h0m191-17h0m-189 29h0m104 46h0m7-158h0m-18 36h0m96 9h0m-106-42h0m-43 2h0m-52 89h0m180-41h0m-11 51h0m-17-113h0m-110 65h0m50 38h0m23 52h0m-98-126h0m5 97h0m46 12h0m34-180h0m-30 7h0m-42 125h0m-22-72h0m154 133h0m-142-159h0m-25 45h0m32 49h0m98 41h0m13-50h0m1 70h0m-124-150h0m111 142h0m-102-27h0m180-47h0m-64 48h0m-76 17h0m3-100h0m-22 95h0m2 15h0m69-174h0m-89 111h0m110 70h0m-115-86h0m20 59h0m4-137h0m-7 24h0m-17 37h0m-20 8h0m27-21h0m33 109h0m-37-5h0m168-42h0m-112 69h0m-36-121h0m-26-1h0m15 86h0m-5-14h0m-16-70h0m181 4h0m-13-35h0m-185 46h0m152 70h0m-105-74h0m-13-16h0m154 22h0m-183-30h0m16 63h0m3-70h0m38-36h0m82 160h0m-39-17h0m43-89h0m-73 81h0m10 7h0m98-116h0m-3 110h0m-164-105h0m-8 29h0m70 80h0m-66-58h0m-14-5h0m63 89h0m123-46h0m-18-99h0m-150 107h0m55-129h0m8-24h0m-67 96h0m73 106h0m-13-28h0m52-146h0m48 131h0m-101-139h0m-41 66h0m-2-23h0m3 113h0m57 19h0m-15 4h0m-36-129h0m71 54h0m-38-114h0m-36 50h0m-23 82h0m188 12h0m8-63h0m-147 77h0m-12-139h0m-9 131h0m160-77h0m-163 39h0m-22-5h0m-13-32h0m45 55h0m147-2h0m-172 4h0m32-94h0m132-14h0m-89-27h0m-45 161h0m-35-107h0m136 126h0m-107-55h0m64 55h0m-105-69h0m17 25h0m21-95h0m10 147h0m-32-135h0m9 92h0m17-4h0m44-146h0m-61 120h0m90 8h0m-31 60h0m7 4h0m-78-97h0m54 15h0m-37 68h0m11-144h0m17 114h0m-54-2h0m10-69h0m31-59h0m101 2h0m-58 10h0m-74 51h0m1 65h0m13-42h0m127 76h0m-40-178h0m49 22h0m-111 167h0m38-125h0m-93 32h0m38-7h0m91 83h0m-85-78h0m-20-32h0m20 93h0m-26-116h0m86 156h0m-79-50h0m29-88h0m4-45h0m-11 75h0m1-1h0m-20 23h0m135-56h0m-121-25h0m108-1h0m-35-14h0m-80 106h0m-33-15h0m69 45h0m-65-75h0m33 94h0m132-84h0m-163-1h0m30-61h0m49 73h0m55-77h0m-5 8h0m-142 50h0m103 105h0m-21-173h0m21 74h0m-25-90h0m-37 153h0m17-120h0m139 50h0m-144-38h0m-33 3h0m99 152h0m-39 3h0m-29-179h0m56 149h0m-86-43h0m15 55h0m76-175h0m-95 109h0m-4 29h0m53 26h0m21-159h0m-75 71h0m43-63h0m24 140h0m-46-28h0m21 33h0m73-160h0m57 97h0m-138 65h0m37 31h0m17-193h0m-6 145h0m-65-31h0m76 91h0m-39-163h0m70 111h0m-25-37h0m-72-30h0m44 82h0m41-134h0m-63-4h0m30 159h0m-85-92h0m66-88h0m4 185h0m-37-129h0m-20-3h0m20-33h0m6 154h0m142-58h0m-175-3h0m3 21h0m25 34h0m16-30h0m11-131h0m25 39h0m-33 98h0m-26-127h0m145 114h0m-65 48h0m-70-56h0m46-122h0m109 72h0m-150-60h0m91 34h0m-82-53h0m100 9h0m-132 74h0m-27 5h0m109-69h0m-21-15h0m-35 178h0m110-30h0m-124-9h0m-36-39h0m15 22h0m22-58h0m-12-34h0m58-32h0m-3 172h0m-67-57h0m82-40h0m41 62h0m36-121h0m-56 87h0m11-27h0m-102-36h0m41-46h0m84 2h0m-24 13h0m13 141h0m-129-27h0m85-109h0m-38 84h0m20-100h0m-5 193h0m117-166h0m-83-26h0m-63 149h0m-37-84h0m106 57h0m-82 2h0m-1-42h0m13-52h0m31 162h0m-34-42h0m-24-89h0m-12 12h0m95 85h0m-68 10h0m-21-58h0m66-108h0m73 170h0m-99-159h0m-53 92h0m41-58h0m133 107h0m14-88h0m-92 89h0m29-142h0m-6 110h0m42 33h0m-65-156h0m40 188h0m48-100h0m27 8h0m-192 30h0m25-100h0m34-2h0m92 150h0m-148-71h0m-2 20h0m144 12h0m-151 0h0m2-63h0m45 100h0m110-103h0m-129 94h0m159-97h0m-53 25h0m-84-92h0m93 166h0m-38 29h0m-2-199h0m65 30h0m13 118h0m-7-108h0m-103 126h0m16-167h0m2 122h0m-77-77h0m8-2h0m-15 36h0m111 114h0m-43-121h0m-77 35h0m17-8h0m113 81h0m-93-166h0m-32 97h0m43 65h0m134-30h0m6-28h0m-126 10h0m119-55h0m-78 123h0m-100-133h0m143-39h0m52 108h0m-71 65h0m-91-171h0m45 74h0m-81-11h0m29 42h0m-16-66h0m140 54h0m-108-104h0m-18 129h0m136-109h0m-144 71h0m129-26h0m38 34h0m-33-99h0m-115 143h0m-28-49h0m70-107h0m118 114h0m-158-76h0m52 19h0m-64 75h0m130 47h0m-19-165h0m-131 49h0m143-47h0m-12 6h0m-114 28h0m-5 92h0m162-72h0m-14 41h0m-115 47h0m-45-7h0m184-36h0m-151 15h0m140-20h0m-89 92h0m91-52h0m-113-123h0m21 139h0m-12 9h0m-45-87h0m123-37h0m7 112h0m-131-89h0m-1 51h0m22-111h0m-13 6h0m-2 131h0m95 26h0m-92-141h0m-1-7h0m-18 120h0m-32-45h0m130 23h0m68 17h0m-120-2h0m60 30h0m-110-122h0m177 44h0m1-8h0m-96-92h0m87 103h0m-180 3h0m168-23h0m6 86h0m-163-86h0m87-56h0m-79 72h0m115 87h0m-118-145h0m48 162h0m53-7h0m-128-119h0m51-20h0m36-47h0m-41 25h0m-16 87h0m-2-5h0m29-106h0m22 24h0m-28 136h0m64 15h0m25 4h0m-135-128h0m38-15h0m142 115h0m-144-68h0m56 61h0m-74-111h0m71 141h0m-78-112h0m96 96h0m-53-149h0m114 150h0m-104-95h0m-25-24h0m22-13h0m-64 82h0m6 6h0m56-113h0m-61 119h0m28 3h0m118-31h0m-1-75h0m-141 30h0m77 134h0m-30-25h0m-11-104h0m-12 55h0m-20 14h0m-3-19h0m164 55h0m-5-105h0m-134 118h0m50 26h0m-55-106h0m7 34h0m7 27h0m107 36h0m-43 9h0m-51-54h0m-60-59h0m8 6h0m32-75h0m139 136h0m-116-112h0m137 90h0m-70 56h0m-82-39h0m-48-59h0m70 80h0m126-82h0m-152-56h0m62 2h0m-48-31h0m57 194h0m-54-70h0m-39-90h0m66 71h0m-35 27h0m-31-12h0m34-81h0m-27 23h0m-13-12h0m113 14h0m5 91h0m-116-5h0m146-66h0m-24 61h0m-108-103h0m-25 29h0m73 98h0m44-166h0m2 147h0m-64-122h0m24 126h0m103-7h0m-179-25h0m42-69h0m-18 75h0m4-50h0m-22 51h0m7-67h0m137-5h0m-98 107h0m-41-11h0m53-139h0m120 19h0m-4-6h0m-121 1h0m80 147h0m-56-9h0m107-52h0m-146-83h0m112 32h0m-34 89h0m61-118h0m-130-8h0m-29 46h0m157-33h0m21 57h0m-161 65h0m-29-78h0m-15 25h0m93-95h0m-80 33h0m192 25h0m-175 90h0m169-98h0m-22 67h0m-142-94h0m60-14h0m-38 117h0m-21 3h0m91-145h0m-128 109h0m124-117h0m71 136h0m-115 56h0m35-45h0m-46-127h0m107 150h0m-102 8h0m37 32h0m-34-163h0m97-8h0m-116 30h0m-27 114h0m40-175h0m-56 59h0m-5 21h0m2 61h0m34-95h0m-24-19h0m36-28h0m101 170h0m-104-162h0m122 24h0m-177 90h0m158 57h0m-143-97h0m30 14h0m22-90h0m-53 104h0m173 41h0m-170 9h0m64 35h0m-76-125h0m8 10h0m4-47h0m11 67h0m-6-7h0m59 11h0m-58-65h0m24-5h0m6 97h0m40 68h0m-52-16h0m115-23h0m-6-152h0m42 88h0m-163-7h0m-1-56h0m41 82h0m75-63h0m-85 139h0m83-1h0m-142-85h0m23-49h0m90-40h0m-68 119h0m103 56h0m-86-173h0m-49 34h0m67 141h0m91-32h0m-130 0h0m-8-93h0m79 127h0m-76-52h0m117 28h0m-60-169h0m-68 104h0m10 9h0m20 74h0m72-175h0m36 131h0m-90-149h0m-20 41h0m-32 116h0m24 9h0m121 0h0m-3-107h0m-162 49h0m33 50h0m12-123h0m-12 6h0m-38 53h0m25 69h0m15-114h0m137-12h0m-90 30h0m-77 63h0m72 26h0m-54-103h0m0 0h0m96 137h0m18-7h0m-53-175h0m9 124h0m9-104h0m-24-30h0m30 197h0m-78-172h0m149 101h0m-46-44h0m-35 20h0m-80-10h0m43 91h0m129-25h0m-141-20h0m-44-73h0m8 45h0m82-107h0m-41 189h0m55-3h0m52-174h0m-107 166h0m30-3h0m-10-125h0m-2 121h0m21 29h0m-37-197h0m66 174h0m58-42h0m-6 26h0m-63-11h0m-19-16h0m89-12h0m-160-54h0m58 117h0m-4 10h0m33-21h0m83-100h0m-195 32h0m64 60h0m119-124h0m-156 0h0m23 113h0m22 44h0m-42-54h0m-10-14h0m31 47h0m46-135h0m97 50h0m7 3h0m-72 19h0m-122-19h0m116-88h0m32 34h0m-22 77h0m-84 40h0m58-2h0m-98-18h0m21-50h0m-11 4h0m77 103h0m-73-39h0m-22-61h0m194-44h0m2 70h0m-55-123h0m-113 46h0m101 16h0m17 7h0m58 75h0m-170-99h0m-6 127h0m15-134h0m5 137h0m68-36h0m-37 65h0m-10-81h0m-5 64h0m16-128h0m95 107h0m-72 40h0m16-200h0m58 156h0m-50 28h0m-103-92h0m30 50h0m-9-38h0m133 55h0m-46 21h0m37-33h0m20-84h0m-147 94h0m-14-8h0m10-102h0m-18 110h0m14-104h0m1 91h0m132-110h0m-78 123h0m89-3h0m-144-1h0m108 16h0m-90-29h0m-43-59h0m41-2h0m-22-35h0m170 2h0m-166 33h0m14 33h0m157-43h0m-151 117h0m-52-69h0m12-40h0m44-33h0m-28-5h0m52-27h0m-26 142h0m115-116h0m-168 54h0m98 95h0m67-35h0m-166-55h0m44-75h0m122 47h0m-146 51h0m118-120h0m-106 23h0m62-14h0m10 5h0m-91 28h0m94 102h0m-90 3h0m97 13h0m-51 25h0m79-181h0m-63 177h0m-54-95h0m12-44h0m32 105h0m53-132h0m-70 28h0m-23-14h0m144 101h0m-138 13h0m-20-87h0m92-38h0m-91 123h0m15-26h0m33 37h0m-54-25h0m63-135h0m-78 93h0m108 104h0m43-3h0m-76-176h0m29 195h0m-63-173h0m-1 109h0m46-10h0m81-6h0m-17-95h0m-119-9h0m155 114h0m-157-72h0m123 122h0m-108-164h0m120 125h0m-144-88h0m34-31h0m-7-8h0m-28 42h0m29 101h0m142-73h0m-133 50h0m34 56h0m-19-162h0m25 125h0m101-62h0m-179 29h0m11-36h0m106-99h0m-121 99h0m62-73h0m117 107h0m-110-96h0m-49 124h0m35 20h0m-2 21h0m-34-78h0m87 79h0m10-152h0m-68 88h0m-30-78h0m4 7h0m35 96h0m-30-17h0m24 51h0m-36-45h0m70-96h0" stroke="#a448b6" stroke-width="3.2" stroke-linecap="round" fill="none" opacity="0.45"/>
<circle cx="590" cy="74.4" r="53" fill="none" stroke="#2f8a3c" stroke-width="1.1"/>
<circle cx="590.4" cy="75" r="27" fill="none" stroke="#2379b6" stroke-width="1.05"/>
<text x="590.4" y="9.8" text-anchor="middle" font-family="Liberation Sans, sans-serif" font-weight="bold" font-size="11.4" fill="#111">5bp Tail</text>
<path transform="scale(.5)" d="M950 522h0m48-91h0m-42-102h0m-156 103h0m77 61h0m62-171h0m23 11h0m-130 41h0m21 132h0m-30-107h0m41 88h0m150-61h0m-146-74h0m8 113h0m52 62h0m51-89h0m-178-47h0m128-34h0m-71-20h0m123 45h0m-41-38h0m0 90h0m46-10h0m-150 9h0m114-83h0m-103-9h0m3 71h0m62-68h0m47-14h0m-101 6h0m-25 51h0m6 104h0m171-77h0m-51 0h0m-25 37h0m-10 42h0m-21-84h0m-20-78h0m87 8h0m-46 1h0m-105 126h0m161-92h0m-92-25h0m-25 125h0m138 7h0m-50-153h0m5 153h0m-46 26h0m-5-186h0m-91 62h0m-9 45h0m25-78h0m95-13h0m-18 0h0m78 22h0m-45 144h0m13-145h0m-138 25h0m16-25h0m82 158h0m-52-113h0m66-63h0m60 146h0m-164-126h0m-6 13h0m167-7h0m-13-4h0m-69-44h0m70 64h0m-52-60h0m-72 77h0m153 2h0m-190 34h0m17-84h0m158 43h0m-11-52h0m-23 29h0m-65 97h0m108-29h0m-174 3h0m90 30h0m101-39h0m-183 25h0m20-84h0m-40 83h0m13-99h0m160 108h0m-102 55h0m-23-116h0m128 0h0m-165-31h0m166 105h0m-1-125h0m-145 57h0m10 84h0m17 5h0m122-129h0m-109-38h0m80 65h0m-119 69h0m11 19h0m52-153h0m40 145h0m43-101h0m-19-29h0m-79-3h0m-22 11h0m129 102h0m-28-106h0m-110-11h0m17 153h0m-8 22h0m113-159h0m-105-17h0m-30 104h0m153-54h0m-163 12h0m150-3h0m-172 22h0m40-27h0m66 126h0m-33 1h0m56-80h0m23-74h0m22 124h0m-65 30h0m3-203h0m-123 121h0m29-88h0m156 24h0m-76 39h0m-18 99h0m-34-165h0m155 94h0m-55 63h0m-130-127h0m33-52h0m113 107h0m-103-110h0m-6 7h0m-11 27h0m35-9h0m61-5h0m-104 154h0m66 25h0m90-122h0m-60-1h0m64 26h0m-125 8h0m-76 8h0m109-112h0m-82 71h0m-9 16h0m20-31h0m-26 43h0m56 92h0m91-14h0m-115-171h0m-2 157h0m12 24h0m52 14h0m65-183h0m-166 81h0m23-13h0m148-40h0m-14 133h0m-114-70h0m-16-97h0m35 12h0m103 12h0m-37-15h0m-129 30h0m27-10h0m46-38h0m-21 156h0m-5-129h0m35-41h0m31 62h0m50 38h0m-131-68h0m27-28h0m105 43h0m18 99h0m-111 56h0m118-45h0m-30-104h0m-95-32h0m-58 109h0m99 72h0m-56-3h0m-8-177h0m-48 98h0m111 84h0m-8-198h0m-64 21h0m159 36h0m-80-61h0m-30 29h0m42 173h0m-76-51h0m-8 11h0m91-163h0m-127 72h0m55-15h0m109 121h0m32-65h0m-47-81h0m-99 166h0m-40-161h0m139-8h0m11 161h0m19-44h0m-161-105h0m154 139h0m-86 36h0m102-179h0m-125-20h0m-1 27h0m-63 53h0m38 47h0m17 56h0m52-182h0m-62 5h0m112 150h0m-111 7h0m141-123h0m1 24h0m1-23h0m-111-49h0m90 32h0m-33-19h0m22-3h0m39 60h0m-18-1h0m-28-48h0m-47-3h0m-12 84h0m-51 29h0m122 33h0m-119-49h0m154-45h0m1 35h0m-16-6h0m-154-88h0m24 172h0m-39-30h0m157-112h0m10-4h0m-59-31h0m52 63h0m-110 85h0m-36 2h0m60 43h0m95-82h0m-69-89h0m-73-33h0m121 60h0m41 63h0m-41-108h0m28 98h0m-158 74h0m10-169h0m25 159h0m11-13h0m-12-124h0m2-38h0m63 17h0m-89-12h0m85 128h0m-27 13h0m3-148h0m50 16h0m-96 2h0m63 4h0m-6 182h0m8-180h0m34 93h0m-44-112h0m41 52h0m-70 18h0m-71 4h0m66 89h0m78-141h0m31 103h0m-165-92h0m-24 43h0m8 4h0m76 83h0m88-14h0m-170-88h0m179-31h0m-178 15h0m104-18h0m-71-3h0m74-33h0m-50 35h0m-49 30h0m54-37h0m120 105h0m-6-81h0m-54-41h0m67 69h0m-143-57h0m-50 45h0m182-16h0m-129-9h0m-21 105h0m140 33h0m-68-148h0m28 165h0m-127-126h0m70 55h0m107 44h0m14-86h0m-189-9h0m76 138h0m29-210h0m50 141h0m-32 1h0m-93 23h0m-32-82h0m1 50h0m42 61h0m-25-74h0m106 40h0m-134-64h0m197-18h0m-136-18h0m67 145h0m-91-34h0m131-12h0m-141-103h0m85 141h0m-11-193h0m-66 72h0m165-15h0m-75-2h0m-60 140h0m-7-171h0m48 15h0m69 135h0m-78-170h0m102 41h0m-190 85h0m128-113h0m-65 81h0m26 59h0m-48-17h0m117-116h0m39 92h0m-77-94h0m47 93h0m-159 7h0m23-75h0m13-29h0m4 9h0m133 61h0m-139-63h0m158 94h0m-30-93h0m-148 129h0m101-146h0m-128 93h0m87-68h0m11 175h0m-46-180h0m41-5h0m7 3h0m-1 168h0m-17-180h0m106 127h0m-157-72h0m69 113h0m-37-153h0m145 98h0m-176-50h0m52-91h0m-28 32h0m33 98h0m-37-117h0m-15 47h0m53-26h0m-35 6h0m-26 14h0m1-12h0m129-10h0m21 28h0m11 111h0m-179 2h0m131-139h0m-73-10h0m-13-12h0m132 121h0m-40-110h0m-60-10h0m53 22h0m40 127h0m-85 24h0m-47-2h0m3-161h0m83 140h0m4-115h0m-76 21h0m52-64h0m-49 24h0m79 163h0m-128-64h0m63 84h0m32-81h0m-103-68h0m89 149h0m81-164h0m11 31h0m-80-48h0m94 61h0m-63 115h0m-55 8h0m-47-157h0m-33 31h0m129 1h0m-113 60h0m157-106h0m31 86h0m-194-7h0m21-111h0m15 2h0m143 110h0m-96 77h0m74-105h0m-63-83h0m-40 178h0m-37-166h0m13 12h0m33 93h0m126-27h0m-190-31h0m-7-3h0m71-41h0m37 120h0m-51-114h0m36-32h0m-89 103h0m-15 24h0m15-67h0m60-14h0m21-42h0m-95 69h0m33 91h0m48 44h0m-10-190h0m44 15h0m-54-15h0m117 154h0m-188-56h0m39 63h0m113-138h0m-109-16h0m106 0h0m-45 169h0m-35-136h0m-56 51h0m3-7h0m185-33h0m-117-50h0m-45 70h0m-21-2h0m168-42h0m-158 6h0m146-33h0m-9 31h0m-114 101h0m31-63h0m85-68h0m-125 129h0m-34-3h0m75-122h0m28 110h0m-8-117h0m113 77h0m-138-38h0m55 136h0m15-136h0m63 8h0m-79-46h0m-2 196h0m78-81h0m-112-127h0m-43 24h0m-15 130h0m105-111h0m-26 146h0m40-4h0m15-176h0m6 115h0m-20-63h0m-123 23h0m52-22h0m-24-48h0m-44 132h0m102 62h0m69-123h0m-124 111h0m54-173h0m-101 82h0m193 22h0m-70 46h0m-123-70h0m183-36h0m-125-31h0m-27-28h0m78 7h0m-53 181h0m-48-33h0m54-166h0m-34 112h0m148-19h0m-22 92h0m-95-131h0m0 142h0m119-139h0m-118-47h0m38 24h0m-80 117h0m37-130h0m1 51h0m41 29h0m102 18h0m-15-39h0m0-11h0m-75-69h0m-25 25h0m-86 67h0m146-57h0m-4-16h0m-88 184h0m-65-115h0m7 43h0m55-107h0m1-8h0m64 47h0m-96 112h0m21-119h0m-13 116h0m90-170h0m13 35h0m-79 35h0m-34-35h0m140 7h0m-115-27h0m103 165h0m-123-133h0m101-30h0m-86 11h0m131 19h0m-76-15h0m-68 13h0m-4 34h0m5 26h0m49 23h0m-72-75h0m173 119h0m-167-63h0m47-79h0m97 1h0m-31 136h0m15-150h0m54 59h0m-84-43h0m6 154h0m-121-71h0m16-77h0m13 57h0m125-68h0m-96-22h0m97 26h0m-17-21h0m-110 30h0m147 109h0m-166-27h0m170-12h0m-128 12h0m25 23h0m112 12h0m-130-128h0m-57 75h0m14-59h0m102-34h0m91 99h0m-83 85h0m-126-93h0m144-50h0m18-14h0m14 22h0m-99-66h0m-81 115h0m13-12h0m89 30h0m87-86h0m-31 0h0m1-15h0m-38-11h0m-20 176h0m-55-107h0m-5 25h0m36-101h0m49 183h0m-115-89h0m52 87h0m103-162h0m-8-3h0m-76-5h0m-41 166h0m8-35h0m110-134h0m-63 52h0m61 57h0m-145-32h0m119 70h0m-93 14h0m121-149h0m-122 16h0m-21 4h0m14 13h0m53-27h0m59-25h0m-36 120h0m79 35h0m-107-87h0m9-63h0m25 2h0m-92 53h0m79-76h0m85 118h0m-16 85h0m-165-110h0m44 58h0m147 31h0m-8-133h0m-178 8h0m100-40h0m-64 0h0m168 80h0m-182-61h0m80 172h0m48 2h0m-26-6h0m-86-182h0m-18 78h0m69 81h0m81-86h0m-2-15h0m-78-53h0m-46-9h0m8 153h0m92-14h0m-65 55h0m-77-138h0m56 27h0m1-46h0m43-41h0m-48 111h0m104-103h0m-158 106h0m0 16h0m158 48h0m-76-159h0m122 92h0m-132-99h0m-31 124h0m131-110h0m-179 65h0m-1 17h0m17-17h0m26-4h0m65-73h0m87 21h0m-156 141h0m60 22h0m114-107h0m-129-85h0m26 12h0m40 34h0m-114 57h0m91-124h0m62 56h0m-39 138h0m-91-171h0m4 73h0m108-37h0m40 46h0m-37 23h0m-30 33h0m-23-116h0m-83-14h0m160 87h0m-148-85h0m44-28h0m-11 23h0m65-10h0m42 102h0m-167-28h0m151-69h0m-107 178h0m54-189h0m-94 96h0m163-46h0m-93-39h0m56 138h0m-139-57h0m-9 38h0m25-52h0m181 20h0m-2-50h0m-119 117h0m18-165h0m92 131h0m-123-122h0m-17 171h0m-26-141h0m161 24h0m-61 130h0m-25-176h0m-48 84h0m4 71h0m-15-3h0m109-113h0m-42 121h0m-74-133h0m56-31h0m47 3h0m-9 13h0m52 20h0m-80 82h0m-22-137h0m-81 67h0m166-32h0m-146 97h0m26-97h0m-11-3h0m64-27h0m-12 25h0m-49 10h0m155 96h0m-70-99h0m-55-14h0m57-2h0m-41-18h0m118 80h0m-8-34h0m-153-35h0m15-6h0m44-11h0m-65 23h0m6 36h0m-30 4h0m110 142h0m-96-58h0m5-93h0m151 114h0m16-86h0m-151 68h0m102-16h0m5 7h0m5-111h0m-133 40h0m80-61h0m13 148h0m37 28h0m18-118h0m20 73h0m-124-123h0m-33 66h0m-9 11h0m165 8h0m-96-6h0m-81 50h0m129-114h0m60 72h0m-8-51h0m-118-29h0m110 94h0m-12-71h0m-124 115h0m71-148h0m20 183h0m-132-98h0m29-71h0m1 10h0m-38 76h0m151-50h0m-33 118h0m59-12h0m-133-119h0m-46 94h0m28-4h0m29-128h0m109 12h0m-107-18h0m-58 125h0m120-119h0m-92 7h0m85 124h0m-98-90h0m97-29h0m-82 20h0m13-9h0m145 73h0m-105-93h0m28-2h0m86 90h0m-118 112h0m72-90h0m-86 59h0m137-96h0m-180 12h0m136 94h0m30-69h0m-42 8h0m43-76h0m-173 67h0m173-17h0m-199-13h0m167-82h0m-9-2h0m-156 122h0m18-41h0m21-24h0m-37 49h0m103 92h0m-79-113h0m130-82h0m-113 17h0m106 18h0m59 52h0m-139 104h0m43-179h0m22 180h0m20-154h0m-95-17h0m138 19h0m-50-23h0m48 19h0m-186 81h0m7-22h0m166-66h0m-124-13h0m84-19h0m-108 88h0m-29-16h0m12 69h0m39-85h0m55-46h0m-80 29h0m169 104h0m-126-125h0m122 57h0m8 34h0m-194 30h0m3-18h0m15 45h0m161-64h0m1-10h0m-98 51h0m66-128h0m-61 169h0m49-137h0m-64-39h0m-1 1h0m-62 113h0m139-105h0m-131 8h0m159 21h0m-109-41h0m67 136h0m-77-50h0m-68-3h0m33-27h0m123-49h0m-35 13h0m62-6h0m-68 145h0m84-59h0m-9-41h0m-163 66h0m40 17h0m-16-139h0m99 9h0m47 17h0m9 23h0m-83 133h0m-27-186h0m10-7h0m26 129h0m7-50h0m-37-86h0m88 160h0m-141-153h0m72 109h0m71-25h0m-166 77h0m180-105h0m-172 87h0m115-5h0m27-64h0m-2 111h0m-136-151h0m-1 3h0m107 161h0m-41-165h0m-49 123h0m81-162h0m6 28h0m-15-9h0m-22 9h0m-20 11h0m-51 88h0m145 9h0m-56-107h0m-13 163h0m66-116h0m-27-62h0m59 74h0m-50-60h0m-85 41h0m5 109h0m49-109h0m66 27h0m-53-17h0m14-50h0m-146 40h0m22 44h0m-21 7h0m171-93h0m-106 125h0m28-140h0m52 6h0m-37-4h0m-13 2h0m82 13h0m-18-14h0m-158 65h0m65-62h0m118 113h0m-111-27h0m108-3h0m2 16h0m1-11h0m-133 44h0m63-127h0m-17 137h0m92-6h0m12-39h0m-13-59h0m-117-39h0m11-12h0m38 181h0m-105-147h0m152 86h0m-119-102h0m113 146h0m4-20h0m-141 26h0m108-150h0m53 73h0m-72-5h0m-11 80h0m45-164h0m-118 25h0m16 95h0m125 47h0m-168-43h0m184-75h0m-75-24h0m19-9h0m-50-23h0m13 203h0m-84-149h0m160 10h0m-113-37h0m11-12h0m-20 25h0m55-17h0m-23 24h0m-56 2h0m179 14h0m-138 117h0m-49-131h0m45 149h0m-29-162h0m47 168h0m-42-151h0m127 27h0m-1 66h0m-13 23h0m-6 24h0m19-170h0m-83 11h0m74 58h0m-26-81h0m-65 79h0m-51-44h0m185 75h0m-195 1h0m191-8h0m-57-103h0m5 1h0m-138 135h0m38-100h0m119-24h0m-58-11h0m-75 48h0m138 61h0m-72 50h0m55 0h0m-143-88h0m26 37h0m-33-42h0m7-9h0m48 128h0m102-180h0m-23-6h0m46 25h0m-139 44h0m142-19h0m-52-28h0m-15 42h0m-78 51h0m66-53h0m21-21h0m-49-42h0m-46 22h0m9-11h0m92 165h0m-20-171h0m-10-14h0m73 105h0m-101-85h0m1 12h0m-18-12h0m-34 112h0m76-114h0m49 4h0m-139 95h0m161-72h0m-68 93h0m-79-100h0m106-40h0m34 20h0m10 35h0m-3-41h0m-153 84h0m150 80h0m-47 28h0m14-3h0m9-66h0m-72 59h0m-22-18h0m108-157h0m-112-7h0m-31 155h0m6-114h0m15 13h0m47 138h0m-35-176h0m-35 39h0m87 142h0m-19-22h0m-37-142h0m79-42h0m60 34h0m-16 71h0m-60-96h0m-11-10h0m-30 1h0m140 96h0m-188-19h0m4 56h0m70-113h0m114 33h0m0 26h0m-72 119h0m-45-61h0m18 60h0m60-40h0m-121-6h0m59 48h0m90-67h0m-110-115h0m-74 17h0m112 168h0m26-198h0m40 129h0m-1-72h0m-13-31h0m-111-26h0m31 1h0m-12 58h0m119 50h0m-54 58h0m29-45h0m-149-82h0m98-13h0m-127 108h0m43-109h0m96 11h0m-39 163h0m11-142h0m35 60h0m-130-72h0m164-2h0m-96-37h0m-76 118h0m128-129h0m37 36h0m8 45h0m-92-91h0m12 14h0m19 74h0m67-30h0m-25-35h0m7 146h0m38-47h0m-71 79h0m-50-181h0m92 163h0m-85 31h0m-69-172h0m34-15h0m-30 78h0m35 1h0m70-83h0m-22-19h0m20 208h0m-47-202h0m-59 36h0m154 0h0m-158-3h0m126-24h0m-75-10h0m70 34h0m-114 8h0m-5 48h0m131-77h0m-136 77h0m173-52h0m-11 127h0m6-116h0m-109 141h0m22-190h0m-1-11h0m39 46h0m-7 149h0m82-77h0m-25-59h0m-115-46h0m-31 44h0m-19 52h0m-24 22h0m134-104h0m-62-8h0m95 1h0m28 78h0m-44 64h0m-136-89h0m55-40h0m33-14h0m78 86h0m-180 21h0m26 43h0m154-28h0m-52-105h0m-92 39h0m83 140h0m-71-40h0m20-129h0m-26 136h0m173-62h0m-32 63h0m-2-44h0m-28-117h0m34 86h0m17 28h0m-7-57h0m-74-74h0m-88 85h0m-37 28h0m179 11h0m-156 15h0m35-97h0m71 105h0m52-71h0m-145 100h0m174-105h0m-84-30h0m-36-18h0m-66 66h0m149-37h0m-124 110h0m95-141h0m28-10h0m-135 46h0m75 146h0m-71-52h0m105-139h0m61 56h0m-50 132h0m3-115h0m29 34h0m-120-101h0m122 37h0m-1 14h0m7 63h0m-105-114h0m-27 6h0m132 87h0m-124-102h0m49 10h0m9 157h0m-49-73h0m-52-32h0m187 35h0m-130-82h0m54 3h0m59 129h0m-150 2h0m49-152h0m-88 124h0m35 62h0m-9-147h0m158 10h0m-176 60h0m-11-15h0m30-36h0m11 49h0m90-105h0m-65 19h0m9 168h0m-16-132h0m-58 9h0m191 74h0m-176 26h0m-4-8h0m155-12h0m-76-133h0m-21 6h0m-1 46h0m-20 73h0m26-127h0m117 88h0m-127 29h0m-69-31h0m198-40h0m-56-54h0m-5 185h0m-46-191h0m4 11h0m-30 16h0m-57 39h0m90 97h0m-76 7h0m35-132h0m33-33h0m-49 102h0m59-32h0m-97-7h0m209 36h0m-120-95h0m-67 90h0m161 11h0m22 25h0m-47-100h0m27-3h0m5 77h0m-16 65h0m-44-114h0m-99 123h0m-15-104h0m38-72h0m5 0h0m78 8h0m-123 87h0m105 85h0m-96-128h0m119-16h0m-129 5h0m102-1h0m-121 68h0m206-45h0m-87-72h0m-92 137h0m34-92h0m53-44h0m29 4h0m8 29h0m-129 98h0m-13-46h0m134-32h0m-141 48h0m122 101h0m-50-200h0m81 11h0m-54 162h0m-47-140h0m-41 42h0m171-38h0m-147-14h0m71 183h0m-87-151h0m173-14h0m-120-28h0m45 33h0m29 153h0m-92-3h0m-39-151h0m50-47h0m138 72h0m-171 110h0m0-32h0m133-9h0m-6 24h0m-80 6h0m121-99h0m-82-73h0m-51 165h0m-5-82h0m89-60h0m23 55h0m-90-77h0m125 76h0m-128-37h0m97 91h0m-132-60h0m53-54h0m-60 79h0m119-87h0m12 38h0m-95 1h0m35-50h0m-49 183h0m1-84h0m135-24h0m-33-52h0m8 15h0m-88-32h0m91 73h0m15 66h0m-99 38h0m-5-64h0m-80-9h0m117-72h0m37 162h0m15-162h0m-152 20h0m104-37h0m40 151h0m-2-116h0m-64-30h0m-77 103h0m49-82h0m3 1h0m24 85h0m-33-69h0m38 128h0m4 15h0m-6-145h0m81-17h0m-70 103h0m89-87h0m-25-26h0m-179 69h0m22-36h0m137 80h0m-3-125h0m-85 3h0m110 2h0m-15 160h0m47-63h0m-41 4h0m-99-99h0m68 57h0m39 27h0m27 16h0m-8-63h0m-180 51h0m-2-43h0m101-58h0m-69-1h0m27-6h0m135 121h0m-27-41h0m-16 83h0m10-139h0m-48 114h0m-89-73h0m149-12h0m-164 13h0m122 13h0m-112-43h0m148 28h0m-14-44h0m-54 192h0m104-105h0m-175-17h0m-35 33h0m115-101h0m-15-12h0m16-3h0m-54 9h0m99 175h0m19-172h0m-7 4h0m-151 69h0m79 85h0m-93-61h0m46-115h0m150 81h0m-24 84h0m-2-63h0m-84 95h0m38-94h0m-63 88h0m-61-118h0m165 91h0m6-79h0m-152-35h0m49-10h0m-36-4h0m69-53h0m-22 98h0m-76-37h0m140 115h0m-53-151h0m-49 4h0m132 128h0m-33-120h0m-150 68h0m162-74h0m-20 175h0m-141-121h0m128 67h0m20-127h0m19 44h0m-152-18h0m77-32h0m17 25h0m-61 16h0m136-6h0m-32-2h0m35 66h0m-37-57h0m-23-27h0m-4 47h0m-62 22h0m102-55h0m-150 121h0m133-107h0m-107 106h0m49-146h0m-40 13h0m-49 51h0m139-55h0m-79 23h0m30-45h0m104 96h0m-5-31h0m-170 75h0m19-117h0m165 48h0m2 24h0m-207 20h0m138-91h0m-69-3h0m-22 17h0m-24 23h0m128 104h0m-122-63h0m174-20h0m-12-37h0m-83 115h0m-36-121h0m43-22h0m-3-17h0m46 192h0m4-152h0m-22 145h0m56-45h0m-166-68h0m127-27h0m22 78h0m-159-27h0m18-78h0m7 30h0m-10-25h0m109 5h0m-138 45h0m38-50h0m38 10h0m-43 33h0m138 97h0m-52-162h0m80 135h0m-111-137h0m-71 42h0m51 162h0m107-170h0m-41-4h0m-33-17h0m-80 19h0m157 55h0m-13 62h0m2-40h0m-172-30h0m15 89h0m168-127h0m-70 156h0m-15-165h0m-9-21h0m-24 16h0m134 73h0m-72 106h0m-114-69h0m93-122h0m61 116h0m11-59h0m-185 20h0m119 86h0m-104-48h0m36 29h0m125-96h0m-124-29h0m126 24h0m-132 131h0m166-57h0m-115-110h0m30 186h0m-11 6h0m-84-168h0m-2 98h0m170-28h0m-183-34h0m46 99h0m72-141h0m54 100h0m13-41h0m-44-64h0m-28 28h0m23 15h0m9-60h0m-36 188h0m-61-37h0m87-137h0m14 19h0m47 63h0m-162-106h0m-32 74h0m23-48h0m-4 3h0m11 73h0m54-107h0m22 36h0m-59-31h0m106 159h0m-146-134h0m141 26h0m34 90h0m-73-144h0m-35 16h0m-84 73h0m18-50h0m52-47h0m-29 78h0m64-72h0m-37 28h0m-63 22h0m156-32h0m-151 22h0m36-24h0m137 120h0m-126-133h0m11 2h0m80 51h0m-42 120h0m-27-170h0m53-5h0m34 65h0m-121-20h0m25 158h0m31-190h0m-104 88h0m135-73h0m60 125h0m-194-48h0m111-97h0m32 23h0m-127 47h0m172 82h0m-9-39h0m-66-119h0m-78 88h0m-17-44h0m22 126h0m48-176h0m-14 2h0m58 201h0m-45-195h0m92 107h0m16-28h0m-132-44h0m-64 82h0m46 25h0m27-140h0m96 124h0m-91 56h0m42-172h0m72 31h0m-43 59h0m-4 55h0m-22 53h0m20-184h0m-125 132h0m159-98h0m-27 107h0m-54 20h0m-107-65h0m216-39h0m-76-59h0m13 75h0m-145 3h0m190-64h0m-10-14h0m-136 25h0m-28 11h0m47-53h0m77 39h0m36-26h0m-47 178h0m60-164h0m-139-17h0m100-13h0m-110 34h0m43 17h0m49-62h0m-67 16h0m-8 189h0m64-42h0m77-40h0m-4 38h0m-42-124h0m46 72h0m-96-105h0m-69 34h0m156 119h0m-59-142h0m38 173h0m14-25h0m-27-150h0m-2 25h0m-77-8h0m38-15h0m-89 34h0m188 37h0m-118-57h0m85 27h0m-9 120h0m28-31h0m-165-99h0m106-18h0m-137 72h0m158 97h0m-72-179h0m113 68h0m-204-19h0m153 127h0m-143-126h0m63 79h0m63-135h0m-42 10h0m-86 39h0m120-51h0m-13-10h0m-88 35h0m91-35h0m32 170h0m-23-66h0m-74-47h0m114-22h0m33 84h0m-44 40h0m34-117h0m-30 29h0m8 123h0m33-116h0m-105-71h0m64 13h0m32 48h0m-31-40h0m-85-23h0m103 28h0m-32-28h0m-62 5h0m-20 17h0m58 153h0m20-143h0m-14-42h0m89 122h0m-44 3h0m-51-91h0m97 76h0m-37 15h0m9-76h0m-43-16h0m-105 112h0m48-139h0m-79 71h0m-8 19h0m103-67h0m-105 33h0m122-14h0m-57-17h0m-30 157h0m157-51h0m-81-103h0m51 164h0m-30-166h0m-74-1h0m145 56h0m-59-68h0m-56-15h0m51 22h0m-114 83h0m163-12h0m-117 110h0m15-72h0m82 47h0m-122-38h0m-45-30h0m78-64h0m108 6h0m-99 133h0m-23-165h0m20-8h0m2 3h0m119 116h0m-147-109h0m25-7h0m-59 19h0m78-32h0m23 22h0m42 47h0m-149 47h0m26-86h0m13 40h0m51-60h0m84 114h0m-21-81h0m-145 1h0m116 138h0m-51-181h0m-57 190h0m-4-159h0m30 13h0m38-40h0m-16 4h0m127 122h0m-18-70h0m16 28h0m-164-47h0m-3 4h0m39-19h0m-81 85h0m87 71h0m-86-69h0m68-99h0m123 145h0m-39-104h0m27-12h0m-108 144h0m118-134h0m-165 107h0m112-136h0m-126 94h0m103-121h0m39 170h0m-32-162h0m-121 88h0m115-75h0m-22 118h0m-19-106h0m-5 79h0m-37-76h0m-32 78h0m56 63h0m-63-81h0m119-89h0m73 41h0m-93-37h0m90 66h0m-49-65h0m14 47h0m41 93h0m-15-126h0m-5-5h0m-80 94h0m-26 80h0m102-64h0m-127-106h0m148 33h0m-160 120h0m27-120h0m60-40h0m-25 94h0m82-68h0m43 69h0m-146 73h0m-58-45h0m18-94h0m33 132h0m-51-99h0m203 19h0m-38 74h0m-135-121h0m69-43h0m58 44h0m31 102h0m-60-143h0m41 158h0m-93-131h0m122 56h0m-100-90h0m13 10h0m-67 23h0m-16-1h0m122 40h0m-27-46h0m36 14h0m-76 163h0m3-1h0m83-131h0m-12 83h0m-83-154h0m108 102h0m-130-62h0m56-33h0m50 15h0m-98 8h0m143 57h0m-140-85h0m117 55h0m-136-16h0m117-15h0m-69 157h0m-28-171h0m122 106h0m-10-75h0m-84 140h0m-56-148h0m165 91h0m-104 44h0m-30 22h0m-2-157h0m105 4h0m28 50h0m-40-55h0m-152 55h0m97-87h0m78 94h0m-88-62h0m-82 41h0m80-70h0m-91 74h0m59-70h0m-59 124h0m82 4h0m-66 20h0m172-90h0m-179 79h0m172-44h0m-9-31h0m-127 103h0m0-154h0m123 52h0m-27-64h0m-12 194h0m-122-133h0m72 123h0m3-200h0m-29 26h0m29-8h0m91 23h0m-34 161h0m-24-171h0m-38-5h0m60 104h0m-103 34h0m31 17h0m111-108h0m-148-39h0m-16 32h0m116 10h0m38 2h0m-83-33h0m-79 53h0m-4 9h0m31-53h0m75-31h0m45 33h0m-146 51h0m122-94h0m-30 13h0m-50-6h0m146 115h0m-32 46h0m-109-155h0m61 71h0m74-43h0m-16 107h0m0 20h0m-16-163h0m-13 0h0m-41-13h0m-44 47h0m-48 6h0m107-10h0m26-23h0m-149 60h0m64-33h0m103 101h0m-9-124h0m-47-8h0m18 0h0m-41 106h0m108-6h0m-144 46h0m155-75h0m-155-61h0m46-27h0m67 46h0m-7-31h0m29 13h0m-38 31h0m57 15h0m-156 129h0m12-196h0m123 162h0m-8-117h0m-7 122h0m-21-123h0m-117-1h0m9-11h0m81-29h0m-88 20h0m20 25h0m-33 103h0m14-112h0m21-4h0m114 27h0m-68-51h0m-34 54h0m121-6h0m-75-47h0m32 8h0m-21 97h0m-54 80h0m120-125h0m-146-59h0m58 18h0m59-15h0m-55-2h0m-54 121h0m118-93h0m-148 16h0m139-32h0m-144 7h0m85-28h0m-49-1h0m-5 17h0m91-16h0m-57-12h0m-4 36h0m-58 119h0m-18-78h0m148-67h0m-144 48h0m88-27h0m-57 62h0m62 120h0m-5-212h0m52 191h0m35-34h0m17-84h0m-21 69h0m-149 19h0m86-151h0m74 108h0m-17-41h0m-166 53h0m171-83h0m-79 142h0m61-85h0m-98 70h0m-35-45h0m109 54h0m-55-163h0m23 14h0m4 0h0m83 21h0m-11-19h0m-174 107h0m91 61h0m-30-187h0m105 5h0m-38-28h0m73 115h0m-175-41h0m-6 67h0m11 13h0m12-96h0m137 19h0m-123-54h0m75-6h0m26 27h0m-146 122h0m166-113h0m2 85h0m-113-10h0m59-121h0m-29 179h0m100-65h0m-37-98h0m-165 62h0m25-41h0m27-21h0m64 90h0m59-87h0m-171 63h0m53-66h0m-29 60h0m120 61h0m-56-119h0m73 8h0m-123 13h0m24-32h0m-28 58h0m84 112h0m-69-144h0m14-32h0m16 16h0m127 76h0m-5-26h0m-9-7h0m-107-50h0m33 187h0m-93-18h0m172-84h0m-155-57h0m54 162h0m-63-153h0m66-43h0m64 116h0m-146 46h0m1-3h0m17-122h0m-11 94h0m159-26h0m-49 84h0m56-46h0m-130-28h0m-8 77h0m128-146h0m-97 159h0m57-125h0m65 18h0m-15 37h0m-158-65h0m80-69h0m89 127h0m-37-57h0m-14 40h0m-144-10h0m29-81h0m123-6h0m-109 136h0m-55-35h0m145 84h0m-138-137h0m2-8h0m31 27h0m163-14h0m-137 70h0m61-141h0m-90 139h0m99-122h0m-135 113h0m38 49h0m147-77h0m-12-78h0m-153 39h0m46 67h0m128-27h0m-63-59h0m-99 64h0m49 95h0m47-102h0m-120 21h0m-9-26h0m116 46h0m-89 4h0m19-130h0m85 0h0m-47 38h0m71 5h0m-63 145h0m-83-114h0m107-91h0m-102 66h0m53-28h0m16-24h0m16 182h0m-62-146h0m151 24h0m-56-64h0m-80 40h0m114-42h0m-14 27h0m35 30h0m-167 88h0m14-1h0m56-114h0m58 105h0m43-39h0m-67-89h0m27 38h0m-72-41h0m125 108h0m-102-120h0m-76 56h0m177 11h0m-97-31h0m10 111h0m10-128h0m-95 32h0m-21 26h0m158-3h0m-63-66h0m-18 107h0m-26-71h0m116 78h0m10 54h0m-44-156h0m-9 5h0m-121 97h0m176-84h0m-184 91h0m190-28h0m-129-95h0m125 84h0m-168-18h0m172 72h0m-168 21h0m173-26h0m-133-122h0m-8 36h0m21-40h0m-28 21h0m92 145h0m-142-91h0m50 25h0m135-44h0m-27 125h0m-161-95h0m191 72h0m-137 5h0m61 18h0m4-88h0m-22-99h0m-16 12h0m71 7h0m-123 38h0m83-31h0m65 97h0m-101-121h0m-45 25h0m66-26h0m-56 158h0m119-126h0m-62-42h0m3 211h0m26-202h0m25 183h0m-99-147h0m-20 16h0m58-39h0m90 25h0m-85-29h0m34 8h0m-1-17h0m45 73h0m-24-66h0m-68 106h0m-53-6h0m145-53h0m-74-62h0m-18 119h0m-21 71h0m-34-14h0m170-106h0m-108 114h0m15-2h0m81-130h0m-158-15h0m17 131h0m-18-130h0m-12 110h0m143-116h0m-69 12h0m117 39h0m-94-54h0m-24 82h0m-73-47h0m20-9h0m37 139h0m-41-164h0m148 9h0m2 30h0m-155-15h0m100-30h0m-101 147h0m40-115h0m-54 71h0m166-95h0m9 1h0m-64-19h0m63 47h0m26 29h0m-34 22h0m-87-109h0m-36 13h0m59-10h0m-44 93h0m-41 39h0m112-111h0m-45 9h0m-6 23h0m10-16h0m-81 45h0m159 99h0m-134-154h0m-16 15h0m163 60h0m-132-81h0m-13 8h0m146 23h0m-117-50h0m-51 106h0m82-106h0m-65 143h0m12-77h0m52-53h0m20 46h0m56 4h0m-12-26h0m37 96h0m-104-135h0m44 165h0m-75-159h0m-24 149h0m70 42h0m19-20h0m16-79h0m10 59h0m-124 9h0m150 0h0m-61 18h0m-110-123h0m144-2h0m48 16h0m-100-74h0m6 108h0m60 36h0m-33-145h0m22 71h0m-89-70h0m15 27h0m119 102h0m-69 72h0m26-157h0m-111 108h0m28-119h0m-20 146h0m89-113h0m55 88h0m-162 14h0m48-146h0m61-12h0m-138 139h0m163-1h0m-150-75h0m-17 7h0m169-21h0m4 111h0m-97-159h0m-68 147h0m126 40h0m-91-156h0m35-38h0m-18 191h0m-34-75h0m54-112h0m-89 74h0m183 83h0m-70 36h0m-76-151h0m0 125h0m160-147h0m-52 7h0m-107-12h0m63-14h0m-69 138h0m68 48h0m33-163h0m-103 2h0m30-26h0m131 54h0m-186 1h0m19-33h0m112-25h0m-104 112h0m39-98h0m48-5h0m-98 17h0m13 126h0m10-119h0m138 39h0m-34 112h0m44-141h0m-155 63h0m-12-66h0m27-28h0m101 10h0m-44 129h0m55-83h0m-110 111h0m55-170h0m-85 27h0m47-31h0m-5 11h0m102 8h0m-89-17h0m121 152h0m-62-32h0m20-112h0m-109 14h0m122-15h0m-108-16h0m76 20h0m-5 10h0m-72-29h0m-22 36h0m151 90h0m-164 13h0m126-51h0m48 60h0m-71-53h0m39 17h0m-71 30h0m49-98h0m-33-26h0m-87 30h0m40-33h0m-18 85h0m42 39h0m-64-74h0m77 39h0m-43 87h0m-48-38h0m112-155h0m51 127h0m32 1h0m-101-116h0m-66 109h0m-20-88h0m80-3h0m-63 106h0m60 62h0m102-49h0m-85-159h0m-1 103h0m-62 82h0m84-128h0m41 35h0m-119-24h0m118-45h0m-79 2h0m89 35h0m8 16h0m-83 107h0m-65-154h0m-49 64h0m112 12h0m75 27h0m-91 23h0m-72-101h0m-11 21h0m191 36h0m-180-60h0m61-31h0m-62 51h0m52-57h0m1 108h0m98-68h0m-97-34h0m132 89h0m-51 69h0m-15-168h0m72 97h0m-95-46h0m11-65h0m84 111h0m-108-88h0m11 171h0m-61 11h0m-31-78h0m10-51h0m151 82h0m1-53h0m-55-97h0m-22 9h0m-94 130h0m180 21h0m2-86h0m11 4h0m-103 93h0m-59-129h0m55 131h0m22-102h0m14 43h0m59-49h0m-168 77h0m39 27h0m-52-123h0m-8 79h0m-5-40h0m202-30h0m-52 144h0m21-21h0m-120-166h0m-37 41h0m180 97h0m-21-101h0m-17-17h0m-20-4h0m25-12h0m-129 164h0m-7-122h0m86 144h0m-111-108h0m76 92h0m123-70h0m-146-73h0m111 23h0m-119-51h0m13 11h0m-44 34h0m95 134h0m71-110h0m-157-47h0m21-13h0m-11 40h0m-5 108h0m22-139h0m109 133h0m-72-140h0m-68 50h0m-10 13h0m71-81h0m79 13h0m-133 155h0m170-106h0m-136 116h0m39 6h0m20-177h0m-116 55h0m97 58h0m-89-41h0m129 84h0m40-29h0m-108-135h0m-41 22h0m125 22h0m-48 42h0m9-75h0m45 172h0m-38-127h0m-78 100h0m-5-147h0m-18 32h0m40 61h0m127-38h0m-147 115h0m136-13h0m-91-174h0m53 162h0m-128-72h0m185 44h0m-59-116h0m55 145h0m-98 37h0m65-147h0m19 128h0m-24-30h0m-86-151h0m-41 70h0m22-32h0m-3-23h0m111 166h0m-72-151h0m-4-23h0m120 60h0m-64-52h0m29 4h0m-109 9h0m-50 40h0m148-36h0m36 77h0m-57-96h0m-10-4h0m81 85h0m-108-75h0m81 5h0m-30 157h0m-19 26h0m-95-15h0m133-170h0m-139 21h0m4 115h0m-15 12h0m182-24h0m-39-83h0m8-37h0m-79 14h0m-57-1h0m76-15h0m50 174h0m-83 7h0m77-189h0m-108 132h0m-4 11h0m-2-139h0m28 151h0m24-134h0m78 34h0m-16-23h0m-82-46h0m38 69h0m-43-43h0m-13 169h0m-7-14h0m8-145h0m104 0h0m-129 51h0m23 89h0m22-171h0m120 135h0m-45 59h0m27-42h0m-23 36h0m-93-182h0m-17 71h0m97 102h0m21-106h0m18 54h0m-92-133h0m31 182h0m-98-32h0m148-132h0m-74 129h0m46-133h0m-138 117h0m175-85h0m-40-38h0m-23 10h0m-107 124h0m153 44h0m-100-106h0m47-75h0m50 178h0m-33 26h0m-88-144h0m77-9h0m-53-28h0m112 97h0m-12-74h0m-68-15h0m-3-23h0m-24-8h0m110 18h0m-175 69h0m100-26h0m76 48h0m-154 57h0m27 21h0m151-101h0m-105-59h0m25 164h0m-8 12h0m-80-25h0m60-177h0m-1-7h0m51 199h0m-121-84h0m173 24h0m-178 11h0m-9-77h0m147 79h0m-91 26h0m27 4h0m94-8h0m-161 1h0m60-45h0m95 26h0m-1-93h0m-127 5h0m137-28h0m-31 143h0m-72-164h0m61 174h0m-54 9h0m20-173h0m-2-12h0m-72 145h0m15-153h0m157 115h0m-180-95h0m-4 135h0m158 10h0m-121 20h0m78-181h0m8 41h0m14-30h0m-47-8h0m75 43h0m-152-27h0m-25 19h0m42 84h0m-22-107h0m14 91h0m100-91h0m38 118h0m-175-58h0m22-36h0m5-6h0m24 11h0m65 140h0m-84-41h0m78 36h0m83-51h0m-198-72h0m192-1h0m-27-48h0m-4 28h0m-34 158h0m64-154h0m-50-39h0m-76 169h0m-40-2h0m4-17h0m78-98h0m-6-27h0m45 0h0m-140 18h0m49 1h0m-53 40h0m118-63h0m38 5h0m-36 149h0m-2 25h0m-118-132h0m24 46h0m95-119h0m-122 64h0m-5 60h0m193-88h0m-130-3h0m92 79h0m43-42h0m-29-64h0m12 116h0m-35-108h0m52 147h0m-138 34h0m112-173h0m-31 167h0m-53-2h0m66-162h0m-141 62h0m111-81h0m48 50h0m-9-29h0m-162 43h0m-1 4h0m172 9h0m-142-42h0m175 27h0m-129 52h0m10 71h0m26-202h0m-98 47h0m-8 27h0m22-29h0m-26 71h0m175-15h0m-66-82h0m-72 47h0m24-32h0m128 127h0m-164-88h0m7 25h0m66-97h0m58 17h0m-13 29h0m54 27h0m-135-67h0m96 150h0m-87-135h0m56 11h0m-115 45h0m197 28h0m-60-91h0m-116 23h0m141 32h0m-33-53h0m20 43h0m-68 52h0m-19-94h0m68 12h0m-134 46h0m175 90h0m-56-154h0m-42 33h0m-49 30h0m68 110h0m-54 22h0m68-18h0m-68-180h0m140 65h0m-3 91h0m-177 0h0m97-147h0m50 14h0m-65-25h0m11 137h0m18-142h0m-83 45h0m144 101h0m-16 44h0m-123-131h0m71-38h0m-115 74h0m82-73h0m26 190h0m42-162h0m-74-6h0m-56 16h0m173-12h0m-81 127h0m92-61h0m-123-111h0m-28 11h0m111 129h0m-37-132h0m-105 37h0m137 133h0m47-106h0m-134 121h0m85-13h0m8-127h0m-57-12h0m-33 27h0m121-5h0m-69 82h0m-66 55h0m-5-172h0m83-7h0m-31 42h0m30-66h0m70 84h0m-50 31h0m-111 73h0m73-188h0m-29 18h0m89 54h0m-108 67h0m91-109h0m20 155h0m-20-103h0m-152 74h0m90-157h0m-65 50h0m151 104h0m-98-119h0m-3 133h0m26-125h0m-40-29h0m-23 21h0m154 64h0m5 30h0m-200 11h0m50-139h0m91 190h0m-154-75h0m157 50h0m-2-138h0m-12 5h0m-117 28h0m94-34h0m-60-13h0m59 174h0m70-58h0m-49-124h0m59 164h0m-47-73h0m-83-57h0m109 73h0m-136-52h0m70-55h0m4 13h0m-73 52h0m46-55h0m21 172h0m-77-53h0m95-96h0m-110 42h0m-6 71h0m14-53h0m-1 52h0m22-89h0m93 118h0m-120-112h0m145-41h0m-146 61h0m119 81h0m-100-121h0m90 156h0m-86-44h0m90-127h0m-81-18h0m-36 47h0m140-16h0m-92 123h0m64-79h0m32-54h0m36 39h0m-42-39h0m-10 171h0m39-107h0m-116-87h0m23 142h0m49-144h0m57 151h0m2-9h0m-52 27h0m-61-158h0m-17 4h0m24 182h0m-53-78h0m154-89h0m-163 52h0m100-84h0m26 117h0m-71-108h0m-32 147h0m96-137h0m-50 178h0m15 7h0m75-152h0m-46-62h0m8 161h0m48-11h0m-181-17h0m68-50h0m102 66h0m-182-59h0m128-91h0m-32 12h0m-21 179h0m87-21h0m-119-159h0m36 61h0m-43 0h0m124-54h0m11 21h0m-118 6h0m150 28h0m-1 87h0m-203-21h0m106-115h0m16-17h0m-90 160h0m8-132h0m92 110h0m-114-1h0m13-102h0m0-3h0m172 66h0m-177-12h0m19 77h0m64-125h0m-74 68h0m138-75h0m-128 40h0m-33-14h0m6 115h0m78-157h0m83 128h0m-154-12h0m22-107h0m148 77h0m-84-105h0m-47 15h0m102 23h0m-24 147h0m3-135h0m-139 67h0m54-101h0m-16 160h0m35-25h0m-7-140h0m23-6h0m-87 85h0m128-36h0m-8 88h0m-132-53h0m214 18h0m-150-81h0m-17 163h0m137-108h0m-158 7h0m11-38h0m70 30h0m41-61h0m4-2h0m29 14h0m-62 159h0m4-176h0m48 17h0m-76 80h0m92-62h0m-115-21h0m29 3h0m15 65h0m-22-89h0m116 66h0m-143 23h0m130-28h0m1 71h0m-72-123h0m11 184h0m-69-14h0m112-153h0m-79 17h0m-72 113h0m159-113h0m-112-42h0m-56 71h0m97-34h0m60-18h0m-133 105h0m158-64h0m-156-13h0m-38 41h0m2-17h0m198-9h0m-80 42h0m16-89h0m-74 162h0m-71-59h0m173-80h0m-91-15h0m83 73h0m-20 80h0m-120-14h0m-15-109h0m26-22h0m112 127h0m-43 23h0m-85-141h0m155 14h0m27-9h0m-43 36h0m-144-33h0m101 154h0m79-55h0m-192-49h0m196-32h0m-116-70h0m30 14h0m55 130h0m-119-96h0m29 132h0m122-127h0m-113-62h0m-8 38h0m-60 18h0m137-14h0m33 50h0m-172 12h0m134 85h0m36-130h0m-166 28h0m85-78h0m22 7h0m-35 37h0m-71 8h0m45 96h0m134-8h0m-44 6h0m-101-90h0m-7 11h0m-27 75h0m127-124h0m11 23h0m-155 84h0m44 63h0m9-154h0m85-3h0m-33-12h0m-89 140h0m173-113h0m-46-37h0m18 41h0m-32 23h0m-64-45h0m65 1h0m-21-7h0m-31-4h0m35 0h0m57 153h0m-82-20h0m113-38h0m-2-64h0m-67-43h0m-127 122h0m31-89h0m-36 70h0m71-76h0m-21 126h0m135-106h0m-172 20h0m97 45h0m82 8h0m-190-16h0m185-68h0m-163 4h0m84-30h0m29-7h0m-94 152h0m68 41h0m75-111h0m-169-22h0m126 99h0m10-108h0m-12-52h0m-122 104h0m187-19h0m-51-24h0m-137 16h0m113-81h0m-35 14h0m-85 32h0m159-20h0m-34-32h0m49 28h0m-131 141h0m140-80h0m-21 17h0m36-27h0m-190-13h0m-24 30h0m150-88h0m-138 46h0m167-22h0m-160 89h0m196 15h0m-157 40h0m22-168h0m-47 165h0m-26-53h0m131-110h0m-22-11h0m9 7h0m-11 96h0m-82 68h0m158-2h0m-83-151h0m95 92h0m-82-112h0m37 15h0m55 121h0m-175 25h0m-16-13h0m9-88h0m79-45h0m38 90h0m-58-100h0m-14 1h0m-4 12h0m45 17h0m37-5h0m-140 41h0m57-36h0m-36 140h0m59-64h0m32-105h0m61 128h0m-150-107h0m153 31h0m-84 3h0m45-25h0m55 73h0m-142 21h0m60-119h0m63 114h0m-94-45h0m74 61h0m10-8h0m-40-53h0m-7-81h0m-36 192h0m-26-164h0m96 12h0m-16-12h0m-36 36h0m-57 137h0m53-172h0m-78 143h0m93-58h0m-69-82h0m-2-7h0m74 16h0m-41-27h0m-8 151h0m-24-122h0m134 67h0m-47 85h0m65-104h0m-122 80h0m88-134h0m-87 144h0m139-67h0m-110-71h0m-1-39h0m47 42h0m27 90h0m1-28h0m29-18h0m-137-80h0m135 63h0m-13 50h0m-65-89h0m-87-12h0m118 180h0m-39-91h0m-1 89h0m-18-93h0m78-30h0m-40-54h0m-141 58h0m194 35h0m-181-68h0m-7 19h0m57 92h0m-25-115h0m-23 35h0m151-54h0m-36 185h0m54-145h0m-64-17h0m-105 29h0m146-56h0m-141 40h0m136-45h0m-75 5h0m-39 101h0m10-109h0m9 123h0m86-126h0m-99-1h0m96 18h0m-79 8h0m56 176h0m-99-162h0m90-45h0m-38 32h0m-10 8h0m24-13h0m46-18h0m24 165h0m60-69h0m-48-58h0m-153 45h0m126-86h0m49 81h0m-27-52h0m-34-11h0m-75 111h0m80-120h0m50 157h0m-101-158h0m53-8h0m55 54h0m-36-26h0m29 124h0m16-14h0m-94-147h0m-28 34h0m70 3h0m-91-23h0m-58 119h0m14-58h0m37-42h0m37-4h0m122 114h0m-9-33h0m-169-62h0m116 156h0m-149-120h0m204-22h0m-20 6h0m2 94h0m-138-142h0m-28 52h0m43-38h0m4 168h0m117-58h0m-114 57h0m115-130h0m-18 119h0m-28-180h0m9 14h0m-127 17h0m141 135h0m42-53h0m-20 29h0m-9 16h0m-56-32h0m-85-87h0m152 89h0m24-31h0m-200 22h0m8-97h0m90 58h0m-70 86h0m55 6h0m96-35h0m-95-127h0m-47 170h0m-3-34h0m84 43h0m66-149h0m-47 153h0m-58 2h0m-21-203h0m106 22h0m-92 179h0m-45-67h0m85-124h0m-69 106h0m-39-17h0m-6-47h0m138-31h0m-115 11h0m148 21h0m13 37h0m-19-14h0m-37-35h0m45-12h0m12 29h0m-49 64h0m-23-122h0m23 188h0m-98-29h0m92 31h0m-131-96h0m1-33h0m135 21h0m-119 77h0m142 22h0m-148-77h0m20 63h0m144-66h0m-16-41h0m-67-64h0m-80 85h0m110-75h0m-130 79h0m2 49h0m127-124h0m-125 67h0m0 43h0m44-85h0m-42 61h0m156-15h0m-119-57h0m99 6h0m-90 0h0m127 142h0m17-46h0m15-32h0m-159 66h0m94 32h0m-105-125h0m63 1h0m-79 97h0m61-126h0m50-5h0m-100 2h0m34-33h0m-55 95h0m58 83h0m69-44h0m6-133h0m-10 44h0m23-28h0m-72 8h0m-39 164h0m118-97h0m12-38h0m-60 15h0m-67-46h0m-7 59h0m83 52h0m-30 31h0m-62 15h0m68-31h0m27-126h0m63 18h0m-136 1h0m152 60h0m-180 47h0m144-130h0m-129 144h0m133 0h0m-31-31h0m9-109h0m17 27h0m-35-42h0m-4 179h0m-65-171h0m115 113h0m-18-116h0m-166 112h0m157-109h0m-107 44h0m-32 31h0m147 89h0m-154-116h0m-13 53h0m18-34h0m62 119h0m112-59h0m-182 7h0m183 11h0m-128 31h0m-5-1h0m70-176h0m-87 10h0m45 41h0m92 75h0m-12-128h0m45 79h0m-76 80h0m8-169h0m-33 113h0m-16-110h0m30-15h0m-65 175h0m14-166h0m-34 192h0m-35-81h0m90-118h0m31 214h0m-85-95h0m142-73h0m-168 60h0m167 64h0m-76-25h0m-97-73h0m30 126h0m159-129h0m-130-61h0m56 80h0m-43-54h0m-20 99h0m146-10h0m-72-76h0m-89-37h0m-20 126h0m27-91h0m-40 86h0m198-34h0m-93-82h0m16 171h0m-11-163h0m-50-15h0m-74 94h0m64-78h0m-52 31h0m114-36h0m-76 33h0m66-16h0m-53-20h0m109 26h0m-56-35h0m27-1h0m-54 182h0m-71-118h0m39-58h0m18 188h0m-67-76h0m165 14h0m-165-56h0m123-84h0m-57 31h0m-7 12h0m-66 62h0m18 28h0m176-10h0m-72 66h0m5-172h0m-56 86h0m-13 5h0m127-13h0m-140-58h0m49-11h0m92 95h0m10-52h0m-84-62h0m97 76h0m-93-77h0m0 122h0m-35-120h0m41 21h0m68 56h0m-84 113h0m80-110h0m-45-65h0m-91 176h0m132-176h0m-86 16h0m-36-26h0m-37 41h0m166 110h0m-11-126h0m-158 11h0m56-24h0m136 85h0m-102-65h0m52-17h0m-70 167h0m34-5h0m78-110h0m-157-36h0m89-12h0m34 13h0m5-7h0m-29-9h0m4-9h0m46 42h0m-193 32h0m23-20h0m125-38h0m-143 94h0m78-20h0m102-24h0m21 28h0m-14-19h0m9 57h0m-33-122h0m-3 130h0m-136-85h0m135-43h0m-123 13h0m1 93h0m56-127h0m-86 128h0m14 31h0m65-128h0m14 36h0m62-47h0m23 19h0m-67 126h0m-4-96h0m46 70h0m1 9h0m-91-148h0m56-2h0m-82 37h0m-46 37h0m-5 13h0m84 86h0m92-51h0m-107 74h0m-61-91h0m107-97h0m68 55h0m17-7h0m-129-50h0m-72 116h0m75-89h0m112 2h0m-8 5h0m-28-36h0m-24 193h0m55-35h0m-142 0h0m111-156h0m19 24h0m-6-6h0m-46 93h0m-105-14h0m6 45h0m125-146h0m-7 21h0m46 1h0m-21 14h0m-150 47h0m111-80h0m-92 143h0m148-98h0m-24 146h0m31-55h0m-81 67h0m92-161h0m-79 125h0m7-157h0m73 55h0m-54-10h0m-38-68h0m45 46h0m60 76h0m-162-79h0m53-24h0m-72 64h0m-31 7h0m186 52h0m-54 16h0m14-122h0m-84 164h0m82-191h0m7 189h0m-14-175h0m70 63h0m-8 35h0m-49 68h0m-146-98h0m81-64h0m61 18h0m21 44h0m-144-14h0m112-58h0m-82 28h0m-46 107h0m155-124h0m-21-7h0m-63 149h0m103 15h0m-48-162h0m-20-10h0m-19 117h0m13 68h0m78-18h0m-30-160h0m-108 24h0m-19 127h0m6-135h0m-17 89h0m-4 38h0m196-84h0m-145-24h0m136 37h0m-133-47h0m16 115h0m-17-131h0m-8 125h0m120-76h0m-37-46h0m-5-10h0m-76 7h0m-10 48h0m161 18h0m-25-14h0m13 52h0m4 9h0m-179-49h0m128-36h0m12 112h0m-55-118h0m70-13h0m-55 107h0m5-94h0m43-1h0m27 98h0m-27 43h0m18-96h0m-154 82h0m7 19h0m-4-167h0m149 111h0m-125-120h0m-42 65h0m165-6h0m16-17h0m-147 20h0m113-50h0m-64-10h0m46 6h0m-19 19h0m-92-23h0m19 41h0m5-22h0m25-39h0m-61 62h0m-15 14h0m33 119h0m51 16h0m61-174h0m17-14h0m-21 17h0m-96-14h0m21 158h0m133-37h0m-185-113h0m173 87h0m-130-115h0m-34 88h0m18-82h0m73 146h0m-45 55h0m112-119h0m14 36h0m-111-118h0m-58 35h0m164 122h0m-62-162h0m27 24h0m-46 138h0m-96-58h0m39-52h0m1 140h0m-55-65h0m-7 6h0m142 30h0m-76 15h0m89-157h0m-66 166h0m34 17h0m13-207h0m46 159h0m-2-75h0m-20-61h0m43 94h0m-166-91h0m128 104h0m-100 48h0m96-147h0m-86 10h0m28 158h0m97-119h0m-22-9h0m-89-75h0m98 145h0m-56-124h0m-47-14h0m60 77h0m18 89h0m-51-134h0m-76 100h0m19 14h0m142 1h0m-186-6h0m22-104h0m17-24h0m3 19h0m119 117h0m32-61h0m-155-65h0m82-4h0m61 111h0m-162 24h0m147 31h0m-114-167h0m5-9h0m109 165h0m-145-56h0m107-83h0m-83-27h0m-37 58h0m154 20h0m-134 63h0m116-127h0m36 71h0m-126-50h0m-66 29h0m109-42h0m-52 22h0m88 48h0m-14-63h0m-58-33h0m123 126h0m-191-21h0m180-55h0m-23-19h0m-80 0h0m6 157h0m98-87h0m-81-19h0m86-1h0m-68-73h0m12 180h0m24-173h0m-11 150h0m-58-155h0m125 91h0m-209 21h0m134 73h0m-83-172h0m-34 117h0m88 45h0m-33-196h0m75 23h0m23 145h0m-96-83h0m35-75h0m0 11h0m45-7h0m21 117h0m-163-9h0m179-46h0m-62-63h0m20 0h0m-34 0h0m-66 29h0m73-13h0m-79-6h0m-44 119h0m162-111h0m-78-33h0m-41 34h0m10 130h0m30-137h0m115 89h0m-26-60h0m11 3h0m3-2h0m-28-41h0m-39 22h0m-93-1h0m31-27h0m61 9h0m-72 13h0m-16 22h0m163-2h0m-120 59h0m-44-87h0m26 181h0m6-151h0m-24-12h0m-24 20h0m151-20h0m-97 160h0m8-36h0m-58-70h0m51-70h0m106 93h0m-106-108h0m66 106h0m46-54h0m-69-34h0m-92 29h0m111-55h0m-43-2h0m75 127h0m-81 82h0m-23-39h0m-9-137h0m39-21h0m67 42h0m-81-34h0m-18 140h0m10-160h0m112 55h0m-134 103h0m131-113h0m1-13h0m-99-19h0m107 45h0m14 45h0m-67-86h0m65 39h0m-7 105h0m-72-144h0m-75 175h0m120-124h0m-54-54h0m-71 168h0m-36-119h0m22 55h0m81 83h0m10-38h0m-56-123h0m148 48h0m-171-3h0m-18-44h0m89-38h0m-4 7h0m-78 37h0m143 26h0m12-4h0m-109 123h0m6-3h0m-11-145h0m-37 123h0m66-50h0m-78-74h0m13 20h0m41-35h0m-46 56h0m57-78h0m-7 169h0m83-127h0m-158 75h0m8 25h0m46-139h0m68-5h0m77 111h0m-104-86h0m-88 136h0m5-93h0m126-22h0m-84-39h0m11 23h0m93 98h0m-133 48h0m-10-146h0m185 112h0m-107 17h0m68-138h0m18 151h0m-128 20h0m104-171h0m-158 65h0m127-77h0m-67 22h0m107 80h0m-168-3h0m131 4h0m66 39h0m-179 4h0m70-5h0m57 38h0m17-8h0m-104-173h0m61 3h0m-103 32h0m110-2h0m45-13h0m-59-3h0m65 37h0m-115-38h0m123 44h0m-98-67h0m-57 103h0m90-74h0m-78 8h0m87 108h0m-46-140h0m101 30h0m-1 122h0m-131-140h0m9-2h0m86 162h0m30-156h0m-25 37h0m-23-41h0m81 96h0m-192 7h0m24 39h0m5-121h0m109-16h0m54 83h0m-22 1h0m-89-103h0m6-9h0m-65 25h0m7 4h0m-11 116h0m33-137h0m142 106h0m-168-73h0m3 83h0m30-113h0m39 28h0m-74-10h0m19 12h0m9 0h0m47 38h0m71 50h0m-157-93h0m51-11h0m-34 115h0m105-118h0m-12 183h0m-89-197h0m-21 109h0m96 81h0m-55-1h0m-32-138h0m91-46h0m40 28h0m-43-5h0m-91 8h0m69-2h0m11-20h0m34-7h0m32 122h0m-42-110h0m-131 87h0m138-77h0m-133 88h0m63-115h0m115 79h0m-53 86h0m-99-126h0m99-22h0m-69-13h0m49 203h0m-24-107h0m31 82h0m-69-95h0m42 34h0m-100-14h0m191 36h0m6-18h0m-176-83h0m197 80h0m-69 67h0m-54-192h0m-10 160h0m-41-135h0m135 45h0m-116 103h0m63-61h0m-92-65h0m151 68h0m-149 63h0m0-141h0m86 168h0m10-23h0m-7-182h0m-57 47h0m-2-47h0m-48 47h0m69 143h0m60-167h0m-70-19h0m63 9h0m25 182h0m18-52h0m-162 4h0m139-23h0m-89-100h0m131 50h0m-63 125h0m-120-160h0m128 35h0m-145 15h0m3-16h0m13-22h0m122-31h0m2 179h0m14-135h0m-118-1h0m75-19h0m-30-44h0m67 33h0m-79 77h0m89 71h0m-123-133h0m52-43h0m-75 120h0m105-112h0m18 127h0m-92-88h0m-26 82h0m147-88h0m-85-17h0m28 179h0m-46-173h0m127 12h0m5 3h0m-161-20h0m74-30h0m-11 193h0m-39-186h0m111 21h0m-9-6h0m-105 39h0m-47 16h0m0 41h0m149-109h0m-50 86h0m14 91h0m-55-152h0m-66 52h0m133-72h0m-124 59h0m147-60h0m27 47h0m-66-45h0m68 100h0m-93-95h0m-42-7h0m121 21h0m-103-31h0m-42 59h0m70 1h0m-66-30h0m155 24h0m-55 38h0m-120-41h0m75-38h0m23 188h0m14-183h0m-46 168h0m-69-118h0m0 13h0m169-65h0m-128 161h0m-42-99h0m28-56h0m47-15h0m-72 58h0m-13 42h0m47 81h0m26-175h0m47 127h0m48-133h0m10 102h0m-15-91h0m13 6h0m-160 34h0m194 35h0m-28 73h0m-19-124h0m-63-43h0m-23 31h0m-65 29h0m25 125h0m167-109h0m-159-39h0m2-27h0m-6 158h0m14-24h0m115 31h0m-136-10h0m70 22h0m-95-120h0m80-72h0m-43 16h0m72-4h0m68 150h0m-33 29h0m0-31h0m-23 57h0m33-195h0m-137 9h0m73 166h0m11 6h0m85-153h0m-4 3h0m-60-43h0m-112 43h0m84 1h0m-19-32h0m7 55h0m29-37h0m-27-35h0m16 31h0m-34-27h0m-36 39h0m122-25h0m-138 23h0m36 33h0m109-42h0m-122 5h0m-15-11h0m119-13h0m-87-6h0m32 194h0m27-197h0m-79 72h0m140-39h0m31 18h0m-158 138h0m-11-76h0m72-102h0m58 150h0m-162-108h0m64-55h0m101 19h0m-34 63h0m30-68h0m-62 4h0m-6 183h0m10-146h0m43 104h0m50-52h0m-209-18h0m112 7h0m-43-70h0m67 1h0m-99-3h0m31-5h0m-21-3h0m41 16h0m56-19h0m24 12h0m-47-26h0m-19 186h0m75-34h0m-144-96h0m122-46h0m-38 13h0m88 36h0m-117-39h0m65 143h0m-66-162h0m119 66h0m-64-41h0m72 91h0m-84-88h0m-10-37h0m94 94h0m-190 16h0m120-89h0m-55 174h0m124-121h0m-59 107h0m5-157h0m-62 2h0m-57 129h0m45-138h0m26 28h0m18-16h0m9-1h0m-61 17h0m85 124h0m19-139h0m28 64h0m-175-50h0m27 151h0m143-55h0m4 2h0m-104-82h0m110 52h0m-10-39h0m-149 111h0m-20-132h0m79-22h0m35-18h0m-138 117h0m31-84h0m133 33h0m-134-43h0m150 18h0m25 63h0m-38-87h0m-115 173h0m-5-183h0m112 38h0m1 89h0m-125 40h0m9-136h0m-28 83h0m21-91h0m57 145h0m87-45h0m-75-126h0m-103 100h0m190 4h0m-190-61h0m151 17h0m23 60h0m-160-103h0m102 14h0m-63-16h0m112 22h0m17 98h0m-6 19h0m-12-102h0m-63-63h0m-20-5h0m111 96h0m-36 1h0m28 26h0m-20 70h0m-40-67h0m29-61h0m-133 82h0m46-19h0m12-111h0m65 43h0m24 133h0m-136-152h0m-31 55h0m76-33h0m-42-33h0m-4 117h0m-39-45h0m52-72h0m-36 26h0m37 139h0m46-177h0m73 12h0m12 43h0m-96-53h0m-14 183h0m7 7h0m-81-126h0m28-52h0m-15 133h0m82-169h0m84 45h0m-137-20h0m7 11h0m74-2h0m-66 161h0m28-163h0m99 17h0m-152-14h0m52-1h0m34 178h0m-68-184h0m130 21h0m-164 78h0m55 69h0m9-185h0m-51 127h0m55-115h0m108 33h0m-113 30h0m95 67h0m-6 32h0m-34 12h0m-66-161h0m45-20h0m12 192h0m-55-46h0m62-157h0m-130 121h0m30-102h0m143 10h0m-171 66h0m64 78h0m9 11h0m16-13h0m110-47h0m-188-46h0m88-34h0" stroke="#d66fdb" stroke-width="3.8" stroke-linecap="round" fill="none"/>
<path transform="scale(.5)" d="M950 522h0m6-193h0m-103 177h0m-52-115h0m149-41h0m-92-14h0m25-5h0m101 35h0m-13-4h0m24 77h0m17-6h0m-163-59h0m-40 83h0m13-99h0m164 121h0m-42-1h0m43-101h0m-112 117h0m47 27h0m3-203h0m-94 33h0m-2 27h0m37-48h0m-11 27h0m152 68h0m-174-25h0m-22 28h0m171-53h0m-109-22h0m103 12h0m-37-15h0m-77 138h0m130-24h0m-176-16h0m99 72h0m-112-82h0m130 84h0m-58-159h0m124 13h0m1 24h0m-145 43h0m139-16h0m-12-58h0m3 28h0m-86 130h0m26-171h0m17-14h0m22-3h0m-96 2h0m55-13h0m-78 24h0m-25 32h0m-12 3h0m104-35h0m92 52h0m-191 2h0m51-23h0m139 1h0m-135 138h0m110-21h0m-125-34h0m126-25h0m14-27h0m-11-62h0m-120 1h0m88-6h0m-7 129h0m-118-35h0m-8-65h0m89 149h0m106-120h0m-198-3h0m204 41h0m-100-117h0m-64 24h0m-31 35h0m64-44h0m-14 6h0m36-32h0m-103 73h0m142-32h0m-109-16h0m-4 64h0m147-44h0m-75 88h0m100-70h0m-81 150h0m78-81h0m-92-29h0m-99-9h0m54 111h0m39-169h0m-68 13h0m105-34h0m41 100h0m-180-8h0m9-5h0m176-56h0m-30-15h0m-38-11h0m-80 94h0m85 82h0m-30-123h0m61 57h0m-145-32h0m18-32h0m112-52h0m-36 120h0m-86-60h0m164 42h0m-176-61h0m144 100h0m-142-83h0m-2 54h0m-7-23h0m-1 17h0m39 68h0m-3-67h0m114 70h0m-91-171h0m152 82h0m-58 56h0m-148-19h0m25-52h0m179-30h0m-119 117h0m-30 15h0m-26-141h0m100 154h0m-25-176h0m-66 27h0m146 5h0m-80 82h0m-22-137h0m6 30h0m-49 10h0m46-37h0m110 46h0m-153 7h0m140 109h0m-76-159h0m-36 8h0m75 15h0m44 86h0m-65-104h0m-63-7h0m-30 13h0m-13 34h0m96-40h0m91 75h0m-180 12h0m124 33h0m-156-39h0m2 38h0m2-16h0m24-21h0m130-82h0m-2 38h0m-138 57h0m42-79h0m84-19h0m54 75h0m-6 17h0m-32-75h0m-91 74h0m131 14h0m-2-71h0m-74 156h0m-21-200h0m-76 168h0m150-87h0m-28-66h0m59 74h0m-135-19h0m67 10h0m40-52h0m6 2h0m4 72h0m3 5h0m-87 54h0m92-6h0m-118-137h0m94 132h0m-141 26h0m123-166h0m-145 124h0m109-99h0m-18 171h0m69-57h0m-19 47h0m-16-182h0m13 1h0m7 159h0m-95 26h0m-16-176h0m35 12h0m-52 100h0m-14-15h0m111 87h0m14-3h0m-63-7h0m-26-182h0m121 96h0m39-26h0m-117 58h0m18 60h0m-61-46h0m77 51h0m52-172h0m-111-26h0m19 59h0m65 108h0m-120-127h0m71 160h0m-84-154h0m165 31h0m-61-3h0m67-30h0m20 64h0m-149-95h0m96-5h0m-56-24h0m-28 19h0m31 0h0m-66 56h0m83 140h0m68-107h0m10-29h0m-18 2h0m29-5h0m-120-48h0m70 62h0m-38-66h0m-92 52h0m170 85h0m-61-148h0m7 1h0m-134 60h0m49-28h0m43 37h0m61-40h0m27-3h0m-11 142h0m-180-59h0m206-45h0m-55-38h0m-50 142h0m-47-140h0m140 8h0m-27 98h0m-55-144h0m62 38h0m-88-32h0m7 177h0m76-11h0m-66-146h0m4 166h0m50-169h0m-85 3h0m101 103h0m-99-99h0m68 57h0m66 43h0m-39 43h0m-150-47h0m172 50h0m-140-129h0m-29 8h0m170 96h0m-21-126h0m-38 50h0m23-19h0m-107 106h0m9-133h0m140 39h0m-170 75h0m19-117h0m165 48h0m-205 44h0m151 50h0m-122-63h0m174-20h0m-7 58h0m-158-122h0m7 30h0m80-47h0m-98 30h0m63-21h0m38 195h0m-114-69h0m31 22h0m125-96h0m26 36h0m-76 107h0m26-174h0m-101-24h0m-9 26h0m61-31h0m-77 30h0m141 26h0m-74-38h0m-84 73h0m105-91h0m-37 28h0m2 176h0m31-190h0m-87 65h0m172 82h0m-9-39h0m-105-123h0m-29 148h0m32 40h0m71-82h0m-26 108h0m-27-23h0m22-31h0m77-40h0m-4 38h0m-92-157h0m51 34h0m-119 8h0m79-46h0m12 104h0m73 15h0m-44 40h0m4-88h0m-95-44h0m78 10h0m49 7h0m-188 65h0m83-95h0m-59 19h0m101-10h0m17 160h0m-51-181h0m-57 190h0m-4-159h0m161 29h0m16 28h0m-122 94h0m-18-168h0m3 173h0m118-134h0m-97 83h0m-19-106h0m108 44h0m3-19h0m-133 0h0m35 54h0m-21 74h0m41-177h0m51 68h0m-76-72h0m87 26h0m-69 157h0m-27-148h0m26-30h0m-75 152h0m113 45h0m-50-10h0m3-182h0m57 184h0m-24-171h0m-38-5h0m99 47h0m-172 25h0m-4 9h0m127-94h0m-30 13h0m74 135h0m-70-156h0m-92 53h0m36 109h0m0-136h0m154 47h0m-21 95h0m-36-118h0m-108-12h0m-20 119h0m125-131h0m-75 177h0m36-183h0m64 28h0m-68-37h0m-49-1h0m29-11h0m-45 93h0m144 65h0m7-39h0m-12-71h0m-116 127h0m35 30h0m-65-136h0m31-51h0m75-6h0m26 27h0m-32-37h0m-131 78h0m4 4h0m53-66h0m91 121h0m-82-130h0m17 10h0m-61 146h0m42-44h0m80-35h0m18-66h0m-164 101h0m136-102h0m-69 113h0m49 12h0m-89 4h0m72 49h0m-79-43h0m14-1h0m45-140h0m23-12h0m14 147h0m61-25h0m-175-34h0m185-19h0m-134 107h0m28-56h0m0-2h0m115-49h0m-93 112h0m-77-145h0m84-8h0m-77 26h0m146 14h0m-156 102h0m186-81h0m-34 97h0m14-129h0m-117-50h0m-34 143h0m147 21h0m-27-107h0m14 86h0m-11-74h0m2-26h0m-121 124h0m48-146h0m-1-14h0m94 157h0m-70 36h0m-12-192h0m-1 186h0m-29-176h0m8-7h0m-16-9h0m76 20h0m-77-19h0m-35 48h0m77 56h0m3-94h0m-6 18h0m99 119h0m-86-56h0m-62 82h0m124-162h0m-130 6h0m-25 25h0m51-40h0m1 108h0m98-68h0m-54 7h0m13-57h0m66 74h0m-96 99h0m51 26h0m23-150h0m-173 45h0m76 92h0m-18-160h0m61-11h0m-76 171h0m151-24h0m-38-12h0m-17-136h0m54 94h0m14-15h0m-177-51h0m171 103h0m-31-120h0m-93 179h0m77-189h0m-108 132h0m26-146h0m-17 36h0m104 0h0m-40 145h0m59-136h0m-20 137h0m-121-118h0m56-29h0m-27-31h0m110 18h0m-175 69h0m32 91h0m60-177h0m-42 61h0m-13 94h0m5-6h0m161-15h0m-6-73h0m-190 29h0m156-58h0m-132 88h0m-27-55h0m193 97h0m-44-136h0m23 65h0m-150-28h0m7 25h0m165-24h0m-135-67h0m87 8h0m12 45h0m-19-30h0m41 136h0m-26-134h0m-119 15h0m43-23h0m-62 38h0m184 54h0m-132 82h0m3-125h0m63-71h0m20 115h0m-147 41h0m197-28h0m-56 37h0m-88-126h0m-22 22h0m-27 6h0m135-22h0m-89-33h0m18 9h0m7 186h0m101-167h0m-140 124h0m96-137h0m-50 178h0m-93-117h0m75 100h0m87-21h0m-83-98h0m81-54h0m-55 6h0m-75 18h0m80-39h0m-39 11h0m138 96h0m-66-88h0m4-2h0m-85 79h0m130-28h0m-71-52h0m62 34h0m-71-5h0m-73 87h0m158-64h0m-156-13h0m-36 24h0m162-33h0m-94-13h0m-62 66h0m134 85h0m-58-136h0m-26 104h0m43-129h0m38-10h0m18 41h0m-32 23h0m1-44h0m-17-11h0m24-9h0m-94 152h0m163-68h0m-21-67h0m-12 78h0m-178-10h0m33 77h0m-1-3h0m125-158h0m-68-10h0m-76 66h0m112-65h0m61 128h0m-36-98h0m-27-25h0m-31 69h0m19-17h0m-57 137h0m30-187h0m-8 151h0m35-161h0m104 86h0m-137-80h0m49 101h0m-116-44h0m178-2h0m-23-44h0m-17 6h0m-127 69h0m126-86h0m-7 9h0m50 157h0m-171-100h0m134 129h0m37-42h0m-123-128h0m4 168h0m100-12h0m8-22h0m11-30h0m-58 61h0m18-176h0m46 69h0m-26-30h0m-37-54h0m-130 79h0m129-75h0m-123 86h0m136-66h0m-90 0h0m94 162h0m-105-125h0m95-33h0m-47-6h0m40 109h0m10-126h0m-127 56h0m47 127h0m153-99h0m-117-86h0m0-13h0m31 214h0m-20-69h0m-97-73h0m59-64h0m-7 125h0m-35 3h0m108 50h0m-11-163h0m-60 1h0m62-5h0m17-13h0m-125 64h0m57 130h0m56-202h0m-64 43h0m-66 62h0m45-68h0m141 84h0m10-52h0m-80 59h0m-35-120h0m65 21h0m50 33h0m-193 32h0m23-20h0m142 86h0m-1-128h0m3-1h0m-48 49h0m47 79h0m-35-150h0m-134 122h0m182 40h0m-142 0h0m130-132h0m-8 8h0m-131 110h0m120-110h0m-102-3h0m53-24h0m104 67h0m-57 103h0m-127-114h0m118-54h0m-47 109h0m-60-94h0m-17 89h0m66 35h0m95-82h0m-37-46h0m-81-3h0m-36 64h0m148-43h0m0 141h0m-68-169h0m46 6h0m-105 171h0m12-169h0m142 95h0m-103-109h0m-71 99h0m39-52h0m81 111h0m23-36h0m-76-134h0m42 21h0m-77 132h0m149-58h0m-155-65h0m82-4h0m-99 99h0m7 31h0m91-112h0m-8-25h0m-43 66h0m-62 37h0m179-46h0m-142-34h0m-7-10h0m40-7h0m36 11h0m-93-1h0m138 5h0m-97 160h0m107-83h0m-87-118h0m-6 209h0m7-197h0m90 43h0m-3-10h0m1-13h0m-68-18h0m-4 187h0m2-198h0m-4 7h0m96 105h0m-61-65h0m-113 130h0m136-155h0m-6 0h0m-158 65h0m127-77h0m-128 99h0m131 4h0m31 68h0m15-119h0m-147 42h0m12-66h0m141 120h0m-6-136h0m-135 138h0m114-137h0m-57-19h0m-52 20h0m69 50h0m-65-71h0m75 190h0m4-185h0m-3 23h0m13-9h0m-21 190h0m-24-107h0m-96 7h0m85 50h0m-22 13h0m122-58h0m-63 90h0m3-205h0m22 23h0m-126 124h0m-2-108h0m121-19h0m10 13h0m-79 77h0m-34-62h0m26-13h0m34 158h0m-89-116h0m100 127h0m68-185h0m-128 161h0m-42-99h0m168 31h0m-2-85h0m-164 35h0m174 97h0m-23-140h0m-64 175h0m32-187h0m-28 44h0m-19-32h0m25 14h0m59 1h0m-105-25h0m-7 186h0m56-173h0m0 78h0m101-31h0m-173 81h0m98-127h0m71 66h0m-148 101h0m143-55h0m0-67h0m-149 111h0m149-64h0m-39-44h0m-98-45h0m112 22h0m-64-48h0m42 55h0m-143 36h0m30 51h0m-39-45h0m88-82h0m-75 145h0m166-124h0m-129-17h0m130 21h0m-109 147h0m121-140h0m-24 129h0m-34 12h0m-102-173h0" stroke="#a448b6" stroke-width="3.2" stroke-linecap="round" fill="none" opacity="0.45"/>
<circle cx="453.6" cy="211.3" r="54" fill="none" stroke="#2f8a3c" stroke-width="1.1"/>
<circle cx="454.3" cy="211.3" r="30.5" fill="none" stroke="#2379b6" stroke-width="1.05"/>
<text x="454.3" y="146.6" text-anchor="middle" font-family="Liberation Sans, sans-serif" font-weight="bold" font-size="11.4" fill="#111">10bp Tail</text>
<path transform="scale(.5)" d="M1132 338h0m34 119h0m-21-136h0m-18 34h0m-45 67h0m195 56h0m-185-77h0m196-20h0m-146 79h0m102-25h0m-129 67h0m67-12h0m21-138h0m-79 102h0m11-110h0m149 33h0m-132 143h0m-26-136h0m124 11h0m33 7h0m-188 69h0m20-58h0m74 117h0m-104-147h0m65-50h0m-54 136h0m20-118h0m12 154h0m19 16h0m-14-160h0m36 60h0m-36 75h0m160-75h0m-166-40h0m66 147h0m-76-121h0m48 22h0m-9 86h0m101-137h0m-96 12h0m130 41h0m-162 34h0m35 53h0m-54-30h0m125 32h0m10-125h0m-125 24h0m153 71h0m-31-119h0m51 62h0m-96-25h0m3-92h0m8 12h0m-125 95h0m188-4h0m-70 9h0m-81 56h0m-35-87h0m33-46h0m154 50h0m-21 1h0m-63-59h0m-5 176h0m46-24h0m13-134h0m-150 42h0m128-49h0m-119 80h0m20 69h0m63-161h0m66-6h0m-42 181h0m-114-64h0m177-47h0m-61 25h0m53 8h0m18 31h0m-26-16h0m-60-77h0m2 132h0m89-126h0m-67-8h0m-19-35h0m-60 35h0m89-49h0m-128 90h0m20 25h0m-10-55h0m147 87h0m-16 8h0m-118 0h0m10-131h0m96-18h0m-41-4h0m55 49h0m49 36h0m-162 50h0m103 3h0m-53 61h0m-10-154h0m61-2h0m-31 146h0m-24-13h0m42-182h0m57 81h0m-10 9h0m17 5h0m-65-91h0m-79 113h0m95-96h0m-77-15h0m26 178h0m-93-47h0m182 19h0m-41-79h0m28 60h0m-124-123h0m157 87h0m-51-50h0m-159 48h0m182 54h0m-19 28h0m-66 5h0m5-133h0m-94 52h0m186 51h0m-89-159h0m23 197h0m71-70h0m-64-125h0m7 180h0m49-16h0m-56 32h0m-52-18h0m-4-175h0m38 202h0m27-49h0m-132-35h0m70-61h0m25 141h0m-93-74h0m32-110h0m72-20h0m-117 133h0m63-59h0m1 77h0m-13-112h0m-33 125h0m87 15h0m98-55h0m-92 68h0m70-54h0m-143 38h0m136-152h0m-15 173h0m-63-62h0m-78 13h0m140-133h0m-107-6h0m-47 98h0m139-21h0m-87 74h0m63-148h0m-44 195h0m127-82h0m-153-102h0m-25 121h0m61-138h0m21 184h0m-89-71h0m77-81h0m-73 19h0m121-48h0m20 20h0m-72 169h0m-75-47h0m23-34h0m-6 36h0m24-4h0m36 58h0m-78-160h0m151-18h0m-132 41h0m-16-22h0m79 14h0m-18 102h0m122-31h0m-123-45h0m53-85h0m-30 39h0m-44-31h0m37 185h0m-70-153h0m-5 11h0m67 136h0m-9-192h0m52 4h0m55 163h0m-72-150h0m36 24h0m-30-9h0m-38 81h0m39-96h0m65 70h0m-100 104h0m32 21h0m-56-11h0m44-46h0m100-77h0m-74-74h0m69 130h0m-35-94h0m-8-27h0m14 131h0m-89-91h0m-50-24h0m17 166h0m54-136h0m104 54h0m-182 71h0m122-177h0m29 76h0m-161 57h0m172-54h0m5 46h0m-1-93h0m-156 23h0m84 101h0m-11-143h0m49 171h0m25-79h0m-91-85h0m-27 40h0m85-31h0m-67 157h0m-10-170h0m31 176h0m-55-177h0m-40 90h0m122-108h0m-75 190h0m94-12h0m33-133h0m-102 51h0m58-75h0m-121 72h0m63-94h0m52 38h0m-102-4h0m77 7h0m-68 95h0m146 38h0m6-5h0m-135 26h0m36-5h0m-70-138h0m24-16h0m47-30h0m-87 64h0m94-75h0m-78 94h0m91 98h0m56-96h0m33-37h0m-48-42h0m-112 24h0m-36 96h0m20 38h0m185-46h0m-184 28h0m-22-53h0m27-71h0m-6 94h0m95 10h0m-115-66h0m187 49h0m-10-61h0m-117-38h0m-16 17h0m-11 21h0m11-6h0m-9-22h0m14 162h0m38-5h0m-6-39h0m-49-76h0m-3-22h0m152 65h0m-133 49h0m65-120h0m-85 23h0m118-9h0m-74 113h0m65 34h0m-68-4h0m129-102h0m-89-75h0m-68 143h0m-54-53h0m214-27h0m-19 48h0m4 15h0m-164-123h0m-17 45h0m142-53h0m-117 11h0m25 165h0m16-137h0m-73 40h0m150-73h0m4 0h0m-43 185h0m84-151h0m-170-25h0m131-14h0m-136 22h0m47-7h0m138 63h0m-109-68h0m3-29h0m-33 192h0m-37-115h0m123-19h0m-99-21h0m-50 108h0m20-3h0m137 40h0m11-159h0m-123-2h0m62-2h0m31-2h0m-31 23h0m-85 8h0m19-10h0m72 122h0m47-101h0m-62-47h0m-114 88h0m7 8h0m34-29h0m49 39h0m47-20h0m-10-84h0m-73 142h0m64-149h0m86 73h0m-95-78h0m-71 94h0m122 103h0m-104-4h0m12 6h0m94-184h0m-109 82h0m109 94h0m27-139h0m-169 83h0m87-112h0m77 132h0m-140-27h0m157-56h0m-12 70h0m-98 25h0m35-157h0m-99 147h0m161-10h0m-130-139h0m60 28h0m-45-21h0m81 19h0m-83-17h0m76 184h0m-111-119h0m147 101h0m-103-156h0m26 140h0m79-136h0m-127-26h0m110 119h0m49-36h0m-49 69h0m-18-151h0m45 62h0m31 25h0m-162-29h0m107 117h0m-73-157h0m5 187h0m4-6h0m-87-153h0m73 147h0m-71-109h0m-10 54h0m89 56h0m54-38h0m-119-80h0m98-70h0m75 106h0m-190-58h0m82 140h0m49-174h0m-45 148h0m-89-89h0m166 102h0m-58 5h0m-99-133h0m110 71h0m-121 3h0m36-111h0m-25 77h0m144 70h0m-14 18h0m-138-104h0m2 20h0m183 20h0m11-14h0m-104 84h0m46 6h0m-85-42h0m74-142h0m4 129h0m55-55h0m-178 72h0m80 31h0m-84-130h0m14 95h0m8 22h0m-8-39h0m170-17h0m-170-9h0m-8-62h0m180 54h0m-84 96h0m-82-30h0m131-13h0m-161-78h0m149-24h0m-76 44h0m-48 64h0m103 35h0m-44-197h0m102 78h0m-87 25h0m111 2h0m-2-21h0m-170-75h0m-30 152h0m116-35h0m14 48h0m16-29h0m51-14h0m-165-92h0m-41 81h0m184 14h0m-51-131h0m23 41h0m-124-5h0m18-29h0m151 44h0m-141 129h0m3-83h0m52-19h0m-60 102h0m4-101h0m111-67h0m-15 163h0m-91-2h0m116-153h0m-70-21h0m-110 80h0m10 7h0m68 78h0m45-167h0m22 19h0m65 90h0m-98 50h0m-7-18h0m-8-133h0m-16 179h0m6-186h0m-22 15h0m-2-8h0m140 121h0m-131-104h0m119 43h0m-44-10h0m39 46h0m-79-88h0m10 176h0m-77-16h0m10-156h0m158 112h0m-15-72h0m-30-24h0m-32-30h0m-67 184h0m131-29h0m-191-45h0m59 87h0m111-104h0m-103 104h0m40-34h0m2-163h0m32 26h0m-45-22h0m21 32h0m5-41h0m57 65h0m-143 96h0m15-77h0m69 89h0m-82-18h0m94-141h0m-10 169h0m-61 7h0m17-192h0m-35 33h0m124 36h0m28 18h0m-172 82h0m159-17h0m23-41h0m-110 20h0m99 17h0m-63-116h0m-133 36h0m53 92h0m-20 25h0m45-143h0m64 166h0m36-170h0m-164 79h0m151-80h0m0-22h0m-9 35h0m-34 154h0m-11-201h0m52 76h0m-39 126h0m46-167h0m-39 142h0m57-33h0m-38-113h0m-26-18h0m-59 183h0m-61-63h0m114 64h0m29-185h0m-139 46h0m101-52h0m81 139h0m-163-116h0m1 127h0m167-53h0m16-7h0m-207 54h0m148-101h0m-3 137h0m-122-70h0m-18-58h0m100-46h0m-63 31h0m-35 26h0m67 101h0m110-115h0m-58 66h0m22-78h0m-139-8h0m16 137h0m99-176h0m51 39h0m-166 93h0m59 29h0m-33-47h0m31-112h0m-23 20h0m17-16h0m145 101h0m-27 1h0m8-41h0m-27-34h0m-27-16h0m51 144h0m-181-25h0m64-135h0m-48 100h0m67-68h0m31 154h0m-20-109h0m73 9h0m-137 78h0m134-2h0m33-50h0m-131-90h0m99 163h0m-142-132h0m8-26h0m170 90h0m-141-112h0m93 189h0m-128-26h0m110-56h0m17-23h0m-92-44h0m-47 120h0m-6-82h0m41 104h0m93-149h0m-2-31h0m-139 119h0m113-129h0m-108 61h0m169 94h0m-103 46h0m116-82h0m-33-83h0m-149 49h0m12-16h0m25 114h0m19-8h0m91-16h0m-133-80h0m158-51h0m-124 135h0m92-142h0m-150 60h0m9 68h0m105 44h0m36-173h0m4-6h0m-85 52h0m-50-20h0m130 149h0m-141-50h0m167 27h0m-49 41h0m57-128h0m7 56h0m-82 43h0m10-166h0m-78 75h0m12 14h0m15-103h0m17 210h0m21-189h0m74 137h0m-86 35h0m50-15h0m-104-145h0m91-34h0m33 189h0m6-43h0m-6-127h0m-140 139h0m27 15h0m-37-40h0m193-72h0m-128 143h0m62-29h0m2-166h0m-121 60h0m72-31h0m-12 156h0m60-146h0m-130 106h0m47-144h0m-57 130h0m27-50h0m6 46h0m-1-58h0m155 28h0m-147-83h0m46-25h0m93 36h0m-44 120h0m51 2h0m-175-71h0m161 71h0m-53-128h0m35 3h0m-155 69h0m160-61h0m12 20h0m-57 146h0m-42-192h0m-31 43h0m44 148h0m34-10h0m13-66h0m59-22h0m-181 9h0m-10-48h0m206 44h0m-114 50h0m45-145h0m-87 182h0m2 4h0m1-195h0m11 17h0m-34 117h0m10-101h0m18 88h0m-23-76h0m146 87h0m-122-113h0m106 45h0m-136 13h0m49 56h0m41-133h0m-1 11h0m-4 190h0m61-56h0m-74 57h0m32-136h0m-127 86h0m59 44h0m-51-49h0m101-120h0m-47 143h0m105-45h0m31-32h0m-151-83h0m143 53h0m-3-24h0m-17-20h0m-175 35h0m11 71h0m122-85h0m-2-31h0m68 31h0m-103 2h0m97 103h0m-121-145h0m-65 145h0m21-98h0m74 129h0m53-159h0m45 84h0m-176 43h0m1 26h0m93 16h0m15-180h0m-94 41h0m165 77h0m-117-134h0m-81 53h0m48-9h0m0 152h0m-41-66h0m86-109h0m-95 35h0m123-4h0m79 51h0m-189 55h0m61-159h0m-58 78h0m70 65h0m101-70h0m-31-54h0m-110-1h0m-45 47h0m5 86h0m14-18h0m169-76h0m-157 105h0m108 33h0m-100-161h0m71 180h0m-73-184h0m29 72h0m75-81h0m61 91h0m-111 89h0m-77-27h0m-8-125h0m141-31h0m-142 37h0m137-27h0m19 122h0m-110-140h0m48 177h0m-72-139h0m107-29h0m35 157h0m-17 12h0m-62 22h0m-7-193h0m59-4h0m46 55h0m-23-43h0m-30 12h0m55 70h0m-183 33h0m25-122h0m134 149h0m-58-155h0m79 125h0m-151-85h0m88-45h0m-99 58h0m93-38h0m73 117h0m-199-26h0m56-36h0m-35 44h0m110-118h0m9 6h0m-75 13h0m130 57h0m-183 72h0m168-113h0m-36-18h0m-16 143h0m-62 29h0m104-35h0m-57-143h0m47 11h0m-149 61h0m53 106h0m132-102h0m-160 64h0m134-28h0m-94 14h0m131-39h0m-185-17h0m148-54h0m-162 86h0m79-114h0m-42 92h0m80-85h0m80 74h0m-127-87h0m84 84h0m-132-16h0m158 18h0m-21-64h0m-43-15h0m61 151h0m-116-121h0m121 91h0m-131-50h0m21-69h0m-81 119h0m144-111h0m-30-10h0m85 58h0m-187 10h0m16 16h0m30-47h0m-18-15h0m-10 133h0m123-141h0m48 62h0m-162 102h0m2-155h0m33 120h0m-75-68h0m186-32h0m16 87h0m-136 39h0m102-88h0m-127-66h0m20 130h0m-15-110h0m101-4h0m-77-24h0m96 14h0m19 15h0m17 28h0m8 34h0m-48-77h0m-31-7h0m23 149h0m-4-146h0m-114-1h0m148 134h0m-107-87h0m5-50h0m116 105h0m-192-12h0m38-87h0m-22 142h0m61-167h0m129 114h0m-168-88h0m98 22h0m22-13h0m-79 153h0m72-167h0m26 140h0m-37-141h0m-80 83h0m94 19h0m-10 65h0m-108-163h0m-7 26h0m13-28h0m90 17h0m-26 116h0m-69-39h0m-18 51h0m124 0h0m-128-74h0m157 37h0m-155-88h0m154-11h0m-81 170h0m90-44h0m-129-9h0m-23-125h0m94 175h0m-38-187h0m121 113h0m-103-113h0m-37 18h0m-52 130h0m40-134h0m28-8h0m-81 109h0m198-8h0m-100-41h0m27-60h0m43 12h0m-9-14h0m28 154h0m5-119h0m-71 50h0m47-18h0m-168-3h0m142 121h0m23-116h0m-173 23h0m83-50h0m98-18h0m-79 144h0m-84-78h0m164-5h0m-167-18h0m92 77h0m-96-100h0m-9 67h0m175 23h0m-66-150h0m44 153h0m18 16h0m-158-49h0m152-101h0m-6 41h0m-15 139h0m-113-147h0m49 80h0m126 9h0m-95-51h0m-48 111h0m14-190h0m-30 103h0m162-4h0m-200 26h0m38-117h0m26 183h0m125-149h0m-33 0h0m-117-37h0m11 191h0m-61-109h0m158 96h0m-131-61h0m56-105h0m129 64h0m-110 103h0m36-118h0m1-72h0m31 59h0m-148 103h0m2-12h0m151-23h0m-171 1h0m128-117h0m71 109h0m-202-12h0m68-93h0m-37 29h0m38-26h0m-33 17h0m166 21h0m-23-33h0m-122-5h0m19 169h0m97-67h0m-170-47h0m83 135h0m-9-8h0m92-18h0m3-12h0m26-122h0m-130 137h0m28-73h0m15 18h0m-93 18h0m35 33h0m40-186h0m-71 97h0m82 70h0m-79-122h0m10 133h0m28-164h0m118 26h0m-81 27h0m65 67h0m-13 55h0m-120-161h0m87-23h0m-28 93h0m112-50h0m-13-10h0m-113 7h0m-31-24h0m-4 66h0m117-40h0m-77 155h0m-72-82h0m151 18h0m6-73h0m-107-57h0m-27 26h0m104-30h0m-16 182h0m44-156h0m-137 49h0m82 101h0m-91-65h0m143-63h0m-29 145h0m-7-178h0m-38-15h0m-68 46h0m101 142h0m6 5h0m3-182h0m-118 113h0m61 48h0m-51-134h0m93-43h0m1 97h0m-19-92h0m-44 191h0m136-128h0m-69 14h0m-100-30h0m170 16h0m-62-59h0m-123 113h0m-2-23h0m185-40h0m-123 71h0m3 70h0m-25-176h0m14 65h0m59-84h0m70 54h0m-104 145h0m-55-43h0m24-86h0m32 137h0m-29-198h0m-8 133h0m17-136h0m114 34h0m-173 86h0m166 28h0m-63-140h0m-7-5h0m-93 53h0m181 17h0m-188 6h0m211 38h0m-8-60h0m-30 43h0m34-43h0m-94 111h0m21-103h0m-95-42h0m128 111h0m30-4h0m-111-138h0m17 37h0m15 165h0m0-6h0m-46-18h0m125-122h0m-32 111h0m1-143h0m-88 168h0m18-7h0m90-127h0m-106-60h0m76 14h0m0 172h0m42-70h0m-24-96h0m-100-1h0m42-12h0m-8 197h0m-51-37h0m69-154h0m-105 105h0m-15-53h0m73-58h0m56 183h0m52-84h0m4-24h0m-172-15h0m127-59h0m23 29h0m-166 65h0m28 40h0m95 62h0m-94-63h0m-25-3h0m58-125h0m-31 70h0m172 39h0m-69 72h0m-86-156h0m-34 101h0m63-119h0m-10-2h0m127 42h0m-30 112h0m41-98h0m-112-59h0m65 174h0m-42 6h0m52-68h0m-59-129h0m23 196h0m-18-193h0m-95 167h0m65-138h0m-66 142h0m100-126h0m78 26h0m5 75h0m-175-64h0m97-64h0m22-10h0m-9 196h0m59-145h0m-57 145h0m-48-170h0m7-45h0m23 200h0m14-182h0m-23 8h0m-81 27h0m12 142h0m116-173h0m-133 60h0m58-35h0m102 4h0m-146-21h0m112-2h0m-152 72h0m85-89h0m-84 90h0m211-10h0m-103-64h0m5 167h0m84-49h0m-158-82h0m138 126h0m25-37h0m-191 3h0m94-142h0m-31 195h0m80-180h0m-115 22h0m116-29h0m46 33h0m-87 1h0m-57-34h0m108 127h0m13-106h0m-51 149h0m69-47h0m-110-86h0m-94 41h0m15-15h0m84 63h0m-55-106h0m130 108h0m-21 35h0m-88 28h0m113-145h0m-35 123h0m67-85h0m-54-22h0m-151 32h0m129-102h0m57 38h0m21 76h0m-177-64h0m110-53h0m-104 152h0m41-136h0m41-18h0m62 49h0m3-10h0m13 38h0m-103 128h0m98-39h0m-136-138h0m148 129h0m-49 14h0m32-122h0m-156 119h0m3-132h0m15 115h0m145 16h0m-142-117h0m150 46h0m-165 53h0m-10-102h0m71 90h0m90-68h0m-154 16h0m-16 60h0m116 53h0m69-59h0m-15-101h0m-105-20h0m62-4h0m-113 169h0m61-158h0m-46 162h0m-30-73h0m107 82h0m12 5h0m47-160h0m-61-35h0m40 30h0m18 129h0m21-71h0m-191 39h0m133-97h0m13 36h0m-38-59h0m15 174h0m55-45h0m-138 56h0m152-55h0m-86 73h0m77-129h0m-14 72h0m-79 28h0m-45-85h0m-41 72h0m135 15h0m26-91h0m-30 69h0m12 28h0m55-76h0m-194 43h0m151-108h0m-61-54h0m-72 29h0m117 161h0m-102-149h0m61-8h0m62-9h0m-137 2h0m50 140h0m7 30h0m-8 6h0m73-51h0m-159-34h0m120-66h0m-78 140h0m139-17h0m-93 17h0m82-161h0m-135 95h0m0-91h0m143 101h0m-152-107h0m15 18h0m-37 59h0m21 36h0m179-68h0m-181-26h0m73 143h0m41-59h0m42-57h0m-140 101h0m129-49h0m-97 71h0m25-65h0m10-125h0m81 64h0m-97 97h0m-10 29h0m58-162h0m-130 107h0m30 18h0m130-133h0m-120 1h0m152 59h0m-185 58h0m31-28h0m33-94h0m-35 0h0m-13 169h0m105-183h0m44 29h0m-132 111h0m-19-14h0m7-60h0m79-51h0m59 4h0m11 110h0m-179-42h0m144 26h0m27 31h0m-86 48h0m45-129h0m19-30h0m-59 160h0m-39-140h0m-36 70h0m137-66h0m27 110h0m-118-150h0m51 165h0m5-173h0m-60-10h0m75 107h0m-12 101h0m0-15h0m34-112h0m-17 109h0m-59-164h0m-78 104h0m16-52h0m129-77h0m-9-9h0m-32 5h0m-64 68h0m144-20h0m12 46h0m-6 44h0m-118-104h0m-37-11h0m-15 86h0m31-85h0m-29 83h0m12 71h0m-11-115h0m88-63h0m62 55h0m-147-26h0m2 16h0m70 60h0m-26-111h0m98 107h0m-125-81h0m101 81h0m26 52h0m-40-153h0m-78 185h0m69-47h0m-1 70h0m-2-27h0m51-18h0m-11 10h0m-125 8h0m11-35h0m145-53h0m-69-37h0m-111 59h0m137 76h0m-115-140h0m103 137h0m-132-64h0m166-29h0m-29-92h0m48 136h0m-177-24h0m-6-16h0m159-57h0m32 22h0m-16-16h0m-110-22h0m27-6h0m88 32h0m-96-28h0m-76 48h0m-4 3h0m195 42h0m-187 6h0m165 46h0m-79 1h0m-4-145h0m-90 54h0m47 104h0m119-40h0m-22 26h0m-151-79h0m158-66h0m-84 5h0m111 63h0m-97-91h0m-76 45h0m19 105h0m-10 7h0m79 20h0m79-129h0m4 22h0m-174-18h0m10-30h0m79 170h0m-50-148h0m107 47h0m-101-88h0m66-4h0m65 149h0m-81-149h0m56 133h0m-144 23h0m138-75h0m-89-43h0m-46 20h0m61-41h0m-19 0h0m-39 116h0m156 28h0m-177-55h0m147-91h0m-5-6h0m-100 155h0m30-143h0m16-5h0m-69 42h0m-24 62h0m33 24h0m159-4h0m-29 49h0m-149-147h0m33-33h0m71 75h0m-52 119h0m88-160h0m-38-39h0m-98 46h0m4-1h0m24 57h0m133-67h0m-46 26h0m74 20h0m-128 86h0m125-35h0m-61-103h0m-21 159h0m-95-143h0m134-9h0m35 15h0m-29 14h0m19 93h0m-157-123h0m-27 96h0m163 32h0m-80 11h0m19-114h0m-34-17h0m38 50h0m26 101h0m12-190h0m-63 190h0m51 3h0m-74-188h0m123 30h0m-139-37h0m24 19h0m94-6h0m3 154h0m-113-163h0m110 26h0m-67 37h0m8-33h0m-40 138h0m133-65h0m-131-107h0m-48 141h0m135 26h0m-59-138h0m93 8h0m6 112h0m-112-135h0m57-17h0m37 136h0m-159-16h0m126-19h0m-134-9h0m95-75h0m83 22h0m21 67h0m-41 45h0m-1-107h0m3 101h0m-139-133h0m74 176h0m-61-157h0m79 128h0m26 26h0m-64-61h0m14 39h0m-79-86h0m95 111h0m-29 7h0m72-184h0m36 63h0m-96-63h0m75 71h0m-109 69h0m98-138h0m-7 43h0m-148 56h0m203-13h0m-18-48h0m-3-5h0m-24 103h0m-131-98h0m11-30h0m104 4h0m21 101h0m7 34h0m-173-78h0m186 32h0m-167 57h0m51-155h0m-9 132h0m-49-62h0m25 88h0m167-73h0m-10 3h0m-60-102h0m0 34h0m66 87h0m1-43h0m-200 24h0m78 98h0m-28-138h0m78 130h0m-100-57h0m-23-16h0m119-58h0m-37 143h0m-59-44h0m-9-12h0m64-125h0m-42-1h0m-36 49h0m126-51h0m32 158h0m-74 10h0m-80-146h0m108-50h0m-105 98h0m132 105h0m-15-132h0m-99-36h0m99 180h0m-30-204h0m-45 54h0m51-49h0m78 22h0m-125 18h0m118 5h0m-153 91h0m-18-18h0m156 8h0m-68-144h0m-58 25h0m77 24h0m-77-19h0m-11 126h0m134 47h0m31-37h0m-24 3h0m-105 10h0m47-163h0m-64 185h0m107-140h0m10 44h0m19 67h0m0-122h0m-160-7h0m131 117h0m-16-136h0m-75 175h0m-66-103h0m140-91h0m-20 213h0m75-121h0m-8 77h0m-94 21h0m-89-65h0m177-68h0m-3 51h0m-71-92h0m-48-7h0m93 5h0m-132 61h0m67-61h0m25 182h0m-99-51h0m110-148h0m83 87h0m-80 87h0m66-57h0m-100 36h0m-48-58h0m129-72h0m-161 96h0m102-82h0m72-1h0m14 73h0m-192-44h0m50 98h0m47-149h0m66 19h0m-48 32h0m-21 145h0m76-69h0m-73 68h0m-50-175h0m-8 92h0m-40-57h0m18 59h0m6-94h0m67 74h0m-47 30h0m69 60h0m46-144h0m-32 5h0m-116 16h0m-10-3h0m162 96h0m-167-66h0m163 61h0m-7 12h0m14-109h0m33 1h0m-11 97h0m-1 2h0m18-54h0m-203-39h0m120-72h0m10 26h0m-2 147h0m-116-15h0m-17-61h0m60-84h0m94 1h0m-104 163h0m-44-59h0m78-74h0m30-11h0m9-20h0m-69 24h0m-34 7h0m80-37h0m3 19h0m16 169h0m2-165h0m62 23h0m-157-4h0m48-49h0m66 173h0m-36 8h0m-50-120h0m97-34h0m44 64h0m-44 62h0m-61-120h0m13 112h0m-33 41h0m-70-81h0m116-89h0m57 8h0m-40 116h0m-60 32h0m135-74h0m-27 31h0m-62-1h0m-12-90h0m-85 82h0m190-43h0m-127-68h0m-59 40h0m45 135h0m70 0h0m57-129h0m-33-34h0m-83-17h0m101 159h0m27-95h0m-44 46h0m-28-99h0m-105 165h0m-33-108h0m40 22h0m-20 7h0m125-85h0m22 174h0m-18-82h0m-68-30h0m111-32h0m3 7h0m-42 116h0m-102-161h0m123 58h0m-136 100h0m69-148h0m28 172h0m-36 17h0m-18-204h0m-63 166h0m95-38h0m-63 20h0m18 36h0m-49-112h0m-11 64h0m90-113h0m-6 86h0m87-52h0m-16 121h0m-163-72h0m194-13h0m-176 59h0m65-152h0m-85 93h0m199 0h0m-69-72h0m-61 157h0m-60-118h0m150-37h0m-109 27h0m130 116h0m-55 30h0m36-144h0m-158 73h0m130 41h0m-123-50h0m78-118h0m90 66h0m-113-57h0m-65 84h0m151-66h0m-45-10h0m26 146h0m-76 30h0m95-163h0m33 103h0m-30-77h0m-114-34h0m-21 44h0m68-31h0m73-18h0m-2 99h0m5 30h0m11 38h0m-89-52h0m59-110h0m-77-21h0m103 145h0m7-26h0m7-35h0m-116-81h0m49 102h0m-21 50h0m94-88h0m-16 64h0m-108 62h0m32-6h0m58 7h0m-83-11h0m127-108h0m4-1h0m-89-75h0m-101 115h0m118-29h0m-48 94h0m-39 7h0m69-12h0m-28-117h0m20 152h0m55-102h0m-80-74h0m47-37h0m-84 155h0m87-26h0m3 78h0m-54-205h0m96 163h0m-61 41h0m5-190h0m52 93h0m-127-82h0m62 178h0m-49-100h0m144 33h0m-210-16h0m25-73h0m11 125h0m143-38h0m-38-94h0m-105 114h0m-4-7h0m133-102h0m1 2h0m-102 36h0m98-43h0m-127 57h0m29-48h0m141 21h0m-161 110h0m130-54h0m46-17h0m-131-85h0m-49 115h0m60-23h0m43 91h0m17-179h0m-63-28h0m-67 148h0m164-61h0m-39 106h0m13-128h0m29 83h0m10-65h0m-171 61h0m109-32h0m21-7h0m-57 96h0m-73-22h0m68-166h0m75 152h0m-83-162h0m-17-7h0m60 211h0m68-129h0m7 46h0m-150-118h0m-20 25h0m51 137h0m-81-69h0m37 37h0m38-134h0m-19 81h0m105 74h0m26-67h0m-2 19h0m-53-91h0m53 132h0m-40-126h0m40 138h0m-9-3h0m-78 24h0m30-142h0m17-18h0m-45-4h0m72 11h0m-10 82h0m-168-5h0m26 24h0m161-3h0m-190-20h0m44-48h0m95-55h0m-105 163h0m15 20h0m132-123h0m-66 132h0m-59-168h0m136 47h0m-179 2h0m42 89h0m-46-100h0m99 60h0m10 75h0m-56-188h0m97 85h0m-147 51h0m162 25h0m-118-160h0m90 176h0m-118-151h0m42 163h0m-44-149h0m-11 81h0m118-132h0m-23 136h0m50-5h0m-139-82h0m73-11h0m112 81h0m-163-98h0m-8 115h0m79 27h0m-106-77h0m29 91h0m114-15h0m-142-62h0m12-59h0m-4 108h0m108-154h0m33 12h0m-136 133h0m24 4h0m148 12h0m-27-140h0m-18 29h0m-142 81h0m0 6h0m58 57h0m-25-26h0m40 35h0m92-106h0m-85 117h0m-76-97h0m166-86h0m-30 166h0m-132-23h0m49-44h0m-38-29h0m46 94h0m129-73h0m-122 8h0m112 13h0m-116-126h0m133 69h0m-139-73h0m65-8h0m-95 47h0m60-50h0m-73 65h0m67 15h0m27 103h0m58-110h0m24 28h0m-151 72h0m106 5h0m-92-165h0m17-10h0m94 46h0m-127 135h0m122-11h0m-5-16h0m13 9h0m27-88h0m-63-71h0m-118 116h0m186-39h0m-163-55h0m57-35h0m89 82h0m-123 121h0m32-15h0m97-39h0m-178-47h0m179-32h0m-169 31h0m41 45h0m-33 23h0m-28-41h0m105-94h0m-102 96h0m155-15h0m-102-98h0m61-2h0m45 148h0m-100-139h0m-23-2h0m130 157h0m-44-133h0m-3 149h0m-49 19h0m-79-54h0m196-58h0m-182-9h0m53-53h0m140 90h0m-187-75h0m181 42h0m-48 91h0m-98-14h0m133-35h0m11 19h0m-115-129h0m70 153h0m-128-116h0m165-9h0m-59 103h0m-104 9h0m63-115h0m8 145h0m45-153h0m-144 60h0m158 78h0m29-13h0m-15-120h0m-154 77h0m110 86h0m17-42h0m-40-164h0m5 22h0m17 22h0m-45 123h0m-63-39h0m148-110h0m-140 160h0m61-180h0m-85 136h0m89-58h0m-50-62h0m152 103h0m-103-40h0m41-5h0m-90-29h0m37-43h0m-65 116h0m167-82h0m-145 137h0m110-158h0m-124 102h0m34-77h0m36 139h0m-43-168h0m8 164h0m6 28h0m0-16h0m-37-138h0m137-1h0m22 108h0m-23-134h0m36 97h0m-19 21h0m-166-87h0m20 96h0m13-132h0m61 17h0m51 153h0m-20-151h0m-75-21h0m77 135h0m-110-68h0m176 16h0m-25 69h0m-147 10h0m75-186h0m80 175h0m-91-169h0m41 9h0m-132 126h0m107-66h0m6 78h0m-35 53h0m68-179h0m-19 25h0m-129 45h0m-3 55h0m62 41h0m140-50h0m-82-14h0m62-86h0m-75 164h0m-76-84h0m65-116h0m84 151h0m-124 29h0m66 3h0m14-121h0m-130 17h0m-3 54h0m6-4h0m188-2h0m8-7h0m-25 15h0m0-14h0m-132-97h0m64 159h0m10 24h0m-19-208h0m25 125h0m-26-116h0m-6-8h0m33 141h0m-122-74h0m2 0h0m32-34h0m53-30h0m-66 128h0m10 56h0m49-185h0m48 171h0m-39 29h0m-20-171h0m35-30h0m-64 141h0m-33-48h0m52-54h0m53-23h0m-26-2h0m104 46h0m-3 48h0m-67 87h0m-55-173h0m69 33h0m45 108h0m10-63h0m-85-66h0m-115 89h0m10-25h0m35 31h0m78-97h0m-112 51h0m60-12h0m29-40h0m-7 164h0m30-162h0m-71-19h0m151 71h0m-110-54h0m109 111h0m-111-143h0m-24 5h0m98 184h0m-173-100h0m106 83h0m-55-62h0m65 92h0m-27-107h0m50 5h0m65-8h0m-23-21h0m-14-51h0m13 26h0m-93 126h0m-72-102h0m26 21h0m81 107h0m-116-105h0m35-65h0m150 13h0m-73 83h0m-40 63h0m32-181h0m-102 112h0m193 47h0m-16-105h0m-179 74h0m183-98h0m-53-23h0m35 165h0m41-82h0m-173-4h0m-24-9h0m96 110h0m94-98h0m-156-80h0m118 178h0m-104-178h0m109 179h0m-161-106h0m167 70h0m-98-153h0m125 169h0m-55-115h0m-135 70h0m167 36h0m-118-155h0m15 193h0m63-12h0m-22 19h0m13-23h0m-29 0h0m-58-144h0m27-34h0m22 196h0m49-93h0m-115-73h0m26-20h0m107 38h0m-126 83h0m117 56h0m48-64h0m-41 37h0m-25 41h0m-27-132h0m80 44h0m-19 58h0m-110-128h0m58-46h0m93 73h0m-86-69h0m61 37h0m1 4h0m-123 30h0m-49-8h0m163 90h0m-150-117h0m18 76h0m-19-33h0m109-87h0m-118 158h0m167-80h0m-155-16h0m109 145h0m4-92h0m54 51h0m-2-11h0m-73-102h0m21-6h0m-7 127h0m-26 12h0m45-183h0m27 104h0m2 76h0m11-126h0m-111 150h0m-14-186h0m-19 158h0m139-147h0m-102 73h0m61-46h0m-14-37h0m77 55h0m-28-53h0m-90 176h0m81-174h0m-32 43h0m-80 94h0m-5-24h0m144 20h0m-33-25h0m-75-139h0m-71 163h0m3-13h0m-4-103h0m153-22h0m-161 45h0m104-47h0m-99 103h0m62 80h0m45-198h0m-43 208h0m67-16h0m52-50h0m-42-136h0m-131 128h0m160-96h0m-150-3h0m29 139h0m56 34h0m73-94h0m-96-83h0m-73 111h0m-18-38h0m105-42h0m-76 32h0m26-72h0m22-12h0m-43 22h0m-6-1h0m130-16h0m-144 144h0m169-111h0m-169 103h0m105-142h0m-122 95h0m164 75h0m-115-16h0m-26-11h0m188-37h0m-136-106h0m84 12h0m40 73h0m-173 70h0m111 36h0m-10-199h0m-65 157h0m146-69h0m-141-82h0m-8 188h0m84-180h0m-88-5h0m-39 107h0m115 87h0m87-123h0m-69 117h0m-13-185h0m46 44h0m-171 50h0m8-13h0m-19-10h0m106-85h0m97 131h0m-7 10h0m6-52h0m-33-50h0m-161 35h0m135 100h0m-21-6h0m-107-71h0m12 88h0m102 22h0m45-79h0m-24-73h0m6 111h0m-86 6h0m75-88h0m11-36h0m-35 158h0m-4 1h0m-111-144h0m100-52h0m0 118h0m28 58h0m10 4h0m-109-162h0m115 163h0m-37 3h0m94-119h0m-42 91h0m-94 32h0m-38-172h0m75 182h0m70-85h0m2 8h0m31-29h0m-64 97h0m-126-49h0m173-109h0m-32-14h0m-38 162h0m-41-164h0m-65 112h0m11-109h0m138 83h0m-78-71h0m62 149h0m-95-170h0m147 71h0m-145-78h0m74 30h0m63 66h0m-140-95h0m58-4h0m-55 80h0m22-41h0m-31 5h0m20 38h0m-30 6h0m167-7h0m-193-41h0m106 125h0m24-117h0m68 23h0m-43-37h0m-54 161h0m-49-53h0m-66-48h0m63 68h0m93-30h0m-35-39h0m71 58h0m-24-115h0m-82 146h0m93-147h0m-157 99h0m110-143h0m-97 143h0m161 16h0m-45 45h0m-6-194h0m-125 58h0m-6 7h0m91 129h0m-58-190h0m133 163h0m24-76h0m-132 101h0m79-182h0m-19 110h0m50 48h0m-162-113h0m129-65h0m43 111h0m-1 16h0m-37-60h0m61 37h0m-35-51h0m21 89h0m-200-37h0m110 39h0m96-46h0m-41-43h0m-37 150h0m-104-57h0m160-86h0m-114 141h0m70-36h0m-138-75h0m85 98h0m99-160h0m-111 51h0m120 79h0m-64-160h0m-100 127h0m142-59h0m-114 102h0m135-70h0m-111-17h0m-38 108h0m95-4h0m-133-102h0m31 5h0m94-63h0m-100 114h0m111-27h0m-115-44h0m176 40h0m-174-61h0m-21 71h0m39 41h0m46-146h0m39 21h0m-80 50h0m35-88h0m83 21h0m23 114h0m-177-77h0m192 70h0m-68-114h0m-37 41h0m-73 128h0m-9-147h0m127 138h0m-151-79h0m209-8h0m-61-74h0m-91 23h0m43 160h0m93-32h0m-22-154h0m-120 13h0m-7 156h0m-36-45h0m88-127h0m79 114h0m-109-57h0m-23 112h0m147-136h0m-165 123h0m187-83h0m-150 99h0m113-147h0m-165 38h0m182 2h0m-147-49h0m124 108h0m-90-125h0m-52 122h0m152-32h0m-135 92h0m-39-56h0m192-63h0m-143 67h0m129 28h0m19-40h0m-187-26h0m85-85h0m-63 171h0m-2-24h0m-16-104h0m40 19h0m75-53h0m-36 117h0m78 37h0m-35-170h0m-97 40h0m153 20h0m-117-36h0m-73 63h0m32 22h0m39-95h0m83 152h0m7-126h0m-22 145h0m70-103h0m-206 38h0m179-34h0m-24 3h0m-102-78h0m64 16h0m43-16h0m-154 49h0m148 114h0m-47-8h0m86-63h0m-12 25h0m-152 24h0m0-106h0m162 5h0m-69 33h0m62 33h0m1 11h0m-107-131h0m94 167h0m-32-136h0m62 74h0m-48-85h0m-115 10h0m121 65h0m-123-65h0m23-25h0m-14 173h0m108 8h0m-148-78h0m43-3h0m-35-49h0m127-54h0m-56 205h0m-92-86h0m112-115h0m94 55h0m-34-35h0m12 135h0m-165-40h0m-7-74h0m181 42h0m-161 84h0m178-50h0m-54-120h0m15 64h0m-1 102h0m-73 29h0m10-1h0m105-99h0m-111 91h0m89-160h0m-174 25h0m25-30h0m167 60h0m-173-27h0m122-16h0m-11-13h0m-112 120h0m140-11h0m-119 43h0m61-1h0m-111-64h0m1 20h0m138-141h0m-18 176h0m3-130h0m-84-2h0m14 144h0m62 20h0m78-63h0m-138-16h0m80-108h0m35 46h0m1-10h0m-124-27h0m77 139h0m-11-110h0m66-1h0m-93 131h0m53 14h0m37-85h0m0 40h0m-122 37h0m-21-40h0m91 32h0m42-134h0m-86-13h0m-69 105h0m51-132h0m-11 24h0m52 115h0m-36-106h0m-51-16h0m154-1h0m-155 37h0m140-8h0m-157 19h0m196 75h0m-45-137h0m30 42h0m-103-25h0m-64 31h0m34 114h0m19 25h0m28-69h0m-62 63h0m173-111h0m-177-49h0m-14 77h0m122-48h0m50-21h0m-52-10h0m-129 21h0m111 146h0m-61-181h0m-12 175h0m118-24h0m15-131h0m-179 53h0m105 107h0m-49-49h0m-57-72h0m75-61h0m-43 49h0m115 97h0m-117-134h0m165 127h0m-42 50h0m-37-192h0m-77 47h0m-26 54h0m67 66h0m-14-118h0m-6-37h0m-72 78h0m221 9h0m-115-53h0m100 62h0m-166-18h0m116-81h0m-131 130h0m146 30h0m-52-169h0m-36 5h0m-9 61h0m83-36h0m36 42h0m-76-77h0m-33 41h0m25 117h0m71 10h0m-35 32h0m-28-204h0m19 157h0m-98-127h0m13 14h0m44 58h0m90 40h0m-41 16h0m-27-152h0m-64 177h0m11-175h0m-1-1h0m17 23h0m-48 106h0m173-87h0m0 109h0m-173-1h0m146-135h0m-129-8h0m76 197h0m-60-197h0m132 40h0m-157-17h0m-13 43h0m72 124h0m115-62h0m-28-122h0m-104-5h0m105 81h0m-108-55h0m100-22h0m28 98h0m-38 75h0m-24-11h0m51-36h0m-123 7h0m104-24h0m-146 16h0m157-102h0m-48-11h0m-116 33h0m148-56h0m-83 0h0m-63 109h0m144-109h0m-89 188h0m-2-119h0m112-41h0m-154 130h0m-14-43h0m28 59h0m163-82h0m-35-73h0m-157 136h0m4-97h0m157 80h0m-123-123h0m-21 59h0m47-75h0m40 191h0m-27-69h0m36-33h0m-29 36h0m-30 63h0m7-187h0m-3-7h0m58 67h0m-34-74h0m-86 62h0m159 30h0m-46-92h0m-45 56h0m120 49h0m-65-63h0m-38-33h0m-71 66h0m-26 31h0m81-89h0m-54 145h0m137 24h0m-112-26h0m112 21h0m-73-158h0m27 9h0m79 24h0m-96 151h0m-74-154h0m139-10h0m-130 65h0m150 55h0m-21-113h0m38 5h0m-153-12h0m-37 37h0m43-58h0m50 37h0m-34-54h0m-31 63h0m23 110h0m115-126h0m-145-5h0m-4 4h0m154-11h0m-74 136h0m-74-1h0m10-157h0m12 36h0m49-55h0m-2 202h0m-7-180h0m97 42h0m-133-28h0m108-7h0m22 128h0m19-79h0m-212 49h0m115-10h0m-67-89h0m61 122h0m65 11h0m6 22h0m-6-29h0m6-64h0m5 98h0m-19-9h0m-57-45h0m-9-120h0m55 69h0m-2-68h0m-10 68h0m-73 114h0m98-2h0m-119-164h0m136 13h0m-126-30h0m48-6h0m60 161h0m-107-112h0m108-31h0m-120 20h0m145-5h0m-55-35h0m-115 47h0m-10 87h0m141 63h0m-140-74h0m176 11h0m-191-27h0m60-81h0m90 74h0m-54-58h0m13-11h0m40-25h0m-133 142h0m47-70h0m116-6h0m-142 32h0m131-39h0m-87-52h0m121 56h0m-33-67h0m-158 94h0m136 73h0m-61-89h0m64 95h0m53-112h0m-79 39h0m-84-44h0m62-19h0m103 13h0m-188 53h0m65-105h0m80 99h0m-53 86h0m-28-56h0m121-20h0m-48-70h0m-92-18h0m77-15h0m-99 175h0m32-135h0m104 64h0m-135-81h0m74-19h0m-18 127h0m58 22h0m31-129h0m-146 10h0m-35 56h0m193 65h0m-191-49h0m162 43h0m-71 17h0m28-174h0m-73 30h0m-23 72h0m22-47h0m58-13h0m32-41h0m15 183h0m7-57h0m-58-113h0m-72 23h0m171 117h0m-25-25h0m-86 76h0m-76-76h0m115-44h0m34 87h0m-97 3h0m-68-62h0m41 59h0m-2-64h0m-24 33h0m53 51h0m-3 8h0m80-201h0m-111 101h0m34-64h0m31-14h0m110 95h0m-92 79h0m82-128h0m-160-33h0m97-9h0m-8 181h0m-40-35h0m35-170h0m-12 178h0m69-102h0m-140-42h0m52 139h0m70-163h0m-126 164h0m144-135h0m-127-20h0m-16 148h0m161-64h0m-17 62h0m-32-5h0m51-116h0m-74 160h0m48-18h0m-44-190h0m-81 60h0m135 122h0m13-100h0m-167 81h0m101-149h0m-100 153h0m61-159h0m82 161h0m20-14h0m-56 25h0m51-129h0m-107 161h0m-27-41h0m135-66h0m-124 88h0m151-95h0m-159-63h0m140 32h0m-1 10h0m-108-68h0m119 113h0m-36 1h0m-110-73h0m28 148h0m122-96h0m-4 23h0m-18 41h0m-181-27h0m72-117h0m-57 11h0m138 22h0m-39 102h0m59-60h0m-114-59h0m42-20h0m-61 170h0m-31-20h0m-9-78h0m171 90h0m-156-15h0m72 21h0m-13-64h0m46-116h0m5 10h0m63 123h0m-114-129h0m-35 144h0m129-139h0m-143 161h0m183-68h0m-157-67h0m84-7h0m-128 19h0m37 135h0m30 23h0m-23-201h0m-37 71h0m145-39h0m-164 74h0m20-71h0m58-5h0m95 94h0m-32 54h0m-85-136h0m133 68h0m-160-78h0m60 52h0m-16 83h0m-49-3h0m166-32h0m-5-100h0m-166 81h0m187-53h0m-188 4h0m182 0h0m-61 132h0m55-38h0m-143-1h0m81-162h0m5 186h0m71-111h0m-147-47h0m91 172h0m-132-150h0m178 103h0m-178-77h0m-4 32h0m176-41h0m-147 108h0m-11-60h0m-18 14h0m108 75h0m20-117h0m7-79h0m-125 76h0m180 49h0m-16-86h0m-54-29h0m-101 45h0m147-20h0m-68-13h0m-81 7h0m73 89h0m81-34h0m-8-1h0m7-21h0m-141-5h0m29 128h0m121-143h0m-108 109h0m64 30h0m26-157h0m-165 40h0m112 112h0m44-103h0m-47 105h0m68-37h0m-68-144h0m-105 55h0m109-64h0m-75 22h0m43-21h0m2 5h0m60 27h0m50 44h0m-156-45h0m90 82h0m-42 16h0m-53-60h0m-46 11h0m30 60h0m47-36h0m-15-2h0m-45-44h0m182 103h0m-18-128h0m-14 11h0m-3-26h0m-116 84h0m-31-19h0m171 21h0m5-53h0m-21 24h0m-112 102h0m119-15h0m-105-144h0m73 13h0m37 4h0m-159 8h0m176 71h0m-38-101h0m-141 47h0m162 29h0m-130-24h0m143 7h0m-41 42h0m47-20h0m-71-83h0m-5 197h0m-38-114h0m-35 31h0m115-103h0m-96 132h0m108-13h0m-168-40h0m62-93h0m98 22h0m-73-23h0m54 159h0m-84-110h0m80 56h0m53-61h0m-111 134h0m73-175h0m-52 25h0m-59-4h0m12 42h0m-37 19h0m154-53h0m-75 141h0m-52-8h0m48 32h0m91-175h0m-152 144h0m135-14h0m-68-136h0m-32-7h0m84 72h0m46-20h0m-130-42h0m82 40h0m12 117h0m-151-147h0m34 10h0m133 51h0m-5-65h0m-142-12h0m92-5h0m-92 164h0m78-48h0m-49 38h0m12-170h0m117 50h0m-5 15h0m-167 70h0m133 39h0m-74-126h0m-10-19h0m-41 140h0m-15-10h0m102-159h0m-42 44h0m118 17h0m-33 114h0m-30-150h0m51 104h0m-81-75h0m86 97h0m12-71h0m-49-47h0m-72-1h0m100 51h0m-30 30h0m-72 55h0m104-2h0m-82 6h0m-9-164h0m-74 65h0m104 70h0m82-21h0m-61-115h0m-43 180h0m106-95h0m-37 97h0m6-28h0m-131-101h0m20 134h0m-18-153h0m133-6h0m-129-10h0m116 144h0m-160-99h0m114 131h0m-93-122h0m50 28h0m141-12h0m-53-80h0m12 67h0m-122-44h0m91 128h0m25-92h0m-119-54h0m90-13h0m-50 174h0m123-74h0m-167-92h0m73-19h0m-57 34h0m-65 74h0m147-109h0m-102 38h0m70-10h0m93 101h0m-78-101h0m33 37h0m-22 118h0m0-149h0m-79 169h0m14-194h0m125 128h0m-25 19h0m-51 31h0m-7-168h0m91 126h0m-141 43h0m31-170h0m99 135h0m-33-139h0m-21 2h0m-39-6h0m-86 146h0m156-44h0m-132-82h0m21 175h0m-66-99h0m167-88h0m-9 158h0m-54-172h0m55 59h0m-134 14h0m-12 42h0m21 3h0m-2-14h0m27-60h0m71 163h0m89-114h0m-55-77h0m-86 178h0m74-179h0m-130 89h0m-8 35h0m23-18h0m55-116h0m57 186h0m49-141h0m-62-12h0m35 133h0m-105 6h0m30-172h0m-13 145h0m-42-28h0m81 46h0m26 25h0m-63 15h0m-22-57h0m102 1h0m-29 44h0m-104-34h0m122-13h0m21-84h0m-107 101h0m24-32h0m113-64h0m-167 50h0m-22 26h0m95-124h0m74 148h0m-23-125h0m-136 109h0m133-112h0m39 115h0m-48-36h0m-30 81h0m-101-87h0m92 14h0m-73-100h0m-20 48h0m79 105h0m-50-42h0m-22-98h0m104 3h0m16-30h0m7 149h0m-64 40h0m73-175h0m19 22h0m-5 136h0m-86-40h0m65-136h0m-113 123h0m95-133h0m-56 214h0m82-73h0m25 17h0m-53 49h0m-42-181h0m101 139h0m-145-140h0m81 26h0m-95-17h0m13 19h0m63-56h0m-48 93h0m6-39h0m-58 16h0m12-24h0m185 28h0m-140-24h0m140 101h0m-191-76h0m161-38h0m-68-26h0m-91 121h0m172-54h0m0-18h0m-86-26h0m90 41h0m-57 110h0m-124-104h0m120-64h0m-17-6h0m-42 192h0m108-87h0m-168-41h0m19-26h0m14-24h0m76 2h0m-90 130h0m-2-104h0m-21 33h0m191 11h0m-110-78h0m79 168h0m-20-127h0m-37 72h0m-26-131h0m103 46h0m-114 141h0m106-116h0m-51-19h0m53 120h0m1-75h0m9-54h0m-11 76h0m-32-11h0m33 25h0m-28 69h0m-25 13h0m74-160h0m-119-10h0m87 59h0m-161-10h0m1 57h0m123-117h0m-91 30h0m80-56h0m-69 164h0m-46-93h0m-2 38h0m205 6h0m-178 59h0m1 1h0m43 15h0m64-154h0m21 6h0m-122 127h0m-13-9h0m130-127h0m-74-11h0m-52 43h0m19-36h0m134 113h0m-155-108h0m-11 10h0m4 85h0m80 30h0m86-99h0m-151-50h0m107 179h0m-136-90h0m26-68h0m155 78h0m-87 90h0m8-204h0m-50 160h0m78-112h0m7 158h0m32-183h0m-33-10h0m24 21h0m-35 168h0m-74-193h0m79 14h0m-32 138h0m31 19h0m-81-28h0m95 23h0m-29-158h0m-70 33h0m-9-42h0m69 158h0m79-61h0m-49-86h0m-44 158h0m-9 0h0m-56-147h0m123-23h0m53 119h0m-44-114h0m-82 78h0m-26-28h0m-40 0h0m82-34h0m94 137h0m-48 3h0m-50-169h0m109 64h0m-122-50h0m107 129h0m-103-91h0m-34-18h0m-5-4h0m45 145h0m45 0h0m-4 23h0m-130-114h0m86 91h0m-13-176h0m8 166h0m70-144h0m-150 102h0m8-49h0m70-51h0m120 74h0m-28-11h0m0 83h0m21-95h0m-184 69h0m21 40h0m3-93h0m136 86h0m-146-39h0m-6-65h0m181 62h0m-57-97h0m-93-21h0m124 46h0m24 98h0m-176-60h0m32 90h0m102-168h0m54 58h0m-180-26h0m142 99h0m-81-40h0m-35 43h0m70-41h0m88-17h0m-137-72h0m44 181h0m-53-100h0m48 96h0m37-54h0m57-28h0m-175 61h0m46-62h0m129 2h0m-42-89h0m-152 30h0m111-28h0m64 29h0m-122 119h0m58-19h0m25-13h0m-56 46h0m24-200h0m3 21h0m-91 162h0m167-61h0m12-40h0m-4 45h0m-162-96h0m-30 62h0m111-4h0m87 23h0m-32 38h0m-155-33h0m89-18h0m28-87h0m16 32h0m-11-11h0m-57-29h0m-59 141h0m102-139h0m-17 200h0m96-94h0m-78-99h0m-37 4h0m-53 4h0m-5 6h0m145 64h0m-135-29h0m26 138h0m-14-19h0m35-85h0m55 107h0m-56-20h0m78-151h0m-130 3h0m16 144h0m-44-71h0m8 65h0m80-141h0m-86 29h0m140 17h0m-87-57h0m-45 157h0m176-27h0m-49 38h0m53-60h0m-47-76h0m-25 150h0m-66-188h0m47 113h0m-114-30h0m148 110h0m-82-193h0m77 184h0m38-134h0m33 33h0m-108-86h0m-55 58h0m71-63h0m-12 24h0m-42 130h0m72-59h0m26-17h0m-15-58h0m-136 40h0m100 146h0m-82-136h0m113-66h0m-96 159h0m99-133h0m-119 66h0m142-37h0m-112-37h0m83 133h0m32-113h0m15 46h0m-123-37h0m-39-20h0m77-23h0m-54 5h0m92 147h0m4-35h0m-31 51h0m49-15h0m-7-115h0m-85 145h0m66-176h0m32 15h0m-83-1h0m0-32h0m-72 92h0m78-86h0m-69 30h0m185 69h0m-15-20h0m-153 66h0m118-74h0m-129 58h0m94 82h0m27-33h0m-131-90h0m195 34h0m-88 75h0m-56-44h0m52 45h0m-37-198h0m41-7h0m-8-2h0m83 73h0m-32 23h0m-83 40h0m-32-121h0m22-1h0m-21 185h0m-35-74h0m51 76h0m-8-159h0m145 73h0m-82 79h0m-78-1h0m13-178h0m17-3h0m48 169h0m70-94h0m-62-62h0m40 60h0m33 21h0m-28-77h0m-47 107h0m-78 23h0m44-161h0m-88 62h0m13-3h0m53 147h0m94-158h0m-11 152h0m-69-136h0m-69 108h0m81-170h0m44 7h0m15 37h0m-22-39h0m-59 201h0m55-39h0m-65 12h0m38-164h0m45 157h0m-21-149h0m-14 169h0m-38-15h0m14-130h0m100 133h0m-126-173h0m72 11h0m47 129h0m-139 26h0m51-112h0m-14-17h0m-82 89h0m41-103h0m-17 14h0m77-32h0m-93 108h0m163-91h0m33 70h0m-109 92h0m-41-170h0m127 60h0m-125 127h0m63-38h0m84-30h0m-158-116h0m-26 150h0m-14-83h0m188 35h0m-95-119h0m-69 133h0m167-27h0m-42 52h0m-5-24h0m46-63h0m-178-35h0m25 144h0m3-146h0m5-27h0m88-6h0m54 76h0m-74-76h0m-48 148h0m-63-94h0m137-51h0m-26 79h0m-86-47h0m-22 113h0m160-125h0m-150 102h0m152-105h0m-143 81h0m171-27h0m-19 79h0m-129-124h0m112 51h0m36 43h0m-53-67h0m44-17h0m-31-8h0m-58 153h0m81-41h0m-41 49h0m-94-189h0m13 141h0m108 2h0m35-74h0m10-2h0m-195 21h0m160-46h0m-89-48h0m-8 27h0m88 146h0m-165-66h0m13 29h0m128-116h0m0 60h0m-124-20h0m46-20h0m137 32h0m-61 92h0m-42-139h0m104 61h0m-164-12h0m2 24h0m112 51h0m-62-145h0m-76 66h0m113-54h0m5-14h0m-11 19h0m-12 123h0m55-124h0m-64 100h0m-42-109h0m-33 163h0m148-2h0m-91 20h0m72-132h0m-11 105h0m-126-134h0m178 37h0m-85 136h0m-81-68h0m-12-79h0m167 33h0m-92-69h0m-74 97h0m81 53h0m36-9h0m-65-44h0m89-86h0m-80-11h0m-30 149h0m144-76h0m-68 110h0m-128-81h0m200-19h0m-64 50h0m20-99h0m18 5h0m-63 133h0m61-49h0m-130 28h0m144-30h0m-109-117h0m-86 73h0m17-29h0m12 62h0m148-99h0m-9 134h0m-159-31h0m77 39h0m1-4h0m-14-174h0m81 34h0m45 84h0m-81 38h0m-35-9h0m-4 61h0m-45-160h0m85 158h0m44-160h0m-28 150h0m76-81h0m-169-38h0m-29 65h0m195 0h0m-191-72h0m89 132h0m-1-38h0m58-115h0m-122 82h0m57 80h0m-4-30h0m-87-78h0m139-100h0m6 25h0m-21 163h0m32-156h0m1 119h0m-150-81h0m49 38h0m44-10h0m103 9h0m-50-88h0m16 7h0m-162 107h0m92 68h0m55-94h0m-1-73h0m-122 85h0m174-36h0m-54-3h0m-69 122h0m49-195h0m-80 186h0m129-15h0m10-43h0m-6-72h0m16 73h0m-98-124h0m37 191h0m38-169h0m-30-23h0m-54-12h0m11 37h0m-79 2h0m152 135h0m-112 38h0m145-98h0m-56 73h0m-130-156h0m21 93h0m53-104h0m-8-4h0m-34 37h0m131-5h0m-130-2h0m54 134h0m-40-7h0m-40-68h0m53 102h0m62-183h0m5 34h0m1-13h0m-152 59h0m47 65h0m-32-17h0m146-138h0m-154 121h0m37-71h0m158 8h0m-132 86h0m64 47h0m61-97h0m-1-42h0m-174-26h0m136 24h0m-63-54h0m88 148h0m-10 11h0m-11 11h0m35-71h0m-118-80h0m25-27h0m-46 2h0m120 126h0m-138-7h0m1 28h0m70-138h0m-95 134h0m22-41h0m-10 20h0m-20 10h0m46-119h0m126 156h0m-95-13h0m-65-90h0m27-35h0m142 44h0m-41-69h0m-87 9h0m-53 103h0m139-111h0m-115 153h0m134 22h0m-160-115h0m7 95h0m105-164h0m-26 22h0m-87 74h0m62-62h0m107 129h0m-120 40h0m9-174h0m68 59h0m-3-79h0m34 189h0m-163-93h0m128-99h0m6 191h0m67-142h0m-1-4h0m-93-17h0m-81 23h0m112 114h0m-84-22h0m-47-29h0m183-79h0m-164-3h0m132 12h0m-108 133h0m10-175h0m-34 125h0m142 38h0m-148-33h0m99 54h0m-19-138h0m65 131h0m-79-169h0m28 177h0m-71-184h0m37 170h0m116-43h0m-135 71h0m-48-55h0m-1-107h0m18 52h0m63 80h0m56-48h0m-146-32h0m114 68h0m-89 15h0m168-25h0m-17-92h0m-126-23h0m101-35h0m11 160h0m-135-103h0m162 8h0m-35-48h0m-58-29h0m19 196h0m-88-43h0m21-130h0m155 142h0m2-91h0m-84 132h0m-43-156h0m75-28h0m-105 157h0m-23-7h0m12 3h0m101-137h0m56 120h0m-84-27h0m49-54h0m-67 99h0m-77-120h0m44-25h0m43 34h0m60 6h0m-2 123h0m-132-150h0m61 163h0m63-8h0m-42-45h0m55-131h0m-21 34h0m-118 91h0m152-34h0m-139-81h0m-34 46h0m22 20h0m0-63h0m138 11h0m-38 138h0m-49 14h0m1-15h0m-48-23h0m1-75h0m151-16h0m-41 106h0m23 14h0m-111-166h0m25-6h0m-32 123h0m143-24h0m-54 34h0m33-8h0m-169-11h0m94-84h0m-69 36h0m8 62h0m51 30h0m57 16h0m65-87h0m-192 24h0m-7-6h0m167 41h0m-48-45h0m-107-66h0m137-19h0m-18-2h0m42 137h0m-16-26h0m-44 63h0m-43-184h0m115 27h0m-178 15h0m86-47h0m40-5h0m-103 144h0m88-108h0m1-44h0m-80 201h0m-26-38h0m172-118h0m-19 46h0m-56-79h0m-24 164h0m45-67h0m-21 73h0m75-115h0m-62-57h0m19-3h0m-8 94h0m-125 6h0m28-58h0m120-29h0m-18 120h0m41-53h0m-157-52h0m75-17h0m52 174h0m-10 10h0m-100-20h0m105-141h0m-85 7h0m34-5h0m26 164h0m-5-212h0m-109 150h0m119 50h0m-34-37h0m82 22h0m-124-125h0m126 81h0m-30-108h0m-23 79h0m-25 85h0m-74-93h0m110 105h0m-29 4h0m9-148h0m-112 6h0m146-45h0m10 11h0m-104-25h0m29 33h0m-33 0h0m46 156h0m87-140h0m-151 4h0m109-48h0m-123 22h0m111 45h0m-29 110h0m74-141h0m11 20h0m-118-37h0m-45 8h0m110-1h0m1-8h0m69 69h0m-86-91h0m33 26h0m-62 165h0m9 10h0m-29-40h0m91-131h0m-16 20h0m-105 131h0m163-80h0m-64-105h0m-18 39h0m-48-25h0m111 71h0m-51 93h0m34-111h0m29 77h0m-48 44h0m-53-45h0m-31 41h0m-23-157h0m-38 89h0m180-50h0m-65 142h0m-51-204h0m-48 58h0m-21 4h0m139-64h0m-17 189h0m-50 5h0m126-122h0m-34 120h0m-137-29h0m32-160h0m82 19h0m-98 143h0m-6 17h0m152-34h0m-154-44h0m134 68h0m-90-115h0m-75 13h0m3 60h0m76-126h0m6-3h0m-27 192h0m31 3h0m-4-30h0m66-2h0m-33-152h0m-86 6h0m80 182h0m59-131h0m-35-33h0m55 64h0m-8 43h0m-180 3h0m131-51h0m-8 98h0m-101-141h0m6-26h0m70-30h0m-34 54h0m99-16h0m-141 61h0m156 50h0m-28-130h0m28 114h0m-55-124h0m-36 189h0m-66-172h0m24 121h0m-51-26h0m177 12h0m-166-6h0m105-40h0m-74 98h0m-41-103h0m134 96h0m16 0h0m-46-149h0m-94 85h0m19 67h0m124-154h0m-111 137h0m-33-11h0m134-86h0m-40 131h0m-44 2h0m62-100h0m-113 41h0m9 18h0m173 11h0m-87-116h0m43 139h0m-108-14h0m51 4h0m-28-168h0m-55 44h0m166-26h0m-94-1h0m102 13h0m-92 160h0m96-80h0m-159-32h0m-25 11h0m14-4h0m106-76h0m-62 142h0m45-161h0m-5-8h0m-95 130h0m60 41h0m-11 10h0m82-152h0m47 141h0m3-24h0m-124 33h0m119-9h0m-81-5h0m42 29h0m-91-36h0m-1-99h0m155 59h0m-175-87h0m147 27h0m-117 142h0m116-151h0m-120 148h0m65 5h0m17-183h0m-32-17h0m-105 142h0m122-31h0m74 11h0m-156 59h0m44-168h0m-40 48h0m33-51h0m-83 103h0m17-46h0m-2 40h0m32 68h0m-34-108h0m39 104h0m144-30h0m-164 37h0m143-128h0m32 79h0m-59-26h0m-125-8h0m-2-48h0m151 56h0m-125 19h0m144 30h0m-121 14h0m74-157h0m4 48h0m24 133h0m21-136h0m-85 149h0m-35-190h0m-50 157h0m47-152h0m68 124h0m76-2h0m-170 47h0m161-71h0m-165-70h0m60-25h0m98 60h0m-130 71h0m57-68h0m19 71h0m-57-140h0m-72 103h0m7 43h0m112-137h0m-92 31h0m30 142h0m-13-6h0m103-71h0m-151 3h0m13-53h0m-2 83h0m78-116h0m-68-7h0m41 165h0m121-159h0m-171 118h0m179-84h0m-31 97h0m15-88h0m-87 111h0m-92-91h0m49-54h0m78 125h0m-123-48h0m-10-11h0m180-82h0m10 140h0m-37 20h0m9-163h0m28 55h0m5 79h0m-3 16h0m-119-177h0m46 207h0m-99-152h0m106 4h0m-51 117h0m-70-89h0m53-32h0m129-13h0m-175 45h0m13-27h0m155 94h0m-87 36h0m70-115h0m46 20h0m-30-59h0m33 39h0m-131-76h0m-76 116h0m18-55h0m-15 57h0m72 81h0m98-15h0m22-30h0m-120-135h0m5 33h0m-50 29h0m-16 3h0m39-72h0m7 56h0m-37 3h0m174-18h0m-190 11h0m195 44h0m-155 78h0m110-1h0m-138-60h0m43-25h0m87-66h0m53 61h0m-23-41h0m-176 23h0m22-29h0m138-27h0m-168 126h0m146-140h0m20 165h0m-89-171h0m119 87h0m-16-42h0m-132 115h0m-33-102h0m55-8h0m-46 56h0m86 36h0m-4-138h0m76 81h0m-150 20h0m163 2h0m-3 42h0m12-46h0m-23 70h0m-111 32h0m17-143h0m127 49h0m-84-107h0m-104 138h0m-20-1h0m197-23h0m-71 89h0m32-140h0m21-36h0m-174 70h0m90 60h0m23 42h0m36-145h0m-149 46h0m170 31h0m27-65h0m-3 6h0m-162 69h0m123 26h0m19 2h0m-112-126h0m112 131h0m-11-143h0m-64 174h0m-60-108h0m75-20h0m-102 53h0m-14-51h0m2 70h0m144-46h0m26 66h0m-67-72h0m-84 24h0m103 53h0m36-3h0m-18 28h0m-150-115h0m195-31h0m-121-53h0m67 31h0m17 118h0m-116-136h0m137 75h0m-120 61h0m-60-52h0m3-25h0m73-13h0m121 14h0m-90-77h0m51 51h0m-20 156h0m-104-180h0m-16 66h0m8 15h0m113 30h0m21-49h0m-129 84h0m116-162h0m-122 88h0m73-52h0m-26 87h0m-55-77h0m188 90h0m-188-101h0m7 8h0m174 107h0m-157 39h0m45-153h0m-64 50h0m177 55h0m-121 46h0m95-136h0m-94 147h0m16-152h0m81 38h0m22 63h0m-32 15h0m-145-122h0m20 135h0m-2-130h0m67 147h0m82-36h0m6 4h0m-136-134h0m103 1h0m-126 135h0m48-25h0m-15 57h0m-61-76h0m98 59h0m-67-153h0m-3 18h0m-31 27h0m115-60h0m66 73h0m-150 7h0m30 52h0m27 61h0m12-147h0m89 94h0m-60-120h0m-126 99h0m140 16h0m22-56h0m-88 101h0m129-113h0m-60 62h0m21-104h0" stroke="#d66fdb" stroke-width="3.8" stroke-linecap="round" fill="none"/>
<path transform="scale(.5)" d="M1277 478h0m11-97h0m-106 109h0m21-138h0m81 25h0m-158 7h0m124 11h0m-155 76h0m140 49h0m38-30h0m20-57h0m-85-105h0m12 26h0m-99 149h0m3-22h0m65-153h0m12 189h0m-24-13h0m89-92h0m-2 63h0m-54 41h0m7-195h0m9 156h0m-130-29h0m32-110h0m-27 128h0m57 59h0m-54-150h0m141-28h0m3 0h0m-132 41h0m-10-27h0m62 147h0m-2-1h0m32 21h0m-14-153h0m73 24h0m-161 57h0m20-78h0m114-26h0m-127 56h0m-16 43h0m20 38h0m185-46h0m-179-96h0m18 5h0m43 150h0m-55-115h0m81-28h0m-85 23h0m170 32h0m-193-27h0m142-53h0m-149 79h0m111 112h0m-88-67h0m25-121h0m62 19h0m-123 60h0m53-1h0m54-74h0m-16 144h0m-18-152h0m81 19h0m29 149h0m-125-178h0m110 119h0m-104-60h0m37 136h0m33-188h0m-115 48h0m131-34h0m-45 148h0m64-5h0m-150-66h0m86 89h0m-70-78h0m125-57h0m37 24h0m-148-69h0m86 117h0m30 19h0m-95 38h0m55-102h0m95 28h0m-113-101h0m-32 8h0m138 113h0m5 3h0m-77-126h0m-127 110h0m109-110h0m32 26h0m-45-22h0m26-9h0m-71 84h0m-13 71h0m57-26h0m99 17h0m-196-80h0m170-30h0m-39 142h0m57-33h0m-160 12h0m124-107h0m-143 9h0m100-46h0m-98 57h0m198 34h0m-73-90h0m37 70h0m-107-81h0m53-8h0m41 36h0m-112 147h0m110-24h0m-133-80h0m158-51h0m-32-7h0m-141 128h0m141-129h0m4-6h0m-85 52h0m80 129h0m-141-50h0m167 27h0m8-87h0m-65-67h0m-34 196h0m85-65h0m-111-136h0m-24 126h0m53-138h0m86 158h0m-173-56h0m73-87h0m-62 102h0m43-108h0m-23 134h0m10-101h0m19-14h0m-30 58h0m85 124h0m19-135h0m-65 104h0m-67-116h0m131-45h0m68 31h0m-6 105h0m-139 41h0m-50-140h0m187 16h0m-141-55h0m-45 47h0m5 86h0m32-121h0m110-12h0m-5 10h0m27 148h0m-34-139h0m31 130h0m-174-49h0m195-34h0m-183 72h0m168-113h0m-116 154h0m143-91h0m-40-83h0m-43-15h0m66 121h0m-110-119h0m-81 119h0m185-78h0m-39-12h0m38 5h0m-103-23h0m1-19h0m-39 26h0m102-6h0m-80 83h0m-18-81h0m90 17h0m11 128h0m-128-74h0m157 37h0m-121 18h0m14-119h0m133 89h0m-100-41h0m-98 2h0m10 26h0m164-5h0m-71-101h0m62 169h0m-91-37h0m85-79h0m-140 80h0m185-41h0m-74-15h0m65-16h0m-145-38h0m141 30h0m-105-53h0m-30 14h0m102 120h0m-133-106h0m129 110h0m-128-104h0m-21 94h0m116-120h0m-60 191h0m-5-189h0m-56 56h0m106 112h0m84-38h0m-111-138h0m80 24h0m25 56h0m-126-69h0m-14 25h0m-34 101h0m191-65h0m-96-76h0m27 207h0m2 0h0m-113-133h0m14-52h0m45-19h0m29 183h0m-74-144h0m75 5h0m13 136h0m-135-92h0m44-58h0m109 143h0m-112-22h0m147-115h0m20 118h0m-173 11h0m18-17h0m-22-104h0m161-9h0m-95-13h0m-46 162h0m-30-73h0m166-73h0m5 101h0m14 1h0m-86 73h0m-74-25h0m-1-145h0m-16 95h0m-2-94h0m145 79h0m-97 71h0m25-65h0m10-125h0m-60 110h0m69-93h0m40 18h0m-134 90h0m137-66h0m-91-40h0m-4-18h0m75 107h0m-132 23h0m136-138h0m-85 29h0m-25 5h0m155 19h0m-167 24h0m162 71h0m12-51h0m-65-92h0m-16 0h0m-88 156h0m3-98h0m61-41h0m108 123h0m-126 63h0m88-160h0m-38-39h0m-98 46h0m189 35h0m-180-36h0m134-9h0m35 15h0m-10 107h0m-101 16h0m49 23h0m-31-161h0m93 73h0m-44 60h0m-15-170h0m28 151h0m-63 37h0m89-114h0m-130 77h0m146-52h0m-21-53h0m-24 103h0m12 11h0m-94 42h0m5-177h0m-42-1h0m103 173h0m-90-138h0m-49 69h0m88-136h0m19 49h0m77 117h0m-129 13h0m-1 20h0m74-194h0m55 92h0m-191 33h0m177-68h0m-74-41h0m45-2h0m-132 61h0m72 75h0m108-44h0m-193-40h0m113 129h0m-112-126h0m-4 26h0m154-83h0m-100 23h0m49-11h0m48 127h0m-35-137h0m17 124h0m33-26h0m-28-99h0m-105 165h0m-33-108h0m81 6h0m-43 88h0m-20 3h0m95-38h0m-45 56h0m-50-32h0m-20-59h0m10 23h0m55-109h0m93 107h0m-43-116h0m17 86h0m-18 89h0m17-49h0m45 36h0m-131-138h0m126 109h0m-143 20h0m124-126h0m34 59h0m-49 25h0m-109 67h0m68-166h0m75 152h0m-100-169h0m-28 140h0m124 21h0m24-48h0m-40-85h0m-151 83h0m41-47h0m148 16h0m-82 63h0m50-5h0m-46 32h0m-106-77h0m38 58h0m121-128h0m-160 110h0m140 66h0m-83-67h0m112-79h0m18 27h0m-77-48h0m-102 96h0m70 84h0m-12-174h0m-47 15h0m179 103h0m-199-52h0m105-98h0m-78 178h0m61-180h0m-85 136h0m191-17h0m-103-40h0m-77 39h0m8-1h0m8-35h0m-23 50h0m107-66h0m39-48h0m-148 70h0m59 96h0m-6-6h0m80-118h0m-133 71h0m202-13h0m-157-96h0m64 159h0m7-166h0m75 92h0m-75-76h0m-23-1h0m23 2h0m-80 76h0m129-64h0m-102 141h0m107-127h0m-14 118h0m-21-119h0m32 106h0m-103 38h0m-33-160h0m-17-4h0m124 157h0m48-64h0m-84-126h0m-54 75h0m114 82h0m-39 46h0m-17-154h0m14 121h0m-52 33h0m-33-28h0m92-110h0m26 65h0m6-114h0m-57-2h0m-37 183h0m116-84h0m-82-52h0m-49 133h0m-4-185h0m94 188h0m-13-185h0m46 44h0m-182 27h0m196 56h0m-74 27h0m-5 39h0m-46-8h0m107-75h0m33-21h0m-49-75h0m-79-2h0m-27-6h0m76 23h0m-83 11h0m157 37h0m-87 84h0m76-15h0m8-58h0m-50-34h0m31-5h0m-114 141h0m-68-111h0m138 95h0m-8-160h0m-79 59h0m141 47h0m15-7h0m-178 55h0m24-147h0m43 160h0m-92-62h0m58-70h0m103 67h0m-142-3h0m-12-30h0m146 74h0m7-126h0m-22 145h0m45-57h0m-152-82h0m-36 72h0m172-95h0m-160 21h0m85 151h0m111-114h0m-174 64h0m92 22h0m-73-146h0m77 139h0m-70 26h0m112-142h0m-155 92h0m144-87h0m39 94h0m-15-95h0m-133 120h0m158-92h0m-191 28h0m-9-58h0m171-15h0m-180 39h0m153 128h0m-73-25h0m-92-77h0m221 9h0m-181-9h0m131 79h0m-54-178h0m-22 102h0m-42 81h0m144-129h0m-11-34h0m-41 161h0m32-53h0m-146 16h0m-5-27h0m157 29h0m-42-110h0m-83 118h0m39-137h0m75 20h0m20 120h0m-81 38h0m106-124h0m-212 49h0m174 27h0m-65-20h0m-50-120h0m1 43h0m-37-4h0m-9 76h0m176 11h0m-95-92h0m-33 36h0m18-65h0m-70 83h0m139 79h0m-11-169h0m-99 175h0m70-141h0m47 142h0m48-30h0m-162 18h0m-7-72h0m102-74h0m62 79h0m-72 101h0m48-18h0m15-139h0m-127-1h0m-53 40h0m120-84h0m-113 47h0m37 135h0m115-146h0m-164 74h0m185-74h0m-169 71h0m18 7h0m117-107h0m31 35h0m-58 141h0m44-103h0m-47 105h0m-105-126h0m-18 17h0m17-22h0m164-25h0m7 71h0m-16-29h0m-147-32h0m159 46h0m-28 25h0m47-20h0m-71-83h0m-78 114h0m19 29h0m108-13h0m-89 44h0m21-150h0m-59-4h0m129 8h0m-105-13h0m110 71h0m-161 37h0m125-22h0m-133-40h0m104 70h0m-72-118h0m116 144h0m-1-154h0m6 59h0m-79 107h0m-28-151h0m82-35h0m16 65h0m13 91h0m22-3h0m-33-139h0m-101 191h0m-44-97h0m15 17h0m59-116h0m79 60h0m-159 81h0m146-101h0m-42 157h0m-32 2h0m92-153h0m-100 164h0m-32-189h0m62-28h0m-48 93h0m-52-23h0m57-20h0m123 28h0m4-3h0m-57 110h0m-104-136h0m43 139h0m75-79h0m54-53h0m-172 18h0m3-34h0m104 12h0m-16-31h0m20 2h0m-59 71h0m121-27h0m-71 134h0m-130-114h0m81 81h0m-2-142h0m92 63h0m-139 4h0m-10 47h0m-3-37h0m32 90h0m102-168h0m54 58h0m-57 69h0m57-28h0m-194-58h0m183 56h0m12-40h0m-166-51h0m-19 86h0m117-105h0m-8 1h0m-39 170h0m-80-75h0m15-5h0m113 59h0m32-113h0m15 46h0m-123-37h0m-39-20h0m115 129h0m-127-71h0m109 125h0m27-33h0m51-114h0m-125-59h0m-5 187h0m-8-159h0m63 139h0m-28-183h0m-22 206h0m94-158h0m-17 126h0m-68-128h0m-82 89h0m101-121h0m-59 175h0m102-176h0m-26 79h0m82-8h0m-19 79h0m-17-73h0m36 43h0m-53-67h0m22 90h0m1 24h0m-26-9h0m-100-66h0m112 51h0m-43-5h0m-51-133h0m24 181h0m61-27h0m-114-29h0m130-104h0m24 110h0m-122-146h0m6 208h0m132-93h0m-197-42h0m196 37h0m-50-73h0m-22-27h0m-80 186h0m129-15h0m20-42h0m-98-124h0m45-1h0m30 162h0m-132-50h0m12-78h0m27 161h0m-84-103h0m47 65h0m-3-105h0m58-62h0m74 128h0m-67-117h0m-95 134h0m22-41h0m16-89h0m135 62h0m-41-69h0m-140 112h0m24 42h0m60-140h0m70 176h0m37-147h0m-150 132h0m118-12h0m-148-33h0m176-2h0m-183 16h0m183 3h0m-42-150h0m11 160h0m-9-150h0m-43 109h0m0 23h0m-83-118h0m100 149h0m-48-1h0m-47-98h0m22-62h0m25-6h0m-46 128h0m-26-23h0m167 41h0m-48-45h0m66-70h0m-155 107h0m-17 11h0m172-96h0m-43-60h0m-133 100h0m130 33h0m1 62h0m-20 5h0m-5-212h0m58 185h0m2-44h0m-126-96h0m46 156h0m33-117h0m-62-48h0m91 7h0m-121 151h0m99-185h0m-18 39h0m75 105h0m-193-28h0m134-114h0m-112 163h0m8-59h0m58 92h0m62-32h0m-33-152h0m35 3h0m28 114h0m-184-12h0m116-34h0m-74 98h0m-31-71h0m180 56h0m-152 9h0m51 4h0m-64-90h0m-11 7h0m89-95h0m76 162h0m-121 30h0m-4-3h0m82-178h0m-137 125h0m-6-29h0m196 28h0m-21-91h0m32 79h0m-186-82h0m26 75h0m125 68h0m-102-172h0m68 124h0m76-2h0m-192 21h0m180-91h0m-31 97h0m-17 22h0m-95-135h0m35 135h0m85-7h0m22-30h0m-142-142h0m-30 59h0m-16-7h0m195 44h0m-183 17h0m-24 22h0m48 14h0m-24-54h0m86 36h0m85-35h0m9-4h0m-74-99h0m-119 100h0m170 31h0m4 43h0m-11-143h0m6 57h0m-120 61h0m78 54h0m-107-34h0m-14-127h0m181 115h0m1-9h0m-23-57h0m-15-57h0m-154 101h0m74 61h0" stroke="#a448b6" stroke-width="3.2" stroke-linecap="round" fill="none" opacity="0.45"/>
<circle cx="593.5" cy="211" r="54" fill="none" stroke="#2f8a3c" stroke-width="1.1"/>
<circle cx="594" cy="210.8" r="27.9" fill="none" stroke="#2379b6" stroke-width="1.05"/>
<text x="593.4" y="149.7" text-anchor="middle" font-family="Liberation Sans, sans-serif" font-weight="bold" font-size="11.4" fill="#111">20bp Tail</text>
<rect x="639.9" y="256" width="20.2" height="4.1" fill="#000"/>
<text x="649.6" y="273.1" text-anchor="middle" font-family="Liberation Sans, sans-serif" font-weight="bold" font-size="10.3" fill="#1a1a1a">5 nm</text>
<text x="661" y="26.6" font-family="Liberation Sans, sans-serif" font-weight="bold" font-size="25" fill="#000">b</text>
<path d="M54.4 509.8V509.8H68.9V509.8M68.9 509.8V425.1H83.5V509.8M83.5 509.8V364H98V509.8M98 509.8V375.5H112.6V509.8M112.6 509.8V390.4H127.1V509.8M127.1 509.8V415.1H141.7V509.8M141.7 509.8V426.3H156.2V509.8M156.2 509.8V413.9H170.8V509.8M170.8 509.8V429.4H185.3V509.8M185.3 509.8V426.6H199.9V509.8M199.9 509.8V414.5H214.4V509.8M214.4 509.8V409.4H229V509.8M229 509.8V374.3H243.5V509.8M243.5 509.8V362H258.1V509.8M258.1 509.8V330.1H272.6V509.8M272.6 509.8V300H287.1V509.8M287.1 509.8V388.1H301.7V509.8M301.7 509.8V509.8H316.2V509.8" fill="#66aad7" stroke="#101820" stroke-width="1.3"/>
<path d="M64.4 509.8C64.6 509.2 65 509.1 65.6 506.1C66.2 503.1 67.1 497.1 67.8 492C68.5 486.9 69 484.6 69.9 475.8C70.8 467 72.4 449 73.2 439.4C74 429.8 74.5 423.5 74.9 418C75.3 412.5 75.5 410.2 75.8 406.3C76.1 402.4 76.3 398.6 76.6 394.7C76.9 390.8 77.1 387 77.4 383.1C77.7 379.2 78.2 375.4 78.6 371.5C79 367.6 79.4 363.8 79.9 359.9C80.4 356 80.9 351.5 81.6 348.3C82.3 345.1 83.1 342.3 84.1 340.8C85.1 339.3 86 338.7 87.4 339.1C88.8 339.5 91 341.7 92.4 343.3C93.8 344.9 94.4 346.1 95.7 348.5C97 350.9 99 355.1 100.5 357.5C102 359.9 103.3 360.9 104.7 363C106.1 365.1 107.4 367.8 108.8 369.9C110.2 372 111.6 373.8 113 375.5C114.4 377.2 115.8 378.8 117.2 380.3C118.6 381.8 119.7 383 121.3 384.5C122.9 386 125.2 387.9 126.8 389.3C128.4 390.7 129.2 391.3 131 392.8C132.8 394.3 136.1 396.9 137.9 398.3C139.8 399.7 140 400 142.1 401.1C144.2 402.2 148.1 404.2 150.4 405.2C152.7 406.2 153.8 406.6 155.9 407.3C158 408 160.7 408.8 162.8 409.4C164.9 410 165.9 410.2 168.4 410.8C170.9 411.4 175.3 412.4 178.1 412.8C180.9 413.2 182.7 413.4 185 413.4C187.3 413.4 189.1 413.2 191.9 412.8C194.7 412.4 199.1 411.4 201.6 410.8C204.1 410.2 205.1 410 207.2 409.4C209.3 408.8 212 408 214.1 407.3C216.2 406.6 217.3 406.2 219.6 405.2C221.9 404.2 225.8 402.2 227.9 401.1C230 400 230.2 399.7 232.1 398.3C233.9 396.9 237.2 394.3 239 392.8C240.8 391.3 241.6 390.7 243.2 389.3C244.8 387.9 247.1 386 248.7 384.5C250.3 383 251.4 381.8 252.8 380.3C254.2 378.8 255.6 377.2 257 375.5C258.4 373.8 259.8 372 261.2 369.9C262.6 367.8 263.9 365.1 265.3 363C266.7 360.9 268 359.9 269.5 357.5C271 355.1 272.9 350.9 274.3 348.5C275.7 346.1 276.2 344.9 277.6 343.3C279 341.7 281.2 339.5 282.6 339.1C284 338.7 284.9 339.3 285.9 340.8C286.9 342.3 287.7 345.1 288.4 348.3C289.1 351.5 289.6 356 290.1 359.9C290.6 363.8 291 367.6 291.4 371.5C291.8 375.4 292.3 379.2 292.6 383.1C292.9 387 293.1 390.8 293.4 394.7C293.7 398.6 293.9 402.4 294.2 406.3C294.5 410.2 294.7 412.5 295.1 418C295.5 423.5 296 429.8 296.8 439.4C297.6 449 299.2 467 300.1 475.8C301 484.6 301.5 486.9 302.2 492C302.9 497.1 303.8 503.1 304.4 506.1C305 509.1 305.4 509.2 305.6 509.8" fill="none" stroke="#d95319" stroke-width="2" stroke-dasharray="7 5"/>
<rect x="39.7" y="280.2" width="291.3" height="229.6" fill="none" stroke="#262626" stroke-width="1.6"/>
<path d="M39.8 509.8v-3.2M39.8 280.2v3.2M88.3 509.8v-3.2M88.3 280.2v3.2M136.8 509.8v-3.2M136.8 280.2v3.2M185.3 509.8v-3.2M185.3 280.2v3.2M233.8 509.8v-3.2M233.8 280.2v3.2M282.3 509.8v-3.2M282.3 280.2v3.2M330.8 509.8v-3.2M330.8 280.2v3.2M39.7 509.8h3.2M331 509.8h-3.2M39.7 481.1h3.2M331 481.1h-3.2M39.7 452.4h3.2M331 452.4h-3.2M39.7 423.7h3.2M331 423.7h-3.2M39.7 395h3.2M331 395h-3.2M39.7 366.3h3.2M331 366.3h-3.2M39.7 337.6h3.2M331 337.6h-3.2M39.7 308.9h3.2M331 308.9h-3.2M39.7 280.2h3.2M331 280.2h-3.2" stroke="#262626" stroke-width="1.4" fill="none"/>
<g font-family="Liberation Sans, sans-serif" font-weight="bold" font-size="11" fill="#262626">
<text x="39.8" y="524.6" text-anchor="middle">-15</text>
<text x="88.3" y="524.6" text-anchor="middle">-10</text>
<text x="136.8" y="524.6" text-anchor="middle">-5</text>
<text x="185.3" y="524.6" text-anchor="middle">0</text>
<text x="233.8" y="524.6" text-anchor="middle">5</text>
<text x="282.3" y="524.6" text-anchor="middle">10</text>
<text x="330.8" y="524.6" text-anchor="middle">15</text>
<text x="36" y="514.2" text-anchor="end">0</text>
<text x="36" y="485.5" text-anchor="end">0.01</text>
<text x="36" y="456.8" text-anchor="end">0.02</text>
<text x="36" y="428.1" text-anchor="end">0.03</text>
<text x="36" y="399.4" text-anchor="end">0.04</text>
<text x="36" y="370.7" text-anchor="end">0.05</text>
<text x="36" y="342" text-anchor="end">0.06</text>
<text x="36" y="313.3" text-anchor="end">0.07</text>
<text x="36" y="284.6" text-anchor="end">0.08</text>
</g>
<text x="185.3" y="538.6" text-anchor="middle" font-family="Liberation Sans, sans-serif" font-weight="bold" font-size="12" fill="#262626">x [nm]</text>
<text transform="translate(9.9 394.7) rotate(-90)" text-anchor="middle" font-family="Liberation Sans, sans-serif" font-weight="bold" font-size="11.6" letter-spacing="0.3" fill="#262626">P(x)</text>
<rect x="49.3" y="289.7" width="27" height="8.6" fill="#66aad7" stroke="#101820" stroke-width="1.3"/>
<path d="M49 305.5H70" stroke="#d95319" stroke-width="2" stroke-dasharray="7 6.5"/>
<g font-family="Liberation Sans, sans-serif" font-weight="bold" font-size="9.6" fill="#262626">
<text x="78.4" y="297.6">Simulations</text><text x="78.8" y="308.6">Theory</text></g>
<text x="309.3" y="488.8" font-family="Liberation Sans, sans-serif" font-weight="bold" font-size="25" fill="#000">c</text>
<path d="M389.2 510V490.4H397.2V510M397.2 510V447.1H405.3V510M405.3 510V412.2H413.3V510M413.3 510V373.8H421.4V510M421.4 510V322.1H429.4V510M429.4 510V322.9H437.5V510M437.5 510V305.8H445.5V510M445.5 510V316.5H453.6V510M453.6 510V289.8H461.6V510M461.6 510V299.4H469.6V510M469.6 510V315.6H477.7V510M477.7 510V314H485.7V510M485.7 510V342.1H493.8V510M493.8 510V348.6H501.8V510M501.8 510V377.1H509.9V510M509.9 510V411.1H517.9V510M517.9 510V402.1H526V510M526 510V432.2H534V510M534 510V440.7H542V510M542 510V467.4H550.1V510M550.1 510V467.4H558.1V510M558.1 510V489.6H566.2V510M566.2 510V497.5H574.2V510M574.2 510V508.3H582.3V510" fill="#66aad7" stroke="#101820" stroke-width="1.3"/>
<path d="M389.2 509.5C389.3 509 389.1 509.8 389.6 506.4C390.1 503 391.3 495.1 392.1 489.4C392.9 483.7 393.6 478.1 394.5 472.4C395.4 466.7 396.6 461.5 397.7 455.4C398.8 449.3 400 441.6 401.1 435.9C402.2 430.2 403.1 426.6 404.2 421.3C405.3 416 406.7 410.6 407.9 404.3C409.1 398 410.6 389.3 411.5 383.6C412.4 377.9 412.7 374 413.5 369.9C414.3 365.8 415.3 362.8 416.2 358.8C417.1 354.8 417.9 350.2 419 345.9C420.1 341.6 421.3 337 422.7 333C424.1 329 425.8 325.6 427.3 321.9C428.8 318.2 430.5 313.9 431.9 310.8C433.3 307.7 434.1 305.8 435.6 303.5C437.2 301.2 439.4 298.6 441.2 297C443 295.4 445.1 294.5 446.7 293.9C448.3 293.3 449.6 293 451 293.3C452.4 293.6 453.6 294.3 454.8 295.6C456.1 296.9 456.8 298.8 458.5 300.9C460.2 303 462.7 305.6 464.8 308.3C466.9 311 469.1 313.6 471.2 316.8C473.3 320 475.5 323.5 477.6 327.4C479.7 331.3 481.8 335.9 483.9 340.2C486 344.4 488.4 348.8 490.3 352.9C492.2 357 493.8 360.7 495.6 364.6C497.4 368.5 498.9 372.1 500.9 376.2C502.8 380.2 505.6 385.3 507.3 388.9C509 392.4 509.2 393.8 511 397.5C512.8 401.2 515.5 406.6 517.9 411.2C520.3 415.8 523 420.7 525.5 425.2C528 429.7 530.5 433.8 533 438.1C535.5 442.4 538.1 447 540.6 451.1C543.1 455.2 545.4 459.2 548.1 463C550.8 466.8 554.3 470.3 556.8 473.7C559.3 477.1 561.1 480.1 563.3 483.5C565.4 486.9 567.6 490.8 569.7 494.2C571.9 497.6 574.4 501.6 576.2 504C578 506.4 579.8 507.6 580.5 508.3" fill="none" stroke="#d95319" stroke-width="2" stroke-dasharray="7 5"/>
<rect x="389.2" y="282.3" width="289.6" height="227.7" fill="none" stroke="#262626" stroke-width="1.6"/>
<path d="M389.2 510v-3.2M389.2 282.3v3.2M421.4 510v-3.2M421.4 282.3v3.2M453.6 510v-3.2M453.6 282.3v3.2M485.7 510v-3.2M485.7 282.3v3.2M517.9 510v-3.2M517.9 282.3v3.2M550.1 510v-3.2M550.1 282.3v3.2M582.3 510v-3.2M582.3 282.3v3.2M614.4 510v-3.2M614.4 282.3v3.2M646.6 510v-3.2M646.6 282.3v3.2M678.8 510v-3.2M678.8 282.3v3.2M389.2 510h3.2M678.8 510h-3.2M389.2 481.5h3.2M678.8 481.5h-3.2M389.2 453.1h3.2M678.8 453.1h-3.2M389.2 424.6h3.2M678.8 424.6h-3.2M389.2 396.1h3.2M678.8 396.1h-3.2M389.2 367.7h3.2M678.8 367.7h-3.2M389.2 339.2h3.2M678.8 339.2h-3.2M389.2 310.8h3.2M678.8 310.8h-3.2M389.2 282.3h3.2M678.8 282.3h-3.2" stroke="#262626" stroke-width="1.4" fill="none"/>
<g font-family="Liberation Sans, sans-serif" font-weight="bold" font-size="11" fill="#262626">
<text x="389.2" y="524.6" text-anchor="middle">0</text>
<text x="421.4" y="524.6" text-anchor="middle">2</text>
<text x="453.6" y="524.6" text-anchor="middle">4</text>
<text x="485.7" y="524.6" text-anchor="middle">6</text>
<text x="517.9" y="524.6" text-anchor="middle">8</text>
<text x="550.1" y="524.6" text-anchor="middle">10</text>
<text x="582.3" y="524.6" text-anchor="middle">12</text>
<text x="614.4" y="524.6" text-anchor="middle">14</text>
<text x="646.6" y="524.6" text-anchor="middle">16</text>
<text x="678.8" y="524.6" text-anchor="middle">18</text>
<text x="385.3" y="514.2" text-anchor="end">0</text>
<text x="385.3" y="485.7" text-anchor="end">0.02</text>
<text x="385.3" y="457.3" text-anchor="end">0.04</text>
<text x="385.3" y="428.8" text-anchor="end">0.06</text>
<text x="385.3" y="400.3" text-anchor="end">0.08</text>
<text x="385.3" y="371.9" text-anchor="end">0.1</text>
<text x="385.3" y="343.4" text-anchor="end">0.12</text>
<text x="385.3" y="315" text-anchor="end">0.14</text>
<text x="385.3" y="286.5" text-anchor="end">0.16</text>
</g>
<text x="534" y="538.6" text-anchor="middle" font-family="Liberation Sans, sans-serif" font-weight="bold" font-size="12" fill="#262626">z [nm]</text>
<text transform="translate(359.6 396) rotate(-90)" text-anchor="middle" font-family="Liberation Sans, sans-serif" font-weight="bold" font-size="11.6" letter-spacing="0.3" fill="#262626">P(z)</text>
<rect x="585.6" y="291.7" width="27" height="8.6" fill="#66aad7" stroke="#101820" stroke-width="1.3"/>
<path d="M585.4 307.6H606.4" stroke="#d95319" stroke-width="2" stroke-dasharray="7 6.5"/>
<g font-family="Liberation Sans, sans-serif" font-weight="bold" font-size="9.6" fill="#262626">
<text x="614.6" y="299.6">Simulations</text><text x="614.9" y="310.7">Theory</text></g>
<text x="645.4" y="488.5" font-family="Liberation Sans, sans-serif" font-weight="bold" font-size="25" fill="#000">d</text>
</svg></body></html>
